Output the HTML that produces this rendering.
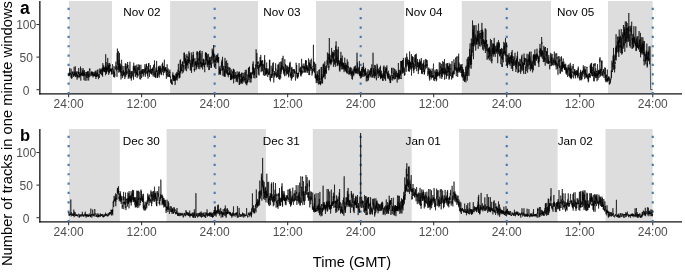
<!DOCTYPE html>
<html><head><meta charset="utf-8"><style>html,body{margin:0;padding:0;background:#fff;width:685px;height:273px;overflow:hidden}svg{display:block;will-change:transform}</style></head>
<body><svg width="685" height="273" viewBox="0 0 685 273" font-family="'Liberation Sans', sans-serif"><rect width="685" height="273" fill="#fff"/><rect x="69" y="1" width="43.00" height="92.7" fill="#dddddd"/>
<rect x="170.1" y="1" width="87.90" height="92.7" fill="#dddddd"/>
<rect x="316" y="1" width="88.20" height="92.7" fill="#dddddd"/>
<rect x="461.8" y="1" width="89.20" height="92.7" fill="#dddddd"/>
<rect x="608" y="1" width="44.70" height="92.7" fill="#dddddd"/>
<text x="123.35" y="16.2" font-size="11.73" fill="#000">Nov 02</text>
<text x="263.35" y="16.2" font-size="11.73" fill="#000">Nov 03</text>
<text x="405.35" y="16.2" font-size="11.73" fill="#000">Nov 04</text>
<text x="557.1" y="16.2" font-size="11.73" fill="#000">Nov 05</text>
<line x1="39.85" y1="1" x2="39.85" y2="94.6" stroke="#111" stroke-width="1.3"/>
<line x1="39.2" y1="93.9" x2="682" y2="93.9" stroke="#111" stroke-width="1.4"/>
<line x1="36.4" y1="89.7" x2="39.6" y2="89.7" stroke="#333" stroke-width="1.07"/>
<text x="26.15" y="94.60000000000001" font-size="12" fill="#4d4d4d" text-anchor="middle">0</text>
<line x1="36.4" y1="57.1" x2="39.6" y2="57.1" stroke="#333" stroke-width="1.07"/>
<text x="26.15" y="62.0" font-size="12" fill="#4d4d4d" text-anchor="middle">50</text>
<line x1="36.4" y1="24.5" x2="39.6" y2="24.5" stroke="#333" stroke-width="1.07"/>
<text x="26.15" y="29.4" font-size="12" fill="#4d4d4d" text-anchor="middle">100</text>
<line x1="68.60" y1="93.7" x2="68.60" y2="97.2" stroke="#333" stroke-width="1.07"/>
<text x="68.60" y="108" font-size="12" fill="#4d4d4d" text-anchor="middle">24:00</text>
<line x1="141.62" y1="93.7" x2="141.62" y2="97.2" stroke="#333" stroke-width="1.07"/>
<text x="141.62" y="108" font-size="12" fill="#4d4d4d" text-anchor="middle">12:00</text>
<line x1="214.64" y1="93.7" x2="214.64" y2="97.2" stroke="#333" stroke-width="1.07"/>
<text x="214.64" y="108" font-size="12" fill="#4d4d4d" text-anchor="middle">24:00</text>
<line x1="287.66" y1="93.7" x2="287.66" y2="97.2" stroke="#333" stroke-width="1.07"/>
<text x="287.66" y="108" font-size="12" fill="#4d4d4d" text-anchor="middle">12:00</text>
<line x1="360.68" y1="93.7" x2="360.68" y2="97.2" stroke="#333" stroke-width="1.07"/>
<text x="360.68" y="108" font-size="12" fill="#4d4d4d" text-anchor="middle">24:00</text>
<line x1="433.70" y1="93.7" x2="433.70" y2="97.2" stroke="#333" stroke-width="1.07"/>
<text x="433.70" y="108" font-size="12" fill="#4d4d4d" text-anchor="middle">12:00</text>
<line x1="506.72" y1="93.7" x2="506.72" y2="97.2" stroke="#333" stroke-width="1.07"/>
<text x="506.72" y="108" font-size="12" fill="#4d4d4d" text-anchor="middle">24:00</text>
<line x1="579.74" y1="93.7" x2="579.74" y2="97.2" stroke="#333" stroke-width="1.07"/>
<text x="579.74" y="108" font-size="12" fill="#4d4d4d" text-anchor="middle">12:00</text>
<line x1="652.76" y1="93.7" x2="652.76" y2="97.2" stroke="#333" stroke-width="1.07"/>
<text x="652.76" y="108" font-size="12" fill="#4d4d4d" text-anchor="middle">24:00</text>
<line x1="68.60" y1="94.1" x2="68.60" y2="1" stroke="#4579b0" stroke-width="2.1" stroke-dasharray="2.2 7.15"/>
<line x1="214.64" y1="94.1" x2="214.64" y2="1" stroke="#4579b0" stroke-width="2.1" stroke-dasharray="2.2 7.15"/>
<line x1="360.68" y1="94.1" x2="360.68" y2="1" stroke="#4579b0" stroke-width="2.1" stroke-dasharray="2.2 7.15"/>
<line x1="506.72" y1="94.1" x2="506.72" y2="1" stroke="#4579b0" stroke-width="2.1" stroke-dasharray="2.2 7.15"/>
<line x1="652.76" y1="94.1" x2="652.76" y2="1" stroke="#4579b0" stroke-width="2.1" stroke-dasharray="2.2 7.15"/>
<polyline fill="none" stroke="#000" stroke-width="0.6" stroke-linejoin="round" points="68.6,74.9 68.7,76.2 68.8,76.0 68.9,72.8 69.0,75.2 69.1,75.6 69.2,74.0 69.3,75.3 69.4,75.6 69.5,75.6 69.6,71.0 69.7,68.1 69.8,69.0 69.9,73.7 70.0,73.1 70.1,74.9 70.2,74.7 70.3,74.0 70.4,72.7 70.5,73.0 70.6,73.7 70.7,73.5 70.8,76.5 70.9,77.6 71.0,70.9 71.1,68.8 71.2,71.0 71.3,71.8 71.4,73.4 71.5,74.4 71.6,78.7 71.7,74.6 71.8,73.8 71.9,78.3 72.0,77.9 72.1,77.8 72.2,75.3 72.3,71.7 72.4,73.3 72.5,74.2 72.6,71.9 72.7,71.7 72.8,72.9 72.9,71.8 73.0,72.9 73.1,73.9 73.2,74.3 73.3,73.5 73.4,75.3 73.5,76.9 73.6,76.6 73.7,74.1 73.8,75.9 73.9,74.4 74.0,76.4 74.1,68.0 74.2,66.8 74.3,75.4 74.4,72.6 74.5,72.9 74.6,73.9 74.7,74.9 74.8,72.9 74.9,71.5 75.0,73.4 75.1,73.1 75.2,74.4 75.3,66.4 75.4,67.0 75.5,74.0 75.6,76.9 75.7,75.4 75.8,73.6 75.9,75.7 76.0,75.9 76.1,77.2 76.2,75.5 76.3,72.3 76.4,73.3 76.5,73.2 76.6,75.5 76.7,75.7 76.8,72.2 76.9,71.1 77.0,74.6 77.1,79.7 77.2,74.4 77.3,74.7 77.4,75.7 77.5,76.3 77.6,77.5 77.7,76.9 77.8,75.9 77.9,75.0 78.0,77.1 78.1,71.9 78.2,73.1 78.3,74.1 78.4,71.8 78.5,74.0 78.6,69.5 78.7,68.0 78.8,70.5 78.9,76.5 79.0,78.2 79.1,77.6 79.2,74.9 79.3,72.2 79.4,76.8 79.5,75.9 79.6,74.3 79.7,75.0 79.8,74.7 79.9,76.6 80.0,76.0 80.1,75.7 80.2,74.1 80.3,75.5 80.4,69.4 80.5,66.5 80.6,70.6 80.7,73.9 80.8,80.6 80.9,68.2 81.0,70.3 81.1,75.5 81.2,72.8 81.3,75.1 81.4,73.4 81.5,73.2 81.6,73.4 81.7,75.3 81.8,74.4 81.9,75.4 82.0,74.9 82.1,73.3 82.2,73.5 82.3,72.2 82.4,73.6 82.5,71.9 82.6,71.0 82.7,76.1 82.8,69.7 82.9,75.3 83.0,68.0 83.1,68.8 83.2,74.6 83.3,75.8 83.4,76.2 83.5,73.1 83.6,76.0 83.7,74.3 83.8,72.3 83.9,71.5 84.0,80.1 84.1,77.4 84.2,73.7 84.3,74.8 84.4,70.1 84.5,72.4 84.6,75.7 84.7,75.0 84.8,73.7 84.9,74.9 85.0,76.6 85.1,77.5 85.2,80.9 85.3,78.8 85.4,75.9 85.5,75.3 85.6,75.1 85.7,75.4 85.8,75.3 85.9,75.6 86.0,71.9 86.1,75.2 86.2,74.0 86.3,72.0 86.4,74.8 86.5,77.8 86.6,77.7 86.7,76.9 86.8,74.2 86.9,80.6 87.0,80.0 87.1,75.5 87.2,73.8 87.3,74.6 87.4,71.7 87.5,73.7 87.6,73.4 87.7,76.7 87.8,77.9 87.9,71.4 88.0,73.2 88.1,71.0 88.2,75.0 88.3,75.4 88.4,76.4 88.5,73.8 88.6,77.9 88.7,80.5 88.8,76.1 88.9,76.4 89.0,74.6 89.1,74.8 89.2,72.6 89.3,77.3 89.4,68.9 89.5,69.3 89.6,70.3 89.7,70.5 89.8,68.3 89.9,68.6 90.0,70.8 90.1,72.4 90.2,72.9 90.3,73.6 90.4,73.7 90.5,74.6 90.6,74.4 90.7,76.3 90.8,75.2 90.9,75.0 91.0,73.9 91.1,73.5 91.2,71.9 91.3,74.5 91.4,72.7 91.5,72.4 91.6,74.5 91.7,75.7 91.8,74.8 91.9,71.1 92.0,73.9 92.1,75.1 92.2,72.5 92.3,75.4 92.4,74.0 92.5,72.4 92.6,74.0 92.7,74.3 92.8,75.3 92.9,72.1 93.0,77.4 93.1,75.3 93.2,72.3 93.3,75.0 93.4,74.6 93.5,75.7 93.6,75.0 93.7,75.1 93.8,75.9 93.9,74.2 94.0,76.3 94.1,75.0 94.2,73.5 94.3,74.6 94.4,76.0 94.5,75.4 94.6,73.7 94.7,75.9 94.8,72.1 94.9,71.6 95.0,73.5 95.1,71.7 95.2,73.6 95.3,74.4 95.4,76.8 95.5,74.5 95.6,73.8 95.7,75.3 95.8,70.6 95.9,79.0 96.0,76.2 96.1,74.5 96.2,76.7 96.3,76.2 96.4,72.5 96.5,75.2 96.6,77.0 96.7,75.6 96.8,75.1 96.9,76.3 97.0,74.3 97.1,71.1 97.2,70.1 97.3,72.0 97.4,72.6 97.5,73.6 97.6,73.0 97.7,76.0 97.8,72.0 97.9,69.4 98.0,71.3 98.1,76.8 98.2,74.9 98.3,76.4 98.4,79.2 98.5,77.1 98.6,75.4 98.7,75.3 98.8,74.7 98.9,74.0 99.0,75.0 99.1,74.8 99.2,77.6 99.3,76.7 99.4,76.6 99.5,77.6 99.6,75.9 99.7,69.6 99.8,68.4 99.9,70.3 100.0,73.2 100.1,73.4 100.2,71.0 100.3,72.2 100.4,69.5 100.5,74.1 100.6,73.6 100.7,72.1 100.8,70.6 100.9,70.7 101.0,71.1 101.1,69.4 101.2,68.6 101.3,69.8 101.4,69.6 101.5,72.8 101.6,75.0 101.7,73.5 101.8,73.7 101.9,69.3 102.0,71.7 102.1,71.3 102.2,72.3 102.3,75.7 102.4,67.5 102.5,69.5 102.6,76.7 102.7,70.1 102.8,63.2 102.9,64.5 103.0,68.8 103.1,71.0 103.2,70.7 103.3,68.1 103.4,67.3 103.5,70.7 103.6,70.1 103.7,65.1 103.8,69.3 103.9,70.4 104.0,72.2 104.1,69.8 104.2,71.7 104.3,67.4 104.4,69.5 104.5,67.7 104.6,69.9 104.7,72.1 104.8,68.2 104.9,68.0 105.0,68.1 105.1,71.5 105.2,71.9 105.3,66.5 105.4,68.3 105.5,70.2 105.6,75.3 105.7,54.2 105.8,65.3 105.9,70.1 106.0,64.7 106.1,62.2 106.2,66.1 106.3,69.7 106.4,66.7 106.5,73.9 106.6,68.5 106.7,72.5 106.8,70.3 106.9,72.0 107.0,67.4 107.1,67.1 107.2,67.1 107.3,70.7 107.4,71.1 107.5,67.6 107.6,69.7 107.7,57.9 107.8,69.5 107.9,68.2 108.0,67.6 108.1,63.2 108.2,66.0 108.3,67.7 108.4,65.7 108.5,69.0 108.6,65.0 108.7,74.9 108.8,65.4 108.9,72.2 109.0,66.4 109.1,69.0 109.2,71.4 109.3,71.2 109.4,73.3 109.5,68.7 109.6,62.9 109.7,67.7 109.8,65.2 109.9,66.1 110.0,64.3 110.1,69.2 110.2,71.4 110.3,68.5 110.4,71.1 110.5,70.5 110.6,69.5 110.7,69.4 110.8,68.7 110.9,70.5 111.0,70.7 111.1,69.0 111.2,71.8 111.3,68.9 111.4,69.8 111.5,70.6 111.6,74.0 111.7,70.4 111.8,74.7 111.9,72.7 112.0,70.5 112.1,67.9 112.2,70.1 112.3,69.8 112.4,66.3 112.5,64.2 112.6,64.8 112.7,64.7 112.8,69.9 112.9,73.5 113.0,74.1 113.1,72.9 113.2,69.9 113.3,69.7 113.4,72.1 113.5,77.1 113.6,76.3 113.7,72.1 113.8,70.8 113.9,68.4 114.0,66.1 114.1,66.7 114.2,68.1 114.3,74.1 114.4,71.8 114.5,74.6 114.6,77.5 114.7,73.6 114.8,76.4 114.9,75.1 115.0,70.6 115.1,70.3 115.2,69.3 115.3,67.9 115.4,67.2 115.5,67.9 115.6,69.3 115.7,65.5 115.8,66.4 115.9,61.6 116.0,65.1 116.1,68.3 116.2,68.5 116.3,68.9 116.4,70.3 116.5,66.5 116.6,65.9 116.7,68.2 116.8,71.3 116.9,70.8 117.0,76.9 117.1,59.9 117.2,52.9 117.3,64.7 117.4,48.6 117.5,53.2 117.6,61.9 117.7,64.8 117.8,70.0 117.9,69.7 118.0,69.2 118.1,66.8 118.2,69.2 118.3,55.6 118.4,51.1 118.5,57.7 118.6,61.3 118.7,72.5 118.8,65.0 118.9,62.0 119.0,60.0 119.1,67.8 119.2,64.4 119.3,68.6 119.4,70.6 119.5,52.9 119.6,64.3 119.7,63.7 119.8,72.2 119.9,65.5 120.0,63.5 120.1,65.1 120.2,69.8 120.3,70.2 120.4,72.4 120.5,66.6 120.6,71.3 120.7,72.4 120.8,64.5 120.9,72.6 121.0,79.5 121.1,72.1 121.2,71.0 121.3,75.7 121.4,61.1 121.5,59.8 121.6,59.8 121.7,62.2 121.8,63.6 121.9,68.7 122.0,70.3 122.1,65.8 122.2,69.9 122.3,76.7 122.4,78.0 122.5,78.0 122.6,74.8 122.7,76.3 122.8,70.7 122.9,73.3 123.0,72.1 123.1,75.3 123.2,75.0 123.3,70.1 123.4,71.2 123.5,75.1 123.6,70.3 123.7,69.5 123.8,68.5 123.9,66.1 124.0,71.6 124.1,75.6 124.2,76.3 124.3,75.3 124.4,74.0 124.5,74.1 124.6,71.8 124.7,74.6 124.8,79.1 124.9,77.3 125.0,74.3 125.1,74.0 125.2,64.8 125.3,63.3 125.4,66.5 125.5,70.1 125.6,72.3 125.7,77.1 125.8,76.8 125.9,63.7 126.0,75.2 126.1,69.3 126.2,66.4 126.3,66.1 126.4,68.6 126.5,71.1 126.6,73.4 126.7,72.1 126.8,74.5 126.9,72.8 127.0,70.7 127.1,73.5 127.2,70.5 127.3,64.3 127.4,65.0 127.5,68.3 127.6,62.0 127.7,65.6 127.8,67.7 127.9,66.0 128.0,65.0 128.1,67.1 128.2,78.6 128.3,77.8 128.4,73.6 128.5,69.1 128.6,68.4 128.7,72.0 128.8,76.9 128.9,75.8 129.0,75.1 129.1,78.5 129.2,75.8 129.3,73.6 129.4,69.7 129.5,69.8 129.6,76.4 129.7,71.3 129.8,72.0 129.9,61.7 130.0,64.6 130.1,74.0 130.2,73.0 130.3,74.7 130.4,75.7 130.5,75.6 130.6,78.5 130.7,78.0 130.8,75.1 130.9,72.6 131.0,70.9 131.1,73.1 131.2,72.4 131.3,79.3 131.4,80.6 131.5,77.0 131.6,74.6 131.7,78.0 131.8,71.5 131.9,71.2 132.0,74.4 132.1,71.7 132.2,71.3 132.3,71.4 132.4,73.8 132.5,73.9 132.6,74.5 132.7,75.4 132.8,74.5 132.9,76.6 133.0,73.3 133.1,69.8 133.2,67.1 133.3,65.9 133.4,67.8 133.5,79.6 133.6,73.3 133.7,62.7 133.8,65.0 133.9,70.0 134.0,70.4 134.1,70.3 134.2,68.0 134.3,69.2 134.4,73.4 134.5,67.9 134.6,69.7 134.7,66.0 134.8,69.6 134.9,69.3 135.0,65.8 135.1,69.3 135.2,75.5 135.3,74.7 135.4,76.9 135.5,75.0 135.6,68.8 135.7,72.0 135.8,71.5 135.9,65.5 136.0,67.6 136.1,73.6 136.2,72.2 136.3,74.8 136.4,72.0 136.5,74.2 136.6,71.5 136.7,73.7 136.8,67.0 136.9,65.2 137.0,64.5 137.1,78.1 137.2,73.9 137.3,72.5 137.4,75.1 137.5,67.5 137.6,67.5 137.7,72.8 137.8,74.4 137.9,76.5 138.0,74.4 138.1,75.5 138.2,72.8 138.3,69.7 138.4,67.2 138.5,68.7 138.6,69.6 138.7,69.9 138.8,64.2 138.9,64.3 139.0,66.2 139.1,65.1 139.2,70.4 139.3,69.7 139.4,65.7 139.5,74.4 139.6,71.3 139.7,76.6 139.8,79.2 139.9,77.4 140.0,74.3 140.1,74.3 140.2,71.2 140.3,72.9 140.4,73.2 140.5,74.7 140.6,76.6 140.7,79.5 140.8,75.9 140.9,64.7 141.0,73.7 141.1,71.5 141.2,70.9 141.3,69.7 141.4,73.8 141.5,75.9 141.6,77.9 141.7,75.8 141.8,75.4 141.9,73.1 142.0,70.5 142.1,72.9 142.2,73.8 142.3,71.0 142.4,73.5 142.5,69.3 142.6,70.7 142.7,70.4 142.8,70.5 142.9,69.2 143.0,73.3 143.1,74.6 143.2,76.7 143.3,75.4 143.4,71.3 143.5,71.2 143.6,69.2 143.7,72.0 143.8,75.3 143.9,75.0 144.0,72.6 144.1,71.8 144.2,72.7 144.3,69.2 144.4,71.1 144.5,72.3 144.6,71.1 144.7,70.7 144.8,65.6 144.9,64.2 145.0,69.1 145.1,72.5 145.2,73.0 145.3,76.8 145.4,72.3 145.5,67.8 145.6,72.1 145.7,74.5 145.8,71.5 145.9,68.1 146.0,69.7 146.1,66.3 146.2,67.9 146.3,64.1 146.4,67.0 146.5,63.7 146.6,66.7 146.7,72.8 146.8,71.6 146.9,73.7 147.0,71.2 147.1,69.1 147.2,66.4 147.3,71.5 147.4,71.5 147.5,75.9 147.6,71.0 147.7,70.8 147.8,71.4 147.9,75.3 148.0,78.6 148.1,73.8 148.2,69.9 148.3,66.2 148.4,72.3 148.5,65.1 148.6,63.3 148.7,66.8 148.8,64.4 148.9,63.1 149.0,69.6 149.1,71.7 149.2,72.2 149.3,69.4 149.4,72.1 149.5,76.9 149.6,71.3 149.7,71.7 149.8,70.6 149.9,72.2 150.0,72.2 150.1,71.7 150.2,69.4 150.3,70.6 150.4,65.1 150.5,70.2 150.6,70.8 150.7,73.1 150.8,70.9 150.9,70.4 151.0,74.0 151.1,72.3 151.2,71.3 151.3,73.8 151.4,73.5 151.5,72.8 151.6,72.8 151.7,68.8 151.8,71.2 151.9,74.8 152.0,74.8 152.1,69.0 152.2,70.7 152.3,68.5 152.4,69.1 152.5,70.3 152.6,67.5 152.7,72.5 152.8,71.6 152.9,73.3 153.0,73.8 153.1,75.9 153.2,76.6 153.3,70.2 153.4,70.6 153.5,65.2 153.6,66.6 153.7,70.4 153.8,73.0 153.9,75.4 154.0,72.4 154.1,72.6 154.2,67.0 154.3,64.0 154.4,67.2 154.5,60.4 154.6,64.7 154.7,77.2 154.8,73.6 154.9,74.0 155.0,74.7 155.1,74.6 155.2,71.4 155.3,75.2 155.4,73.6 155.5,76.5 155.6,77.8 155.7,71.7 155.8,77.7 155.9,67.6 156.0,70.0 156.1,70.8 156.2,71.9 156.3,69.7 156.4,71.7 156.5,67.7 156.6,60.9 156.7,63.9 156.8,71.7 156.9,71.4 157.0,71.1 157.1,75.9 157.2,77.3 157.3,77.0 157.4,72.6 157.5,78.0 157.6,76.0 157.7,72.5 157.8,71.2 157.9,70.0 158.0,76.2 158.1,74.6 158.2,73.3 158.3,66.8 158.4,70.7 158.5,68.2 158.6,66.5 158.7,70.3 158.8,68.4 158.9,71.8 159.0,74.5 159.1,68.1 159.2,77.6 159.3,65.7 159.4,67.9 159.5,71.7 159.6,67.6 159.7,74.0 159.8,71.7 159.9,68.0 160.0,68.9 160.1,71.9 160.2,67.5 160.3,68.9 160.4,65.8 160.5,71.3 160.6,71.4 160.7,69.8 160.8,72.9 160.9,68.2 161.0,68.1 161.1,74.3 161.2,72.2 161.3,75.2 161.4,73.6 161.5,70.2 161.6,69.6 161.7,70.1 161.8,69.1 161.9,67.4 162.0,66.5 162.1,64.1 162.2,67.2 162.3,69.7 162.4,72.1 162.5,66.3 162.6,62.5 162.7,70.3 162.8,66.3 162.9,68.4 163.0,71.6 163.1,72.5 163.2,73.6 163.3,74.8 163.4,75.3 163.5,73.0 163.6,66.0 163.7,65.8 163.8,68.9 163.9,68.2 164.0,71.1 164.1,73.0 164.2,63.2 164.3,62.2 164.4,59.7 164.5,65.0 164.6,70.7 164.7,68.4 164.8,70.9 164.9,69.1 165.0,72.2 165.1,68.4 165.2,69.7 165.3,68.0 165.4,68.8 165.5,68.9 165.6,67.1 165.7,70.8 165.8,67.9 165.9,67.2 166.0,71.5 166.1,74.1 166.2,74.7 166.3,74.3 166.4,78.8 166.5,73.0 166.6,70.9 166.7,69.3 166.8,72.9 166.9,73.4 167.0,75.6 167.1,64.3 167.2,66.3 167.3,72.0 167.4,70.4 167.5,76.4 167.6,77.1 167.7,76.7 167.8,74.6 167.9,73.8 168.0,73.1 168.1,72.8 168.2,68.6 168.3,71.0 168.4,71.7 168.5,73.4 168.6,74.3 168.7,76.2 168.8,75.6 168.9,77.0 169.0,71.6 169.1,71.4 169.2,76.7 169.3,74.2 169.4,74.7 169.5,77.0 169.6,75.3 169.7,73.1 169.8,69.6 169.9,72.5 170.0,72.5 170.1,71.9 170.2,74.8 170.3,75.9 170.4,77.9 170.5,76.5 170.6,82.6 170.7,81.1 170.8,80.4 170.9,81.1 171.0,80.3 171.1,79.2 171.2,80.1 171.3,82.3 171.4,83.0 171.5,83.8 171.6,81.4 171.7,79.6 171.8,84.0 171.9,82.1 172.0,82.4 172.1,83.1 172.2,84.8 172.3,80.2 172.4,79.3 172.5,78.9 172.6,79.0 172.7,74.5 172.8,76.9 172.9,72.4 173.0,76.5 173.1,79.4 173.2,76.4 173.3,75.1 173.4,81.1 173.5,78.8 173.6,76.6 173.7,75.9 173.8,75.8 173.9,78.1 174.0,80.9 174.1,75.6 174.2,76.2 174.3,80.0 174.4,80.3 174.5,81.1 174.6,76.5 174.7,80.0 174.8,75.5 174.9,77.4 175.0,81.5 175.1,85.0 175.2,83.4 175.3,83.4 175.4,79.3 175.5,77.2 175.6,80.6 175.7,79.2 175.8,77.9 175.9,73.4 176.0,75.4 176.1,77.9 176.2,74.9 176.3,74.0 176.4,79.8 176.5,78.7 176.6,76.5 176.7,72.5 176.8,71.9 176.9,72.6 177.0,78.2 177.1,74.8 177.2,80.6 177.3,75.0 177.4,73.8 177.5,76.7 177.6,75.0 177.7,72.3 177.8,72.8 177.9,74.7 178.0,69.7 178.1,71.0 178.2,72.0 178.3,65.7 178.4,63.8 178.5,66.7 178.6,71.8 178.7,72.4 178.8,74.5 178.9,73.0 179.0,78.5 179.1,72.3 179.2,75.7 179.3,71.6 179.4,71.1 179.5,72.3 179.6,77.8 179.7,77.4 179.8,73.3 179.9,77.4 180.0,72.9 180.1,60.2 180.2,71.1 180.3,70.9 180.4,73.4 180.5,62.3 180.6,59.5 180.7,64.0 180.8,71.7 180.9,70.3 181.0,67.3 181.1,70.8 181.2,70.2 181.3,70.9 181.4,68.4 181.5,68.1 181.6,64.2 181.7,65.9 181.8,69.2 181.9,68.5 182.0,70.9 182.1,70.1 182.2,73.5 182.3,69.6 182.4,61.9 182.5,65.3 182.6,64.8 182.7,61.4 182.8,65.7 182.9,66.5 183.0,67.6 183.1,65.1 183.2,65.8 183.3,66.3 183.4,72.4 183.5,66.2 183.6,65.4 183.7,66.3 183.8,58.9 183.9,55.3 184.0,52.7 184.1,55.7 184.2,63.5 184.3,56.0 184.4,52.7 184.5,53.9 184.6,54.9 184.7,61.6 184.8,57.3 184.9,57.5 185.0,54.7 185.1,70.5 185.2,65.4 185.3,68.6 185.4,69.0 185.5,65.1 185.6,58.1 185.7,65.3 185.8,59.2 185.9,58.9 186.0,63.3 186.1,66.5 186.2,61.5 186.3,61.5 186.4,60.8 186.5,65.2 186.6,71.2 186.7,61.5 186.8,64.8 186.9,54.1 187.0,57.8 187.1,56.1 187.2,65.5 187.3,64.7 187.4,61.2 187.5,60.1 187.6,59.2 187.7,61.4 187.8,61.4 187.9,64.1 188.0,68.6 188.1,68.3 188.2,61.7 188.3,56.8 188.4,57.0 188.5,63.2 188.6,62.0 188.7,60.2 188.8,62.0 188.9,51.3 189.0,53.0 189.1,61.2 189.2,61.1 189.3,53.0 189.4,54.2 189.5,61.2 189.6,60.0 189.7,60.0 189.8,63.7 189.9,63.9 190.0,59.8 190.1,60.6 190.2,64.2 190.3,70.3 190.4,63.6 190.5,64.9 190.6,63.7 190.7,66.6 190.8,67.0 190.9,70.6 191.0,69.4 191.1,65.1 191.2,62.7 191.3,52.5 191.4,65.5 191.5,72.7 191.6,73.0 191.7,65.5 191.8,65.8 191.9,60.3 192.0,56.2 192.1,55.1 192.2,64.4 192.3,60.5 192.4,67.2 192.5,62.1 192.6,58.7 192.7,62.9 192.8,63.7 192.9,62.9 193.0,62.7 193.1,63.5 193.2,51.8 193.3,62.2 193.4,56.1 193.5,54.6 193.6,60.3 193.7,59.0 193.8,62.4 193.9,66.6 194.0,63.5 194.1,64.0 194.2,70.2 194.3,69.0 194.4,71.6 194.5,71.6 194.6,70.5 194.7,66.4 194.8,61.6 194.9,58.1 195.0,61.5 195.1,63.2 195.2,62.0 195.3,64.8 195.4,61.4 195.5,65.3 195.6,63.8 195.7,62.8 195.8,62.4 195.9,61.8 196.0,70.1 196.1,61.0 196.2,61.9 196.3,66.0 196.4,66.5 196.5,63.4 196.6,68.5 196.7,61.9 196.8,55.1 196.9,52.7 197.0,54.7 197.1,51.0 197.2,58.8 197.3,62.7 197.4,64.8 197.5,61.8 197.6,62.4 197.7,53.8 197.8,51.9 197.9,66.8 198.0,67.0 198.1,58.1 198.2,62.5 198.3,67.2 198.4,68.8 198.5,68.3 198.6,65.4 198.7,62.6 198.8,64.3 198.9,64.4 199.0,64.0 199.1,53.9 199.2,52.2 199.3,61.0 199.4,55.7 199.5,51.1 199.6,57.3 199.7,67.8 199.8,69.3 199.9,68.4 200.0,60.8 200.1,50.4 200.2,67.1 200.3,64.4 200.4,63.4 200.5,61.6 200.6,63.2 200.7,63.7 200.8,61.7 200.9,53.3 201.0,57.1 201.1,61.0 201.2,63.3 201.3,62.2 201.4,63.7 201.5,66.5 201.6,63.0 201.7,67.6 201.8,58.6 201.9,56.0 202.0,55.8 202.1,51.0 202.2,52.5 202.3,61.2 202.4,65.9 202.5,64.7 202.6,69.5 202.7,67.2 202.8,63.4 202.9,63.8 203.0,62.8 203.1,65.2 203.2,59.0 203.3,64.0 203.4,61.8 203.5,65.1 203.6,58.8 203.7,59.2 203.8,61.1 203.9,64.9 204.0,59.8 204.1,66.8 204.2,66.7 204.3,63.2 204.4,67.2 204.5,65.6 204.6,68.3 204.7,72.2 204.8,71.3 204.9,65.6 205.0,62.9 205.1,64.7 205.2,64.7 205.3,57.0 205.4,53.2 205.5,56.7 205.6,52.3 205.7,53.7 205.8,62.5 205.9,61.7 206.0,64.5 206.1,52.6 206.2,55.2 206.3,60.2 206.4,56.6 206.5,53.0 206.6,61.0 206.7,60.8 206.8,59.6 206.9,59.8 207.0,56.5 207.1,59.9 207.2,65.0 207.3,67.2 207.4,59.8 207.5,65.0 207.6,61.1 207.7,55.3 207.8,54.3 207.9,54.5 208.0,57.7 208.1,56.2 208.2,53.9 208.3,56.5 208.4,64.7 208.5,61.0 208.6,62.6 208.7,62.3 208.8,70.1 208.9,60.2 209.0,64.1 209.1,58.8 209.2,58.1 209.3,59.2 209.4,69.9 209.5,63.7 209.6,56.8 209.7,62.8 209.8,59.5 209.9,59.5 210.0,60.2 210.1,61.0 210.2,60.6 210.3,61.7 210.4,62.7 210.5,64.7 210.6,61.8 210.7,59.3 210.8,56.9 210.9,60.7 211.0,67.9 211.1,62.7 211.2,63.7 211.3,67.8 211.4,65.5 211.5,65.9 211.6,60.1 211.7,57.3 211.8,58.1 211.9,55.8 212.0,60.4 212.1,50.8 212.2,48.6 212.3,52.4 212.4,53.0 212.5,55.7 212.6,54.8 212.7,52.4 212.8,50.3 212.9,54.9 213.0,63.7 213.1,60.6 213.2,59.1 213.3,51.8 213.4,52.8 213.5,57.2 213.6,45.0 213.7,48.2 213.8,59.4 213.9,62.6 214.1,53.7 214.2,57.8 214.3,66.4 214.4,67.0 214.5,66.5 214.6,65.8 214.7,67.6 214.8,62.2 214.9,59.6 215.0,62.2 215.1,60.2 215.2,62.1 215.3,56.3 215.4,61.6 215.5,64.9 215.6,64.2 215.7,64.2 215.8,69.0 215.9,62.9 216.0,60.1 216.1,58.0 216.2,59.1 216.3,57.8 216.4,60.5 216.5,59.8 216.6,56.8 216.7,54.9 216.8,63.0 216.9,63.2 217.0,62.9 217.1,57.4 217.2,55.1 217.3,60.6 217.4,56.1 217.5,57.4 217.6,61.7 217.7,59.5 217.8,53.5 217.9,58.5 218.0,62.3 218.1,57.0 218.2,57.9 218.3,58.7 218.4,62.8 218.5,61.1 218.6,60.0 218.7,57.0 218.8,70.2 218.9,74.8 219.0,74.8 219.1,74.9 219.2,69.0 219.3,66.4 219.4,67.1 219.5,73.4 219.6,72.4 219.7,73.6 219.8,69.9 219.9,70.3 220.0,71.0 220.1,67.7 220.2,69.8 220.3,73.4 220.4,69.2 220.5,71.5 220.6,74.8 220.7,71.6 220.8,69.7 220.9,67.8 221.0,65.8 221.1,67.1 221.2,66.1 221.3,65.9 221.4,64.5 221.5,61.3 221.6,61.5 221.7,65.5 221.8,63.1 221.9,63.4 222.0,70.7 222.1,59.5 222.2,61.2 222.3,70.5 222.4,67.6 222.5,56.8 222.6,59.8 222.7,69.2 222.8,73.2 222.9,75.8 223.0,72.7 223.1,68.5 223.2,69.4 223.3,68.3 223.4,68.3 223.5,69.1 223.6,68.9 223.7,65.9 223.8,70.0 223.9,71.9 224.0,74.7 224.1,76.6 224.2,69.2 224.3,73.3 224.4,75.6 224.5,71.2 224.6,73.7 224.7,76.4 224.8,71.7 224.9,60.6 225.0,57.9 225.1,76.9 225.2,74.5 225.3,68.7 225.4,68.5 225.5,66.1 225.6,66.7 225.7,68.5 225.8,61.3 225.9,66.5 226.0,72.6 226.1,71.0 226.2,69.5 226.3,73.4 226.4,68.3 226.5,65.7 226.6,61.5 226.7,60.4 226.8,69.9 226.9,70.3 227.0,72.4 227.1,74.4 227.2,74.6 227.3,71.0 227.4,70.6 227.5,74.7 227.6,65.6 227.7,63.0 227.8,65.3 227.9,70.8 228.0,68.7 228.1,66.9 228.2,76.3 228.3,77.2 228.4,73.5 228.5,73.2 228.6,74.9 228.7,73.3 228.8,74.9 228.9,72.8 229.0,72.3 229.1,72.8 229.2,72.2 229.3,67.2 229.4,70.4 229.5,72.8 229.6,74.6 229.7,72.3 229.8,74.1 229.9,74.9 230.0,70.9 230.1,67.9 230.2,72.2 230.3,71.5 230.4,75.4 230.5,79.9 230.6,76.6 230.7,74.5 230.8,74.9 230.9,80.2 231.0,73.6 231.1,77.1 231.2,71.8 231.3,69.5 231.4,76.0 231.5,77.8 231.6,78.7 231.7,74.7 231.8,79.7 231.9,77.2 232.0,77.3 232.1,75.4 232.2,76.4 232.3,78.7 232.4,75.6 232.5,72.0 232.6,72.7 232.7,71.2 232.8,71.6 232.9,73.2 233.0,74.3 233.1,78.0 233.2,71.0 233.3,68.9 233.4,71.7 233.5,68.9 233.6,83.3 233.7,80.8 233.8,69.3 233.9,78.5 234.0,73.8 234.1,71.9 234.2,70.2 234.3,70.7 234.4,72.7 234.5,77.1 234.6,78.5 234.7,78.7 234.8,76.8 234.9,75.0 235.0,75.9 235.1,76.6 235.2,77.3 235.3,78.0 235.4,77.2 235.5,72.6 235.6,72.0 235.7,72.4 235.8,78.5 235.9,76.9 236.0,78.6 236.1,81.4 236.2,82.1 236.3,78.1 236.4,77.1 236.5,75.0 236.6,76.8 236.7,79.8 236.8,80.1 236.9,80.8 237.0,73.6 237.1,71.3 237.2,79.9 237.3,79.4 237.4,80.4 237.5,82.2 237.6,74.8 237.7,75.1 237.8,76.0 237.9,74.7 238.0,78.2 238.1,78.8 238.2,77.7 238.3,74.4 238.4,73.3 238.5,73.4 238.6,76.8 238.7,74.9 238.8,72.0 238.9,71.8 239.0,73.6 239.1,79.8 239.2,85.0 239.3,73.2 239.4,71.7 239.5,84.0 239.6,84.6 239.7,81.9 239.8,77.7 239.9,77.3 240.0,74.0 240.1,76.9 240.2,73.8 240.3,75.3 240.4,77.0 240.5,78.7 240.6,81.8 240.7,83.8 240.8,83.6 240.9,80.2 241.0,79.1 241.1,82.0 241.2,79.6 241.3,79.5 241.4,83.0 241.5,81.8 241.6,72.7 241.7,75.1 241.8,80.2 241.9,79.6 242.0,72.7 242.1,84.1 242.2,80.8 242.3,79.3 242.4,79.4 242.5,77.0 242.6,79.2 242.7,79.1 242.8,81.2 242.9,79.3 243.0,77.5 243.1,82.6 243.2,72.9 243.3,74.3 243.4,77.2 243.5,77.6 243.6,76.5 243.7,77.8 243.8,77.0 243.9,77.2 244.0,79.0 244.1,80.8 244.2,81.2 244.3,78.7 244.4,79.9 244.5,79.4 244.6,79.1 244.7,73.0 244.8,72.3 244.9,73.6 245.0,82.6 245.1,82.4 245.2,71.3 245.3,69.9 245.4,71.5 245.5,77.4 245.6,79.6 245.7,78.6 245.8,83.4 245.9,81.5 246.0,83.7 246.1,84.4 246.2,80.7 246.3,73.9 246.4,69.8 246.5,73.9 246.6,77.4 246.7,80.5 246.8,85.3 246.9,82.0 247.0,83.4 247.1,80.6 247.2,82.5 247.3,79.8 247.4,82.0 247.5,81.3 247.6,79.2 247.7,79.0 247.8,77.0 247.9,74.4 248.0,82.1 248.1,74.8 248.2,73.3 248.3,70.8 248.4,68.0 248.5,70.4 248.6,76.6 248.7,71.4 248.8,67.4 248.9,79.9 249.0,76.4 249.1,75.5 249.2,75.3 249.3,75.4 249.4,73.9 249.5,66.6 249.6,77.1 249.7,75.0 249.8,77.7 249.9,82.1 250.0,82.5 250.1,74.8 250.2,77.2 250.3,77.7 250.4,78.1 250.5,72.6 250.6,75.8 250.7,72.7 250.8,77.2 250.9,79.0 251.0,82.5 251.1,78.8 251.2,72.9 251.3,76.5 251.4,78.0 251.5,75.4 251.6,78.6 251.7,78.6 251.8,73.1 251.9,72.6 252.0,72.1 252.1,72.6 252.2,73.7 252.3,71.9 252.4,72.2 252.5,74.5 252.6,73.9 252.7,73.0 252.8,63.8 252.9,72.3 253.0,67.1 253.1,70.1 253.2,61.4 253.3,70.4 253.4,66.8 253.5,72.0 253.6,72.7 253.7,68.1 253.8,78.1 253.9,68.5 254.0,75.5 254.1,75.2 254.2,70.7 254.3,71.5 254.4,71.0 254.5,74.9 254.6,74.1 254.7,74.1 254.8,68.4 254.9,71.9 255.0,78.4 255.1,76.7 255.2,73.3 255.3,72.1 255.4,67.2 255.5,68.7 255.6,64.6 255.7,66.5 255.8,65.9 255.9,63.8 256.0,60.5 256.1,49.3 256.2,53.4 256.3,61.0 256.4,71.2 256.5,77.4 256.6,76.4 256.7,77.6 256.8,55.3 256.9,53.0 257.0,55.3 257.1,65.6 257.2,67.0 257.3,65.3 257.4,64.7 257.5,68.7 257.6,67.7 257.7,61.9 257.8,63.6 257.9,62.5 258.0,63.6 258.1,61.3 258.2,68.3 258.3,74.6 258.4,67.3 258.5,69.5 258.6,70.6 258.7,65.2 258.8,66.4 258.9,71.6 259.0,72.4 259.1,75.5 259.2,67.6 259.3,64.7 259.4,66.7 259.5,67.9 259.6,67.4 259.7,65.8 259.8,64.8 259.9,63.5 260.0,66.4 260.1,57.0 260.2,66.7 260.3,64.7 260.4,60.5 260.5,64.9 260.6,60.6 260.7,64.4 260.8,54.9 260.9,66.8 261.0,69.2 261.1,72.2 261.2,67.6 261.3,65.8 261.4,65.7 261.5,60.7 261.6,65.0 261.7,65.7 261.8,60.9 261.9,67.2 262.0,71.2 262.1,63.9 262.2,66.6 262.3,70.4 262.4,71.1 262.5,64.9 262.6,60.0 262.7,61.8 262.8,61.5 262.9,63.0 263.0,63.5 263.1,66.2 263.2,63.9 263.3,64.1 263.4,75.1 263.5,70.8 263.6,71.3 263.7,70.2 263.8,69.4 263.9,65.2 264.0,67.9 264.1,67.5 264.2,70.3 264.3,76.0 264.4,73.0 264.5,63.1 264.6,55.1 264.7,68.6 264.8,59.8 264.9,63.7 265.0,68.5 265.1,69.6 265.2,69.1 265.3,68.8 265.4,68.3 265.5,75.2 265.6,70.6 265.7,69.5 265.8,68.5 265.9,73.4 266.0,71.7 266.1,75.5 266.2,74.3 266.3,73.3 266.4,68.8 266.5,73.7 266.6,65.7 266.7,62.5 266.8,73.3 266.9,71.7 267.0,68.4 267.1,72.8 267.2,73.4 267.3,71.9 267.4,70.3 267.5,71.6 267.6,71.7 267.7,76.8 267.8,77.1 267.9,73.3 268.0,69.7 268.1,70.3 268.2,68.6 268.3,70.6 268.4,72.7 268.5,74.5 268.6,74.9 268.7,73.3 268.8,74.8 268.9,71.2 269.0,71.6 269.1,74.6 269.2,74.6 269.3,69.9 269.4,59.9 269.5,61.9 269.6,74.1 269.7,68.8 269.8,59.8 269.9,77.1 270.0,78.5 270.1,80.1 270.2,75.4 270.3,76.6 270.4,81.5 270.5,79.2 270.6,77.7 270.7,74.7 270.8,74.0 270.9,74.8 271.0,71.4 271.1,65.7 271.2,66.3 271.3,71.2 271.4,72.8 271.5,77.4 271.6,77.8 271.7,74.1 271.8,75.5 271.9,78.0 272.0,76.9 272.1,74.5 272.2,76.2 272.3,74.1 272.4,68.5 272.5,74.8 272.6,70.7 272.7,64.4 272.8,63.2 272.9,71.7 273.0,71.9 273.1,68.8 273.2,64.8 273.3,62.3 273.4,64.6 273.5,77.1 273.6,79.0 273.7,80.7 273.8,82.4 273.9,80.4 274.0,73.4 274.1,74.4 274.2,74.5 274.3,74.7 274.4,72.9 274.5,71.1 274.6,74.8 274.7,77.3 274.8,72.9 274.9,75.1 275.0,74.3 275.1,73.3 275.2,75.6 275.3,74.9 275.4,73.1 275.5,73.8 275.6,63.3 275.7,65.2 275.8,70.5 275.9,68.4 276.0,71.5 276.1,73.4 276.2,72.2 276.3,72.6 276.4,75.1 276.5,77.5 276.6,73.9 276.7,74.9 276.8,77.3 276.9,75.7 277.0,72.9 277.1,71.4 277.2,71.7 277.3,70.0 277.4,77.1 277.5,74.2 277.6,75.0 277.7,75.0 277.8,66.2 277.9,64.7 278.0,66.9 278.1,76.3 278.2,75.0 278.3,68.4 278.4,64.4 278.5,77.6 278.6,77.8 278.7,79.0 278.8,78.7 278.9,76.9 279.0,76.0 279.1,73.0 279.2,63.4 279.3,62.3 279.4,68.6 279.5,77.3 279.6,79.4 279.7,79.5 279.8,75.1 279.9,79.4 280.0,72.0 280.1,69.1 280.2,68.6 280.3,67.8 280.4,70.2 280.5,71.6 280.6,76.9 280.7,77.4 280.8,78.2 280.9,61.7 281.0,74.0 281.1,63.0 281.2,61.6 281.3,62.9 281.4,67.9 281.5,71.5 281.6,66.8 281.7,65.1 281.8,68.4 281.9,66.7 282.0,69.5 282.1,60.5 282.2,58.0 282.3,65.4 282.4,67.4 282.5,66.8 282.6,66.7 282.7,66.5 282.8,68.7 282.9,69.8 283.0,59.5 283.1,55.8 283.2,59.2 283.3,72.4 283.4,73.4 283.5,72.4 283.6,68.0 283.7,66.7 283.8,70.7 283.9,68.4 284.0,72.0 284.1,74.7 284.2,69.6 284.3,71.1 284.4,70.3 284.5,76.0 284.6,76.3 284.7,71.8 284.8,59.1 284.9,61.9 285.0,69.0 285.1,70.2 285.2,70.7 285.3,71.4 285.4,68.4 285.5,64.1 285.6,65.9 285.7,65.5 285.8,65.8 285.9,74.0 286.0,75.8 286.1,73.0 286.2,67.9 286.3,65.5 286.4,68.9 286.5,72.8 286.6,71.1 286.7,71.4 286.8,71.9 286.9,74.5 287.0,67.6 287.1,69.6 287.2,71.4 287.3,74.0 287.4,73.8 287.5,69.6 287.6,68.7 287.7,65.6 287.8,68.7 287.9,70.5 288.0,72.3 288.1,69.2 288.2,67.1 288.3,73.4 288.4,73.1 288.5,77.3 288.6,76.0 288.7,70.0 288.8,73.1 288.9,76.0 289.0,72.9 289.1,67.1 289.2,71.1 289.3,71.1 289.4,72.3 289.5,64.7 289.6,69.3 289.7,62.9 289.8,64.7 289.9,70.5 290.0,66.2 290.1,62.4 290.2,61.8 290.3,73.5 290.4,77.5 290.5,73.4 290.6,75.7 290.7,75.8 290.8,75.0 290.9,74.8 291.0,71.7 291.1,74.2 291.2,76.4 291.3,80.6 291.4,80.3 291.5,69.9 291.6,67.7 291.7,70.8 291.8,78.7 291.9,66.9 292.0,69.1 292.1,69.6 292.2,70.8 292.3,71.3 292.4,74.5 292.5,77.7 292.6,77.4 292.7,72.2 292.8,70.0 292.9,69.4 293.0,70.7 293.1,70.5 293.2,70.5 293.3,69.0 293.4,73.4 293.5,75.5 293.6,77.0 293.7,74.9 293.8,75.3 293.9,71.7 294.0,69.4 294.1,69.5 294.2,72.7 294.3,72.4 294.4,69.5 294.5,71.4 294.6,73.3 294.7,73.7 294.8,71.6 294.9,72.5 295.0,71.6 295.1,71.4 295.2,72.0 295.3,74.6 295.4,79.0 295.5,80.6 295.6,78.9 295.7,75.1 295.8,73.2 295.9,72.2 296.0,67.3 296.1,62.7 296.2,64.3 296.3,65.5 296.4,68.6 296.5,74.0 296.6,70.7 296.7,65.0 296.8,71.8 296.9,76.2 297.0,75.7 297.1,77.6 297.2,72.8 297.3,75.7 297.4,78.7 297.5,77.4 297.6,75.6 297.7,77.4 297.8,78.0 297.9,73.0 298.0,76.1 298.1,76.1 298.2,74.4 298.3,76.7 298.4,76.8 298.5,76.4 298.6,72.6 298.7,74.2 298.8,69.6 298.9,69.8 299.0,65.5 299.1,63.1 299.2,67.8 299.3,68.8 299.4,69.9 299.5,71.8 299.6,72.2 299.7,68.9 299.8,69.8 299.9,69.8 300.0,68.5 300.1,68.9 300.2,68.4 300.3,67.3 300.4,67.6 300.5,69.3 300.6,75.4 300.7,70.6 300.8,71.7 300.9,66.6 301.0,76.5 301.1,70.3 301.2,70.5 301.3,73.8 301.4,74.7 301.5,68.3 301.6,58.9 301.7,69.5 301.8,71.4 301.9,71.1 302.0,72.6 302.1,72.1 302.2,70.7 302.3,73.6 302.4,67.5 302.5,67.3 302.6,65.7 302.7,67.1 302.8,67.1 302.9,67.9 303.0,67.3 303.1,67.1 303.2,63.6 303.3,66.3 303.4,68.7 303.5,67.5 303.6,66.7 303.7,66.2 303.8,72.6 303.9,71.8 304.0,72.0 304.1,70.1 304.2,68.5 304.3,66.6 304.4,72.4 304.5,66.4 304.6,68.7 304.7,69.1 304.8,68.7 304.9,64.7 305.0,63.5 305.1,69.1 305.2,67.4 305.3,71.0 305.4,72.3 305.5,60.1 305.6,61.7 305.7,63.6 305.8,60.3 305.9,63.5 306.0,66.6 306.1,72.7 306.2,65.1 306.3,60.6 306.4,66.8 306.5,69.1 306.6,67.3 306.7,67.7 306.8,65.3 306.9,70.5 307.0,65.3 307.1,68.4 307.2,69.5 307.3,70.6 307.4,66.9 307.5,70.9 307.6,72.8 307.7,71.5 307.8,71.2 307.9,69.6 308.0,71.1 308.1,67.5 308.2,69.6 308.3,70.3 308.4,65.1 308.5,58.5 308.6,62.5 308.7,64.5 308.8,69.8 308.9,75.1 309.0,67.0 309.1,63.1 309.2,64.9 309.3,64.3 309.4,62.3 309.5,64.2 309.6,75.1 309.7,68.6 309.8,64.6 309.9,66.8 310.0,63.4 310.1,59.9 310.2,64.7 310.3,63.9 310.4,68.8 310.5,68.9 310.6,65.2 310.7,66.6 310.8,70.8 310.9,68.2 311.0,63.8 311.1,62.7 311.2,61.7 311.3,60.0 311.4,58.7 311.5,63.8 311.6,69.0 311.7,67.0 311.8,69.8 311.9,71.8 312.0,75.6 312.1,71.4 312.2,68.6 312.3,69.7 312.4,69.2 312.5,69.8 312.6,73.5 312.7,69.7 312.8,69.9 312.9,65.9 313.0,66.6 313.1,65.3 313.2,64.3 313.3,57.3 313.4,44.8 313.5,51.1 313.6,64.4 313.7,61.4 313.8,71.3 313.9,63.5 314.0,67.6 314.1,71.5 314.2,69.3 314.3,69.6 314.4,68.0 314.5,72.8 314.6,62.2 314.7,63.9 314.8,63.9 314.9,64.7 315.0,74.2 315.1,77.7 315.2,78.1 315.3,77.1 315.4,73.4 315.5,77.8 315.6,78.4 315.7,63.9 315.8,66.8 315.9,70.9 316.0,76.3 316.1,79.8 316.2,82.9 316.3,77.4 316.4,75.7 316.5,80.1 316.6,79.1 316.7,80.2 316.8,74.7 316.9,74.5 317.0,75.6 317.1,75.2 317.2,83.2 317.3,71.3 317.4,78.9 317.5,78.8 317.6,74.1 317.7,79.1 317.8,78.9 317.9,80.7 318.0,79.2 318.1,76.7 318.2,75.5 318.3,78.1 318.4,80.8 318.5,81.5 318.6,82.5 318.7,84.6 318.8,83.3 318.9,70.0 319.0,75.8 319.1,84.1 319.2,82.0 319.3,79.8 319.4,69.3 319.5,71.4 319.6,79.9 319.7,79.7 319.8,78.0 319.9,83.0 320.0,84.0 320.1,82.0 320.2,83.5 320.3,80.9 320.4,81.0 320.5,85.1 320.6,85.2 320.7,81.5 320.8,82.1 320.9,83.7 321.0,73.7 321.1,67.3 321.2,73.0 321.3,80.3 321.4,75.6 321.5,77.0 321.6,68.9 321.7,66.9 321.8,83.2 321.9,74.7 322.0,74.4 322.1,79.2 322.2,77.3 322.3,81.0 322.4,80.7 322.5,80.3 322.6,83.5 322.7,79.0 322.8,76.5 322.9,76.7 323.0,69.8 323.1,64.4 323.2,76.9 323.3,76.9 323.4,75.6 323.5,77.1 323.6,68.8 323.7,63.5 323.8,76.7 323.9,77.7 324.0,73.2 324.1,64.6 324.2,74.0 324.3,70.7 324.4,69.6 324.5,70.8 324.6,75.0 324.7,76.1 324.8,61.5 324.9,68.2 325.0,76.7 325.1,79.2 325.2,76.1 325.3,75.1 325.4,74.9 325.5,66.2 325.6,67.6 325.7,70.0 325.8,72.3 325.9,69.9 326.0,72.8 326.1,68.9 326.2,68.1 326.3,74.0 326.4,66.7 326.5,67.0 326.6,66.7 326.7,66.7 326.8,65.0 326.9,68.1 327.0,63.7 327.1,60.2 327.2,64.6 327.3,60.9 327.4,52.5 327.5,56.0 327.6,62.5 327.7,62.3 327.8,63.0 327.9,65.3 328.0,62.4 328.1,62.3 328.2,57.5 328.3,59.1 328.4,53.7 328.5,57.6 328.6,58.1 328.7,68.0 328.8,70.3 328.9,65.9 329.0,67.6 329.1,65.9 329.2,50.8 329.3,38.0 329.4,43.7 329.5,61.7 329.6,53.6 329.7,59.3 329.8,63.5 329.9,59.5 330.0,63.0 330.1,55.1 330.2,56.6 330.3,58.4 330.4,62.2 330.5,62.8 330.6,62.4 330.7,63.5 330.8,59.3 330.9,65.3 331.0,61.5 331.1,63.8 331.2,61.9 331.3,59.9 331.4,62.0 331.5,49.4 331.6,47.9 331.7,53.2 331.8,61.5 331.9,62.4 332.0,61.3 332.1,57.1 332.2,53.6 332.3,57.0 332.4,55.7 332.5,51.7 332.6,54.4 332.7,57.2 332.8,58.3 332.9,53.8 333.0,53.9 333.1,61.5 333.2,57.4 333.3,56.9 333.4,66.9 333.5,64.8 333.6,60.4 333.7,52.3 333.8,56.7 333.9,52.5 334.0,55.6 334.1,54.0 334.2,50.0 334.3,60.8 334.4,59.9 334.5,63.4 334.6,64.7 334.7,59.7 334.8,60.2 334.9,58.7 335.0,63.1 335.1,63.4 335.2,60.6 335.3,66.9 335.4,66.0 335.5,65.3 335.6,49.2 335.7,45.8 335.8,55.5 335.9,59.6 336.0,50.4 336.1,41.4 336.2,46.1 336.3,60.7 336.4,62.2 336.5,61.5 336.6,53.5 336.7,49.2 336.8,50.9 336.9,60.4 337.0,63.1 337.1,56.8 337.2,66.2 337.3,61.5 337.4,63.5 337.5,64.4 337.6,63.7 337.7,65.2 337.8,58.8 337.9,49.7 338.0,60.2 338.1,61.5 338.2,48.7 338.3,46.8 338.4,48.3 338.5,63.4 338.6,60.1 338.7,62.7 338.8,64.0 338.9,63.2 339.0,64.7 339.1,65.9 339.2,62.9 339.3,64.3 339.4,70.5 339.5,63.7 339.6,62.6 339.7,60.5 339.8,68.7 339.9,71.7 340.0,62.8 340.1,66.5 340.2,62.5 340.3,62.8 340.4,61.1 340.5,58.1 340.6,60.7 340.7,64.1 340.8,57.3 340.9,51.9 341.0,54.7 341.1,69.7 341.2,63.6 341.3,66.2 341.4,63.7 341.5,58.3 341.6,59.0 341.7,63.9 341.8,65.5 341.9,62.1 342.0,68.7 342.1,68.6 342.2,57.2 342.3,55.6 342.4,58.6 342.5,65.1 342.6,69.0 342.7,68.7 342.8,69.4 342.9,67.1 343.0,62.3 343.1,65.8 343.2,63.1 343.3,64.4 343.4,65.4 343.5,63.7 343.6,67.7 343.7,63.2 343.8,69.3 343.9,66.6 344.0,69.6 344.1,72.2 344.2,67.6 344.3,65.4 344.4,69.0 344.5,68.9 344.6,62.6 344.7,57.7 344.8,58.6 344.9,65.4 345.0,70.6 345.1,67.5 345.2,65.4 345.3,67.3 345.4,69.1 345.5,70.4 345.6,68.3 345.7,62.9 345.8,69.7 345.9,67.9 346.0,71.9 346.1,64.9 346.2,67.8 346.3,67.0 346.4,64.8 346.5,69.7 346.6,73.3 346.7,69.9 346.8,71.6 346.9,67.6 347.0,66.8 347.1,67.4 347.2,59.4 347.3,61.3 347.4,66.8 347.5,71.2 347.6,73.6 347.7,71.5 347.8,67.5 347.9,61.8 348.0,65.5 348.1,65.7 348.2,68.3 348.3,66.3 348.4,68.4 348.5,69.4 348.6,70.2 348.7,71.5 348.8,72.3 348.9,74.8 349.0,70.9 349.1,73.4 349.2,73.1 349.3,71.1 349.4,68.3 349.5,74.2 349.6,73.8 349.7,71.3 349.8,71.7 349.9,71.8 350.0,70.3 350.1,66.9 350.2,69.6 350.3,70.2 350.4,70.2 350.5,73.9 350.6,69.2 350.7,67.7 350.8,70.2 350.9,73.6 351.0,74.8 351.1,75.8 351.2,67.8 351.3,71.3 351.4,73.0 351.5,74.7 351.6,71.7 351.7,73.6 351.8,76.0 351.9,79.1 352.0,76.9 352.1,71.2 352.2,72.1 352.3,74.2 352.4,75.1 352.5,79.5 352.6,76.0 352.7,71.7 352.8,70.5 352.9,73.5 353.0,71.0 353.1,69.1 353.2,68.6 353.3,74.0 353.4,74.3 353.5,72.9 353.6,75.4 353.7,76.3 353.8,72.1 353.9,74.7 354.0,74.5 354.1,67.9 354.2,66.7 354.3,70.0 354.4,72.4 354.5,71.5 354.6,69.0 354.7,71.1 354.8,66.4 354.9,70.4 355.0,70.6 355.1,71.0 355.2,69.4 355.3,72.6 355.4,65.6 355.5,65.7 355.6,69.8 355.7,68.4 355.8,73.6 355.9,73.6 356.0,70.2 356.1,73.5 356.2,71.9 356.3,72.9 356.4,70.1 356.5,68.5 356.6,71.3 356.7,71.0 356.8,68.5 356.9,61.1 357.0,52.7 357.1,58.6 357.2,70.4 357.3,72.2 357.4,63.2 357.5,62.5 357.6,67.9 357.7,73.4 357.8,72.2 357.9,72.9 358.0,72.5 358.1,74.4 358.2,69.6 358.3,71.8 358.4,70.0 358.5,69.3 358.6,69.9 358.7,69.7 358.8,68.0 358.9,68.5 359.0,66.9 359.1,72.8 359.2,73.8 359.3,71.3 359.4,61.1 359.5,63.4 359.6,75.7 359.7,72.1 359.8,72.3 359.9,73.3 360.0,76.2 360.1,73.4 360.2,70.8 360.3,77.4 360.4,78.4 360.5,76.1 360.6,71.4 360.7,72.8 360.8,75.3 360.9,75.7 361.0,76.1 361.1,74.2 361.2,76.2 361.3,72.6 361.4,78.1 361.5,70.1 361.6,69.2 361.7,75.8 361.8,69.5 361.9,71.4 362.0,69.1 362.1,67.2 362.2,69.8 362.3,66.8 362.4,69.1 362.5,76.7 362.6,74.6 362.7,74.9 362.8,71.7 362.9,73.4 363.0,69.2 363.1,71.4 363.2,71.7 363.3,64.5 363.4,62.8 363.5,66.1 363.6,71.8 363.7,66.6 363.8,73.1 363.9,76.9 364.0,74.3 364.1,75.7 364.2,73.8 364.3,74.7 364.4,75.3 364.5,70.9 364.6,70.2 364.7,74.2 364.8,69.2 364.9,71.3 365.0,71.6 365.1,70.3 365.2,72.0 365.3,73.6 365.4,75.1 365.5,67.9 365.6,74.8 365.7,73.1 365.8,76.1 365.9,74.7 366.0,72.9 366.1,73.1 366.2,81.4 366.3,81.4 366.4,77.4 366.5,76.4 366.6,78.0 366.7,77.6 366.8,76.1 366.9,74.6 367.0,71.5 367.1,74.4 367.2,76.9 367.3,81.2 367.4,76.5 367.5,76.9 367.6,75.4 367.7,77.9 367.8,75.8 367.9,73.2 368.0,69.2 368.1,73.1 368.2,73.8 368.3,76.6 368.4,73.9 368.5,80.4 368.6,75.6 368.7,76.1 368.8,76.1 368.9,77.8 369.0,75.6 369.1,72.5 369.2,70.5 369.3,74.1 369.4,74.2 369.5,74.9 369.6,72.3 369.7,73.3 369.8,74.1 369.9,75.5 370.0,71.0 370.1,70.3 370.2,76.2 370.3,74.1 370.4,73.7 370.5,72.7 370.6,69.4 370.7,68.6 370.8,71.9 370.9,71.0 371.0,77.4 371.1,72.0 371.2,67.8 371.3,69.5 371.4,68.4 371.5,74.3 371.6,73.0 371.7,66.8 371.8,64.4 371.9,65.9 372.0,75.3 372.1,77.7 372.2,76.5 372.3,76.5 372.4,75.7 372.5,77.1 372.6,74.5 372.7,75.5 372.8,73.3 372.9,69.1 373.0,52.7 373.1,57.9 373.2,71.1 373.3,76.0 373.4,71.0 373.5,68.5 373.6,72.4 373.7,70.5 373.8,70.7 373.9,70.8 374.0,77.9 374.1,74.3 374.2,72.2 374.3,71.9 374.4,73.3 374.5,74.7 374.6,64.9 374.7,73.1 374.8,78.3 374.9,71.7 375.0,74.1 375.1,75.9 375.2,75.3 375.3,74.1 375.4,68.0 375.5,66.8 375.6,65.3 375.7,72.7 375.8,76.3 375.9,69.2 376.0,71.1 376.1,73.8 376.2,75.6 376.3,76.3 376.4,80.3 376.5,78.1 376.6,78.7 376.7,78.5 376.8,72.6 376.9,71.2 377.0,63.8 377.1,65.9 377.2,74.5 377.3,70.9 377.4,71.4 377.5,65.7 377.6,69.9 377.7,73.1 377.8,71.5 377.9,71.1 378.0,75.8 378.1,76.2 378.2,76.6 378.3,78.0 378.4,74.9 378.5,73.6 378.6,68.7 378.7,73.0 378.8,73.1 378.9,73.6 379.0,71.2 379.1,74.2 379.2,75.8 379.3,75.6 379.4,71.1 379.5,70.4 379.6,72.2 379.7,68.0 379.8,67.3 379.9,76.5 380.0,73.7 380.1,73.6 380.2,72.3 380.3,75.9 380.4,77.6 380.5,65.7 380.6,79.2 380.7,74.8 380.8,75.8 380.9,74.7 381.0,75.2 381.1,78.1 381.2,75.9 381.3,77.2 381.4,70.8 381.5,75.3 381.6,75.4 381.7,74.6 381.8,73.5 381.9,77.7 382.0,75.2 382.1,78.3 382.2,75.5 382.3,75.4 382.4,76.1 382.5,80.7 382.6,78.8 382.7,77.7 382.8,76.3 382.9,75.0 383.0,73.5 383.1,78.8 383.2,80.9 383.3,70.1 383.4,66.9 383.5,68.0 383.6,76.3 383.7,77.5 383.8,67.8 383.9,65.5 384.0,66.5 384.1,66.4 384.2,68.2 384.3,77.6 384.4,73.0 384.5,72.4 384.6,71.2 384.7,73.3 384.8,78.6 384.9,77.2 385.0,79.4 385.1,77.5 385.2,66.9 385.3,69.3 385.4,78.3 385.5,80.7 385.6,80.9 385.7,76.2 385.8,69.0 385.9,72.2 386.0,70.5 386.1,68.8 386.2,67.8 386.3,69.4 386.4,71.6 386.5,73.3 386.6,67.8 386.7,70.7 386.8,67.6 386.9,65.4 387.0,70.7 387.1,73.0 387.2,75.2 387.3,71.8 387.4,76.6 387.5,73.5 387.6,77.1 387.7,76.2 387.8,78.4 387.9,78.7 388.0,76.5 388.1,77.5 388.2,73.0 388.3,70.7 388.4,72.0 388.5,77.5 388.6,74.7 388.7,73.6 388.8,79.2 388.9,77.8 389.0,77.0 389.1,73.7 389.2,75.0 389.3,77.1 389.4,76.5 389.5,78.4 389.6,78.3 389.7,80.2 389.8,80.6 389.9,78.3 390.0,79.8 390.1,83.0 390.2,80.9 390.3,75.7 390.4,76.5 390.5,76.0 390.6,83.1 390.7,82.1 390.8,76.8 390.9,76.2 391.0,80.3 391.1,75.7 391.2,74.9 391.3,75.8 391.4,75.9 391.5,74.8 391.6,68.0 391.7,69.9 391.8,73.2 391.9,73.4 392.0,67.7 392.1,69.8 392.2,75.8 392.3,75.5 392.4,75.1 392.5,76.8 392.6,79.1 392.7,80.5 392.8,75.8 392.9,76.8 393.0,78.6 393.1,76.9 393.2,77.9 393.3,76.6 393.4,77.4 393.5,72.9 393.6,75.5 393.7,74.5 393.8,67.9 393.9,70.4 394.0,77.2 394.1,79.1 394.2,78.2 394.3,79.4 394.4,76.6 394.5,72.8 394.6,69.0 394.7,71.7 394.8,72.9 394.9,74.1 395.0,74.7 395.1,78.2 395.2,74.3 395.3,72.5 395.4,78.8 395.5,79.1 395.6,76.3 395.7,70.0 395.8,69.7 395.9,70.9 396.0,72.3 396.1,73.8 396.2,73.4 396.3,77.0 396.4,72.4 396.5,72.4 396.6,71.3 396.7,74.7 396.8,74.9 396.9,76.7 397.0,75.7 397.1,82.6 397.2,82.5 397.3,76.6 397.4,75.4 397.5,73.6 397.6,76.0 397.7,77.9 397.8,77.3 397.9,75.3 398.0,72.8 398.1,78.1 398.2,79.6 398.3,64.6 398.4,63.0 398.5,66.2 398.6,70.7 398.7,77.3 398.8,72.5 398.9,70.1 399.0,79.3 399.1,75.6 399.2,74.2 399.3,77.7 399.4,74.5 399.5,74.5 399.6,74.9 399.7,78.7 399.8,71.4 399.9,69.7 400.0,70.9 400.1,74.7 400.2,71.9 400.3,73.7 400.4,71.6 400.5,70.8 400.6,75.4 400.7,65.8 400.8,61.0 400.9,78.5 401.0,79.0 401.1,78.0 401.2,78.9 401.3,61.0 401.4,65.3 401.5,66.7 401.6,66.7 401.7,67.4 401.8,63.4 401.9,61.2 402.0,73.4 402.1,72.4 402.2,66.4 402.3,60.5 402.4,71.8 402.5,67.9 402.6,73.5 402.7,69.3 402.8,62.7 402.9,60.0 403.0,61.3 403.1,67.4 403.2,69.7 403.3,62.1 403.4,57.9 403.5,70.2 403.6,71.0 403.7,72.7 403.8,71.8 403.9,70.8 404.0,68.7 404.1,72.7 404.2,67.4 404.3,73.3 404.4,75.7 404.5,75.5 404.6,73.0 404.7,75.2 404.8,75.1 404.9,74.6 405.0,74.8 405.1,74.6 405.2,72.4 405.3,64.9 405.4,57.6 405.5,62.0 405.6,64.8 405.7,67.3 405.8,67.3 405.9,59.6 406.0,63.3 406.1,67.8 406.2,71.8 406.3,65.5 406.4,62.2 406.5,61.1 406.6,55.5 406.7,53.5 406.8,55.3 406.9,66.4 407.0,62.0 407.1,56.9 407.2,59.4 407.3,60.0 407.4,64.3 407.5,61.9 407.6,62.4 407.7,60.4 407.8,58.9 407.9,62.6 408.0,63.7 408.1,63.8 408.2,65.7 408.3,62.2 408.4,71.4 408.5,64.2 408.6,70.9 408.7,60.0 408.8,60.7 408.9,63.9 409.0,62.2 409.1,63.5 409.2,66.3 409.3,67.1 409.4,60.1 409.5,71.6 409.6,51.4 409.7,59.7 409.8,62.7 409.9,68.3 410.0,67.0 410.1,62.2 410.2,67.2 410.3,61.7 410.4,63.3 410.5,63.5 410.6,67.0 410.7,69.5 410.8,66.2 410.9,63.3 411.0,64.2 411.1,62.8 411.2,67.5 411.3,58.2 411.4,54.1 411.5,75.6 411.6,69.8 411.7,66.0 411.8,67.7 411.9,68.5 412.0,66.2 412.1,60.1 412.2,56.5 412.3,61.8 412.4,64.1 412.5,56.5 412.6,66.1 412.7,67.5 412.8,67.2 412.9,63.2 413.0,64.5 413.1,64.1 413.2,56.9 413.3,70.7 413.4,70.5 413.5,67.5 413.6,63.5 413.7,62.6 413.8,73.1 413.9,71.5 414.0,64.3 414.1,68.4 414.2,69.1 414.3,69.6 414.4,67.5 414.5,66.2 414.6,66.8 414.7,65.6 414.8,56.7 414.9,54.8 415.0,62.2 415.1,58.1 415.2,60.9 415.3,61.8 415.4,66.0 415.5,54.4 415.6,56.3 415.7,59.3 415.8,66.0 415.9,68.8 416.0,63.4 416.1,58.7 416.2,58.9 416.3,53.7 416.4,55.9 416.5,62.7 416.6,67.0 416.7,71.2 416.8,68.4 416.9,67.1 417.0,63.9 417.1,62.3 417.2,64.1 417.3,67.3 417.4,67.3 417.5,59.0 417.6,62.9 417.7,63.4 417.8,61.8 417.9,63.4 418.0,66.9 418.1,66.3 418.2,63.1 418.3,74.0 418.4,68.4 418.5,68.4 418.6,71.1 418.7,65.5 418.8,67.2 418.9,63.5 419.0,63.4 419.1,61.8 419.2,69.5 419.3,63.1 419.4,66.1 419.5,66.1 419.6,59.3 419.7,68.2 419.8,65.4 419.9,64.9 420.0,66.3 420.1,63.3 420.2,62.1 420.3,64.1 420.4,62.3 420.5,64.7 420.6,70.0 420.7,65.2 420.8,60.7 420.9,63.2 421.0,66.4 421.1,69.2 421.2,64.7 421.3,58.0 421.4,65.4 421.5,68.9 421.6,73.6 421.7,67.8 421.8,69.9 421.9,72.6 422.0,64.4 422.1,69.8 422.2,74.1 422.3,73.6 422.4,73.1 422.5,73.6 422.6,70.5 422.7,64.8 422.8,63.5 422.9,65.3 423.0,64.0 423.1,69.6 423.2,67.9 423.3,68.0 423.4,62.5 423.5,66.8 423.6,65.4 423.7,72.0 423.8,60.2 423.9,62.7 424.0,67.2 424.1,66.9 424.2,73.5 424.3,74.7 424.4,69.5 424.5,74.0 424.6,69.8 424.7,72.2 424.8,65.4 424.9,66.2 425.0,66.8 425.1,67.0 425.2,63.1 425.3,60.0 425.4,58.9 425.5,62.6 425.6,69.3 425.7,68.4 425.8,64.3 425.9,66.0 426.0,66.0 426.1,61.3 426.2,60.7 426.3,62.1 426.4,62.5 426.5,59.6 426.6,61.5 426.7,68.0 426.8,68.1 426.9,64.0 427.0,65.9 427.1,62.9 427.2,60.3 427.3,62.5 427.4,64.3 427.5,69.5 427.6,69.3 427.7,71.8 427.8,76.1 427.9,74.4 428.0,74.3 428.1,71.0 428.2,73.9 428.3,73.2 428.4,72.8 428.5,69.0 428.6,67.6 428.7,67.6 428.8,70.1 428.9,74.6 429.0,69.0 429.1,69.6 429.2,70.1 429.3,78.4 429.4,75.4 429.5,72.7 429.6,80.6 429.7,71.0 429.8,73.8 429.9,68.5 430.0,77.1 430.1,75.5 430.2,73.5 430.3,69.7 430.4,71.2 430.5,72.8 430.6,71.3 430.7,76.4 430.8,74.5 430.9,74.9 431.0,75.7 431.1,79.5 431.2,76.3 431.3,76.0 431.4,76.5 431.5,77.7 431.6,70.9 431.7,76.3 431.8,75.3 431.9,73.0 432.0,73.8 432.1,68.5 432.2,69.1 432.3,72.3 432.4,77.6 432.5,76.2 432.6,76.8 432.7,75.1 432.8,77.6 432.9,75.2 433.0,76.5 433.1,74.8 433.2,72.0 433.3,70.3 433.4,65.2 433.5,63.6 433.6,67.4 433.7,79.8 433.8,75.4 433.9,76.7 434.0,77.3 434.1,81.1 434.2,80.4 434.3,80.4 434.4,80.7 434.5,78.2 434.6,77.1 434.7,78.9 434.8,73.0 434.9,71.5 435.0,73.3 435.1,69.7 435.2,76.7 435.3,74.1 435.4,73.2 435.5,74.8 435.6,79.1 435.7,77.0 435.8,73.8 435.9,71.6 436.0,73.7 436.1,72.5 436.2,80.2 436.3,81.3 436.4,69.3 436.5,69.0 436.6,72.6 436.7,80.2 436.8,71.9 436.9,71.8 437.0,76.6 437.1,73.7 437.2,74.3 437.3,73.0 437.4,75.6 437.5,72.0 437.6,73.2 437.7,69.5 437.8,74.6 437.9,76.4 438.0,75.4 438.1,75.1 438.2,74.9 438.3,73.6 438.4,74.5 438.5,75.5 438.6,74.8 438.7,72.9 438.8,72.4 438.9,71.9 439.0,74.4 439.1,74.8 439.2,65.6 439.3,62.3 439.4,76.2 439.5,73.5 439.6,74.2 439.7,72.9 439.8,70.9 439.9,72.9 440.0,78.4 440.1,73.9 440.2,67.0 440.3,62.8 440.4,67.8 440.5,66.5 440.6,70.2 440.7,73.9 440.8,71.6 440.9,70.0 441.0,70.4 441.1,68.6 441.2,72.4 441.3,76.3 441.4,73.7 441.5,71.6 441.6,63.9 441.7,67.3 441.8,78.9 441.9,67.7 442.0,69.9 442.1,68.5 442.2,69.2 442.3,73.7 442.4,77.0 442.5,74.9 442.6,67.0 442.7,61.1 442.8,67.3 442.9,73.1 443.0,68.0 443.1,73.2 443.2,71.3 443.3,73.6 443.4,71.1 443.5,63.9 443.6,62.0 443.7,64.1 443.8,72.3 443.9,74.6 444.0,74.7 444.1,72.7 444.2,73.1 444.3,72.9 444.4,61.6 444.5,59.1 444.6,79.7 444.7,75.2 444.8,73.9 444.9,70.7 445.0,67.7 445.1,73.6 445.2,71.3 445.3,73.2 445.4,69.0 445.5,68.9 445.6,72.3 445.7,74.1 445.8,74.4 445.9,75.1 446.0,66.6 446.1,63.7 446.2,71.0 446.3,79.0 446.4,76.0 446.5,71.6 446.6,70.8 446.7,70.8 446.8,76.3 446.9,65.8 447.0,63.3 447.1,65.1 447.2,72.8 447.3,70.8 447.4,66.2 447.5,63.0 447.6,68.5 447.7,65.5 447.8,72.3 447.9,75.9 448.0,71.1 448.1,71.0 448.2,72.0 448.3,67.8 448.4,66.4 448.5,67.4 448.6,69.8 448.7,72.1 448.8,66.7 448.9,70.3 449.0,79.7 449.1,62.8 449.2,70.5 449.3,74.8 449.4,78.7 449.5,74.7 449.6,73.4 449.7,64.4 449.8,65.8 449.9,73.0 450.0,72.6 450.1,73.8 450.2,72.9 450.3,73.1 450.4,74.9 450.5,76.1 450.6,68.4 450.7,69.5 450.8,63.8 450.9,66.4 451.0,67.2 451.1,67.5 451.2,74.4 451.3,74.4 451.4,76.8 451.5,76.5 451.6,79.6 451.7,75.2 451.8,72.7 451.9,71.8 452.0,61.1 452.1,63.5 452.2,73.0 452.3,76.5 452.4,77.0 452.5,72.6 452.6,77.4 452.7,76.0 452.8,78.2 452.9,76.7 453.0,76.4 453.1,71.3 453.2,75.4 453.3,70.8 453.4,70.7 453.5,74.0 453.6,71.0 453.7,70.9 453.8,70.4 453.9,59.3 454.0,61.3 454.1,66.0 454.2,65.8 454.3,74.2 454.4,65.5 454.5,65.0 454.6,69.5 454.7,63.1 454.8,62.8 454.9,62.8 455.0,70.8 455.1,66.9 455.2,69.9 455.3,67.1 455.4,67.8 455.5,64.2 455.6,57.5 455.7,59.3 455.8,60.3 455.9,63.2 456.0,65.8 456.1,68.3 456.2,73.7 456.3,76.2 456.4,68.5 456.5,65.4 456.6,62.7 456.7,56.5 456.8,67.6 456.9,71.6 457.0,67.4 457.1,70.9 457.2,68.2 457.3,72.7 457.4,69.7 457.5,71.7 457.6,73.7 457.7,76.9 457.8,60.6 457.9,56.3 458.0,57.4 458.1,57.0 458.2,59.4 458.3,63.2 458.4,69.7 458.5,66.6 458.6,59.4 458.7,53.7 458.8,72.6 458.9,68.7 459.0,62.6 459.1,70.9 459.2,68.1 459.3,72.2 459.4,68.8 459.5,70.7 459.6,69.0 459.7,67.5 459.8,67.6 459.9,70.8 460.0,65.8 460.1,64.1 460.2,70.3 460.3,67.7 460.4,69.7 460.5,65.6 460.6,67.4 460.7,72.9 460.8,72.7 460.9,73.0 461.0,71.4 461.1,72.3 461.2,65.5 461.3,65.3 461.4,67.1 461.5,66.3 461.6,73.7 461.7,76.4 461.8,64.5 461.9,65.4 462.0,64.1 462.1,70.0 462.2,72.3 462.3,77.6 462.4,72.0 462.5,67.9 462.6,67.0 462.7,77.1 462.8,71.2 462.9,70.1 463.0,71.3 463.1,75.6 463.2,76.4 463.3,80.5 463.4,69.3 463.5,76.1 463.6,75.7 463.7,75.7 463.8,75.4 463.9,76.1 464.0,73.4 464.1,72.0 464.2,80.7 464.3,77.2 464.4,79.6 464.5,82.0 464.6,79.7 464.7,76.0 464.8,77.3 464.9,76.6 465.0,77.3 465.1,73.6 465.2,80.5 465.3,77.7 465.4,78.2 465.5,75.1 465.6,75.5 465.7,68.2 465.8,67.1 465.9,82.4 466.0,70.9 466.1,67.9 466.2,65.6 466.3,72.9 466.4,71.6 466.5,71.8 466.6,75.9 466.7,76.0 466.8,75.3 466.9,76.0 467.0,62.7 467.1,59.0 467.2,66.8 467.3,80.6 467.4,68.0 467.5,65.3 467.6,64.7 467.7,60.0 467.8,57.3 467.9,61.3 468.0,75.2 468.1,68.9 468.2,62.4 468.3,61.7 468.4,69.6 468.5,64.1 468.6,56.6 468.7,61.5 468.8,69.0 468.9,76.1 469.0,75.8 469.1,75.5 469.2,61.5 469.3,60.1 469.4,59.1 469.5,60.9 469.6,48.9 469.7,51.9 469.8,67.7 469.9,64.8 470.0,49.3 470.1,43.4 470.2,49.0 470.3,64.4 470.4,56.9 470.5,64.7 470.6,61.4 470.7,58.2 470.8,61.0 470.9,54.8 471.0,59.7 471.1,68.8 471.2,65.1 471.3,38.5 471.4,44.6 471.5,62.6 471.6,64.5 471.7,50.0 471.8,56.3 471.9,49.8 472.0,42.9 472.1,45.4 472.2,42.9 472.3,52.5 472.4,33.8 472.5,20.5 472.6,24.5 472.7,39.2 472.8,45.9 472.9,38.5 473.0,36.5 473.1,29.5 473.2,34.6 473.3,32.1 473.4,51.4 473.5,59.2 473.6,25.3 473.7,32.1 473.8,46.7 473.9,41.3 474.0,39.2 474.1,44.1 474.2,41.2 474.3,26.9 474.4,25.4 474.5,34.1 474.6,42.6 474.7,43.6 474.8,43.2 474.9,45.5 475.0,41.6 475.1,37.8 475.2,34.5 475.3,37.6 475.4,38.6 475.5,37.1 475.6,38.8 475.7,50.6 475.8,49.0 475.9,34.9 476.0,25.1 476.1,29.7 476.2,35.0 476.3,43.0 476.4,40.4 476.5,44.2 476.6,38.5 476.7,43.3 476.8,39.6 476.9,43.3 477.0,44.7 477.1,36.4 477.2,38.8 477.3,40.5 477.4,39.1 477.5,30.7 477.6,35.2 477.7,35.0 477.8,41.4 477.9,35.2 478.0,40.5 478.1,39.8 478.2,48.8 478.3,39.9 478.4,25.0 478.5,23.6 478.6,26.1 478.7,40.1 478.8,41.4 478.9,44.0 479.0,34.4 479.1,30.8 479.2,36.3 479.3,33.3 479.4,40.6 479.5,46.2 479.6,41.7 479.7,39.9 479.8,38.9 479.9,37.0 480.0,37.0 480.1,36.1 480.2,38.5 480.3,36.5 480.4,34.6 480.5,34.5 480.6,33.0 480.7,34.5 480.8,38.0 480.9,46.6 481.0,35.2 481.1,30.0 481.2,32.9 481.3,34.9 481.4,35.6 481.5,44.6 481.6,33.3 481.7,34.5 481.8,25.3 481.9,22.9 482.0,27.3 482.1,31.3 482.2,39.1 482.3,35.1 482.4,32.0 482.5,49.5 482.6,29.7 482.7,30.6 482.8,38.4 482.9,31.8 483.0,36.4 483.1,42.0 483.2,40.0 483.3,43.8 483.4,39.1 483.5,41.8 483.6,39.9 483.7,50.6 483.8,45.1 483.9,42.1 484.0,43.8 484.1,40.4 484.2,40.2 484.3,42.7 484.4,46.7 484.5,42.0 484.6,42.6 484.7,42.0 484.8,45.9 484.9,48.7 485.0,48.3 485.1,30.8 485.2,28.3 485.3,45.7 485.4,53.0 485.5,51.8 485.6,41.3 485.7,43.6 485.8,37.5 485.9,32.4 486.0,29.4 486.1,42.3 486.2,40.2 486.3,50.8 486.4,45.3 486.5,46.2 486.6,39.9 486.7,42.5 486.8,44.8 486.9,48.4 487.0,59.6 487.1,59.8 487.2,59.7 487.3,53.0 487.4,49.6 487.5,47.7 487.6,44.0 487.7,49.4 487.8,48.9 487.9,51.5 488.0,49.2 488.1,51.0 488.2,58.7 488.3,56.2 488.4,57.7 488.5,50.1 488.6,49.3 488.7,47.8 488.8,51.3 488.9,52.2 489.0,48.2 489.1,50.9 489.2,51.4 489.3,60.3 489.4,46.8 489.5,54.4 489.6,48.7 489.7,55.2 489.8,56.9 489.9,55.3 490.0,55.9 490.1,50.2 490.2,54.4 490.3,46.6 490.4,40.0 490.5,38.9 490.6,46.0 490.7,58.6 490.8,57.6 490.9,59.8 491.0,61.4 491.1,55.8 491.2,54.7 491.3,56.4 491.4,55.1 491.5,44.3 491.6,40.1 491.7,47.6 491.8,63.3 491.9,59.5 492.0,60.7 492.1,58.4 492.2,55.0 492.3,49.9 492.4,48.1 492.5,50.8 492.6,54.1 492.7,43.4 492.8,45.9 492.9,52.0 493.0,51.7 493.1,46.9 493.2,44.7 493.3,56.6 493.4,47.1 493.5,48.0 493.6,54.2 493.7,43.6 493.8,51.0 493.9,43.9 494.0,52.8 494.1,42.8 494.2,37.9 494.3,42.9 494.4,54.3 494.5,50.5 494.6,53.9 494.7,49.5 494.8,47.8 494.9,45.5 495.0,48.1 495.1,52.2 495.2,56.9 495.3,54.1 495.4,47.5 495.5,46.9 495.6,46.4 495.7,46.7 495.8,51.8 495.9,50.9 496.0,51.6 496.1,51.7 496.2,51.0 496.3,48.6 496.4,53.5 496.5,52.0 496.6,51.1 496.7,45.5 496.8,44.6 496.9,44.7 497.0,50.7 497.1,42.3 497.2,50.3 497.3,51.6 497.4,48.2 497.5,45.7 497.6,51.1 497.7,63.2 497.8,42.7 497.9,43.7 498.0,43.1 498.1,47.0 498.2,46.5 498.3,51.5 498.4,41.2 498.5,40.2 498.6,47.7 498.7,54.2 498.8,51.4 498.9,52.5 499.0,46.7 499.1,42.2 499.2,47.2 499.3,47.4 499.4,43.6 499.5,52.5 499.6,56.3 499.7,56.3 499.8,52.8 499.9,52.5 500.0,50.6 500.1,56.2 500.2,48.9 500.3,52.6 500.4,53.6 500.5,49.0 500.6,54.4 500.7,53.1 500.8,62.3 500.9,64.2 501.0,59.9 501.1,56.0 501.2,52.5 501.3,50.4 501.4,53.9 501.5,47.9 501.6,55.5 501.7,58.5 501.8,56.3 501.9,59.2 502.0,66.8 502.1,63.5 502.2,66.9 502.3,60.6 502.4,55.3 502.5,59.8 502.6,48.7 502.7,56.0 502.8,55.6 502.9,53.0 503.0,54.3 503.1,55.2 503.2,61.1 503.3,62.4 503.4,60.1 503.5,56.7 503.6,51.4 503.7,54.0 503.8,41.8 503.9,52.5 504.0,53.6 504.1,46.0 504.2,52.8 504.3,49.4 504.4,49.6 504.5,43.1 504.6,44.6 504.7,50.1 504.8,51.9 505.0,54.7 505.1,51.1 505.2,55.7 505.3,47.8 505.4,48.1 505.5,38.0 505.6,43.8 505.7,46.2 505.8,49.4 505.9,55.0 506.0,61.8 506.1,53.1 506.2,53.1 506.3,44.8 506.4,47.0 506.5,42.5 506.6,44.7 506.7,43.6 506.8,65.4 506.9,58.4 507.0,61.0 507.1,64.5 507.2,64.7 507.3,60.8 507.4,66.6 507.5,67.9 507.6,64.4 507.7,63.7 507.8,54.9 507.9,59.1 508.0,59.6 508.1,55.2 508.2,61.9 508.3,60.2 508.4,62.0 508.5,62.3 508.6,57.8 508.7,59.3 508.8,64.6 508.9,57.7 509.0,54.2 509.1,53.0 509.2,58.6 509.3,57.2 509.4,59.3 509.5,63.7 509.6,57.7 509.7,64.0 509.8,62.2 509.9,60.4 510.0,65.8 510.1,64.8 510.2,57.7 510.3,58.5 510.4,56.3 510.5,59.0 510.6,57.7 510.7,57.6 510.8,62.3 510.9,55.1 511.0,58.5 511.1,58.4 511.2,60.5 511.3,68.7 511.4,52.1 511.5,54.4 511.6,63.3 511.7,57.5 511.8,54.8 511.9,56.7 512.0,59.7 512.1,51.3 512.2,50.0 512.3,54.2 512.4,68.7 512.5,61.1 512.6,61.6 512.7,71.1 512.8,64.7 512.9,58.6 513.0,56.1 513.1,64.6 513.2,62.5 513.3,59.1 513.4,60.0 513.5,60.5 513.6,64.7 513.7,66.0 513.8,65.4 513.9,65.6 514.0,60.9 514.1,56.7 514.2,60.5 514.3,63.1 514.4,63.2 514.5,63.8 514.6,65.3 514.7,59.7 514.8,59.6 514.9,57.6 515.0,52.8 515.1,59.1 515.2,59.7 515.3,62.5 515.4,64.8 515.5,60.5 515.6,67.0 515.7,66.1 515.8,68.3 515.9,72.0 516.0,66.1 516.1,62.3 516.2,63.2 516.3,67.1 516.4,69.3 516.5,59.3 516.6,66.1 516.7,63.1 516.8,64.8 516.9,59.3 517.0,57.8 517.1,61.5 517.2,55.9 517.3,62.1 517.4,55.0 517.5,51.6 517.6,54.9 517.7,61.5 517.8,67.0 517.9,73.1 518.0,71.3 518.1,61.7 518.2,63.0 518.3,62.5 518.4,66.2 518.5,65.3 518.6,72.1 518.7,70.7 518.8,69.7 518.9,72.0 519.0,61.8 519.1,62.5 519.2,63.8 519.3,65.5 519.4,65.5 519.5,63.9 519.6,64.1 519.7,62.5 519.8,59.9 519.9,58.8 520.0,63.0 520.1,66.0 520.2,64.5 520.3,64.0 520.4,66.0 520.5,64.8 520.6,73.8 520.7,70.8 520.8,66.2 520.9,59.4 521.0,62.4 521.1,71.7 521.2,65.7 521.3,69.4 521.4,60.7 521.5,56.5 521.6,58.2 521.7,61.9 521.8,58.2 521.9,57.9 522.0,54.6 522.1,61.7 522.2,62.4 522.3,63.1 522.4,61.8 522.5,66.3 522.6,62.7 522.7,69.2 522.8,70.8 522.9,65.6 523.0,64.5 523.1,66.6 523.2,70.0 523.3,64.8 523.4,63.0 523.5,72.3 523.6,71.9 523.7,71.7 523.8,74.0 523.9,57.4 524.0,53.5 524.1,54.6 524.2,64.9 524.3,60.7 524.4,64.7 524.5,57.6 524.6,59.0 524.7,61.3 524.8,58.3 524.9,59.1 525.0,58.5 525.1,61.5 525.2,58.3 525.3,60.1 525.4,66.8 525.5,70.7 525.6,74.0 525.7,71.4 525.8,66.7 525.9,66.7 526.0,68.1 526.1,67.4 526.2,71.2 526.3,65.6 526.4,64.2 526.5,58.7 526.6,59.6 526.7,66.1 526.8,65.4 526.9,67.5 527.0,53.8 527.1,61.0 527.2,64.0 527.3,66.0 527.4,67.6 527.5,70.2 527.6,72.6 527.7,66.8 527.8,60.2 527.9,59.5 528.0,66.3 528.1,61.6 528.2,57.5 528.3,55.5 528.4,54.4 528.5,61.3 528.6,59.5 528.7,59.1 528.8,65.4 528.9,68.0 529.0,69.3 529.1,63.9 529.2,57.5 529.3,61.5 529.4,52.3 529.5,65.1 529.6,63.4 529.7,51.7 529.8,63.2 529.9,62.5 530.0,56.5 530.1,59.3 530.2,58.9 530.3,63.2 530.4,71.2 530.5,64.6 530.6,64.6 530.7,62.5 530.8,60.4 530.9,63.3 531.0,68.9 531.1,51.6 531.2,64.2 531.3,65.6 531.4,65.3 531.5,67.3 531.6,63.3 531.7,63.6 531.8,69.4 531.9,66.5 532.0,68.5 532.1,65.9 532.2,64.8 532.3,61.1 532.4,72.4 532.5,72.5 532.6,72.4 532.7,72.3 532.8,64.2 532.9,60.7 533.0,60.9 533.1,55.4 533.2,55.3 533.3,61.6 533.4,70.3 533.5,54.6 533.6,57.7 533.7,59.4 533.8,60.5 533.9,58.4 534.0,63.4 534.1,54.1 534.2,59.1 534.3,54.8 534.4,55.3 534.5,57.8 534.6,65.3 534.7,60.3 534.8,51.1 534.9,49.5 535.0,61.1 535.1,61.1 535.2,63.1 535.3,65.7 535.4,64.0 535.5,55.1 535.6,56.9 535.7,58.6 535.8,55.4 535.9,54.1 536.0,59.1 536.1,60.5 536.2,57.2 536.3,60.4 536.4,60.7 536.5,55.9 536.6,56.7 536.7,53.6 536.8,53.4 536.9,57.2 537.0,48.7 537.1,52.2 537.2,56.7 537.3,54.4 537.4,55.7 537.5,56.4 537.6,57.0 537.7,59.1 537.8,57.6 537.9,55.5 538.0,55.4 538.1,60.7 538.2,62.7 538.3,60.5 538.4,63.5 538.5,63.4 538.6,57.2 538.7,62.5 538.8,67.0 538.9,65.5 539.0,56.0 539.1,61.7 539.2,61.6 539.3,59.0 539.4,50.6 539.5,52.7 539.6,53.1 539.7,53.2 539.8,52.8 539.9,50.3 540.0,43.9 540.1,56.7 540.2,49.0 540.3,48.0 540.4,51.0 540.5,49.3 540.6,51.7 540.7,52.7 540.8,54.1 540.9,52.8 541.0,55.7 541.1,49.6 541.2,49.8 541.3,57.3 541.4,53.8 541.5,50.5 541.6,37.0 541.7,38.5 541.8,44.0 541.9,42.2 542.0,56.0 542.1,50.5 542.2,53.9 542.3,56.6 542.4,58.7 542.5,50.6 542.6,53.7 542.7,54.1 542.8,53.2 542.9,51.9 543.0,54.8 543.1,54.4 543.2,54.3 543.3,62.1 543.4,59.0 543.5,52.7 543.6,50.1 543.7,49.4 543.8,45.8 543.9,54.1 544.0,61.7 544.1,56.4 544.2,59.4 544.3,54.8 544.4,52.6 544.5,47.4 544.6,50.9 544.7,57.8 544.8,61.6 544.9,61.1 545.0,57.8 545.1,61.6 545.2,65.7 545.3,58.6 545.4,52.5 545.5,47.0 545.6,48.8 545.7,51.5 545.8,51.0 545.9,54.2 546.0,56.6 546.1,57.6 546.2,62.3 546.3,57.9 546.4,53.5 546.5,51.5 546.6,56.1 546.7,55.3 546.8,51.2 546.9,57.9 547.0,63.3 547.1,62.1 547.2,63.1 547.3,56.8 547.4,48.1 547.5,50.8 547.6,59.1 547.7,59.0 547.8,58.7 547.9,57.5 548.0,63.7 548.1,59.7 548.2,59.9 548.3,63.9 548.4,59.5 548.5,60.9 548.6,61.0 548.7,63.4 548.8,55.1 548.9,57.4 549.0,57.3 549.1,63.1 549.2,62.8 549.3,61.1 549.4,64.8 549.5,66.0 549.6,68.0 549.7,69.3 549.8,69.1 549.9,65.1 550.0,65.5 550.1,65.7 550.2,66.0 550.3,66.1 550.4,65.3 550.5,63.4 550.6,63.3 550.7,55.6 550.8,52.8 550.9,63.4 551.0,62.5 551.1,54.3 551.2,61.7 551.3,57.4 551.4,58.8 551.5,66.1 551.6,64.6 551.7,61.8 551.8,64.8 551.9,62.6 552.0,60.9 552.1,56.8 552.2,54.0 552.3,59.5 552.4,61.6 552.5,62.4 552.6,65.1 552.7,62.6 552.8,62.9 552.9,60.0 553.0,58.3 553.1,57.8 553.2,63.4 553.3,65.6 553.4,60.9 553.5,60.6 553.6,62.0 553.7,59.5 553.8,63.3 553.9,60.2 554.0,60.1 554.1,60.0 554.2,54.4 554.3,51.6 554.4,53.3 554.5,61.8 554.6,64.3 554.7,65.2 554.8,61.8 554.9,60.6 555.0,61.8 555.1,63.3 555.2,57.7 555.3,53.4 555.4,57.4 555.5,64.8 555.6,62.2 555.7,59.9 555.8,64.5 555.9,62.5 556.0,66.4 556.1,61.8 556.2,69.5 556.3,66.7 556.4,66.0 556.5,56.5 556.6,53.5 556.7,54.2 556.8,53.6 556.9,57.7 557.0,58.7 557.1,57.2 557.2,59.3 557.3,61.3 557.4,67.9 557.5,68.5 557.6,67.0 557.7,63.4 557.8,71.0 557.9,71.4 558.0,74.8 558.1,67.0 558.2,56.2 558.3,59.7 558.4,64.6 558.5,65.6 558.6,66.2 558.7,65.1 558.8,60.7 558.9,62.0 559.0,59.7 559.1,57.1 559.2,56.3 559.3,58.3 559.4,63.6 559.5,68.0 559.6,64.8 559.7,61.2 559.8,59.1 559.9,63.4 560.0,73.6 560.1,68.3 560.2,65.6 560.3,71.1 560.4,71.3 560.5,73.4 560.6,71.5 560.7,71.0 560.8,69.4 560.9,64.8 561.0,58.8 561.1,57.0 561.2,61.2 561.3,58.7 561.4,56.3 561.5,60.6 561.6,63.9 561.7,71.1 561.8,66.8 561.9,69.0 562.0,62.6 562.1,72.0 562.2,61.9 562.3,69.0 562.4,67.1 562.5,61.7 562.6,62.5 562.7,67.4 562.8,66.9 562.9,64.6 563.0,66.4 563.1,60.6 563.2,58.5 563.3,60.4 563.4,68.0 563.5,65.5 563.6,66.7 563.7,66.8 563.8,63.1 563.9,61.7 564.0,67.0 564.1,65.3 564.2,68.4 564.3,69.4 564.4,68.5 564.5,64.2 564.6,69.7 564.7,67.1 564.8,66.8 564.9,67.9 565.0,69.9 565.1,68.4 565.2,67.7 565.3,64.8 565.4,70.3 565.5,69.0 565.6,68.5 565.7,63.7 565.8,65.4 565.9,70.4 566.0,73.8 566.1,69.8 566.2,70.6 566.3,72.7 566.4,68.1 566.5,68.6 566.6,71.8 566.7,74.8 566.8,69.3 566.9,67.2 567.0,72.5 567.1,71.0 567.2,72.3 567.3,68.8 567.4,73.4 567.5,73.8 567.6,76.9 567.7,72.0 567.8,70.4 567.9,67.7 568.0,66.2 568.1,65.0 568.2,68.6 568.3,67.5 568.4,69.4 568.5,68.5 568.6,71.0 568.7,73.7 568.8,75.1 568.9,76.1 569.0,64.4 569.1,64.3 569.2,66.3 569.3,70.2 569.4,67.6 569.5,69.5 569.6,71.4 569.7,76.3 569.8,73.1 569.9,76.8 570.0,70.4 570.1,71.0 570.2,78.0 570.3,62.9 570.4,71.1 570.5,68.9 570.6,76.6 570.7,78.1 570.8,74.1 570.9,72.2 571.0,65.7 571.1,79.2 571.2,74.4 571.3,68.5 571.4,73.3 571.5,74.7 571.6,78.0 571.7,74.2 571.8,74.3 571.9,77.3 572.0,76.6 572.1,76.8 572.2,74.3 572.3,73.2 572.4,71.6 572.5,72.6 572.6,72.9 572.7,72.3 572.8,67.2 572.9,66.2 573.0,69.2 573.1,65.8 573.2,64.0 573.3,70.8 573.4,71.8 573.5,74.9 573.6,78.4 573.7,76.8 573.8,75.2 573.9,72.3 574.0,73.7 574.1,72.8 574.2,73.4 574.3,71.1 574.4,74.8 574.5,73.1 574.6,69.2 574.7,71.0 574.8,69.2 574.9,72.4 575.0,76.1 575.1,76.2 575.2,74.5 575.3,71.8 575.4,71.3 575.5,77.6 575.6,78.4 575.7,73.5 575.8,71.0 575.9,73.0 576.0,73.4 576.1,73.7 576.2,75.2 576.3,71.7 576.4,70.4 576.5,74.4 576.6,74.8 576.7,73.6 576.8,73.3 576.9,75.1 577.0,75.2 577.1,72.7 577.2,70.2 577.3,73.7 577.4,70.6 577.5,77.1 577.6,72.6 577.7,71.5 577.8,75.2 577.9,78.2 578.0,76.3 578.1,68.3 578.2,70.4 578.3,66.6 578.4,68.5 578.5,73.0 578.6,75.3 578.7,75.0 578.8,75.1 578.9,76.1 579.0,74.1 579.1,73.1 579.2,76.5 579.3,76.6 579.4,78.5 579.5,77.5 579.6,76.9 579.7,77.7 579.8,77.9 579.9,80.5 580.0,79.2 580.1,75.7 580.2,80.0 580.3,71.7 580.4,73.5 580.5,72.1 580.6,69.8 580.7,73.5 580.8,77.6 580.9,72.1 581.0,75.6 581.1,75.6 581.2,72.5 581.3,71.7 581.4,72.5 581.5,79.2 581.6,77.7 581.7,80.3 581.8,76.2 581.9,78.2 582.0,78.6 582.1,75.2 582.2,73.5 582.3,75.3 582.4,71.1 582.5,72.7 582.6,70.4 582.7,72.4 582.8,74.6 582.9,76.4 583.0,76.7 583.1,75.4 583.2,68.3 583.3,65.3 583.4,67.8 583.5,72.3 583.6,72.2 583.7,73.9 583.8,72.7 583.9,67.4 584.0,68.1 584.1,72.5 584.2,69.6 584.3,69.8 584.4,71.3 584.5,72.5 584.6,74.1 584.7,79.1 584.8,74.2 584.9,66.0 585.0,66.1 585.1,75.6 585.2,70.1 585.3,71.7 585.4,74.8 585.5,72.5 585.6,70.1 585.7,69.3 585.8,72.4 585.9,73.7 586.0,78.1 586.1,75.7 586.2,77.3 586.3,73.5 586.4,73.8 586.5,76.9 586.6,75.5 586.7,76.6 586.8,66.8 586.9,67.7 587.0,67.1 587.1,68.3 587.2,71.9 587.3,76.7 587.4,75.5 587.5,76.0 587.6,79.1 587.7,77.4 587.8,76.0 587.9,74.5 588.0,77.3 588.1,78.4 588.2,81.6 588.3,82.3 588.4,76.1 588.5,77.4 588.6,81.2 588.7,79.1 588.8,77.6 588.9,73.7 589.0,76.9 589.1,73.5 589.2,74.5 589.3,73.8 589.4,75.3 589.5,74.0 589.6,73.3 589.7,76.3 589.8,75.4 589.9,77.2 590.0,74.4 590.1,78.0 590.2,65.9 590.3,67.3 590.4,64.4 590.5,73.0 590.6,67.2 590.7,73.0 590.8,72.3 590.9,72.1 591.0,64.3 591.1,63.3 591.2,73.0 591.3,75.7 591.4,74.1 591.5,68.5 591.6,62.9 591.7,73.8 591.8,68.8 591.9,66.9 592.0,67.1 592.1,73.8 592.2,72.2 592.3,75.9 592.4,74.3 592.5,76.3 592.6,72.7 592.7,69.8 592.8,71.0 592.9,67.7 593.0,66.8 593.1,71.1 593.2,76.3 593.3,75.5 593.4,67.0 593.5,63.8 593.6,65.9 593.7,72.0 593.8,79.1 593.9,81.4 594.0,77.2 594.1,81.1 594.2,75.1 594.3,71.8 594.4,76.4 594.5,72.2 594.6,71.3 594.7,76.6 594.8,63.6 594.9,66.0 595.0,64.6 595.1,63.1 595.2,65.4 595.3,77.8 595.4,78.1 595.5,73.6 595.6,76.1 595.7,68.4 595.8,69.7 595.9,71.4 596.0,74.9 596.1,78.0 596.2,72.0 596.3,71.0 596.4,71.6 596.5,70.9 596.6,72.9 596.7,74.7 596.8,75.9 596.9,73.5 597.0,81.2 597.1,74.7 597.2,73.2 597.3,77.5 597.4,66.8 597.5,64.2 597.6,66.8 597.7,75.7 597.8,74.6 597.9,77.1 598.0,79.9 598.1,72.7 598.2,71.0 598.3,71.7 598.4,74.8 598.5,69.9 598.6,73.9 598.7,71.1 598.8,74.0 598.9,74.0 599.0,77.8 599.1,72.0 599.2,73.9 599.3,72.1 599.4,69.8 599.5,73.8 599.6,69.8 599.7,64.4 599.8,58.7 599.9,62.1 600.0,57.2 600.1,66.2 600.2,76.8 600.3,71.2 600.4,72.4 600.5,70.9 600.6,68.8 600.7,70.5 600.8,72.6 600.9,74.6 601.0,69.6 601.1,75.9 601.2,72.9 601.3,67.1 601.4,66.5 601.5,64.4 601.6,60.7 601.7,70.4 601.8,68.5 601.9,65.2 602.0,60.6 602.1,64.2 602.2,75.4 602.3,71.5 602.4,71.7 602.5,74.0 602.6,74.7 602.7,74.2 602.8,76.3 602.9,73.6 603.0,73.6 603.1,71.4 603.2,72.4 603.3,70.2 603.4,69.0 603.5,71.4 603.6,70.3 603.7,74.1 603.8,76.8 603.9,77.3 604.0,78.0 604.1,77.9 604.2,73.3 604.3,71.8 604.4,74.2 604.5,72.4 604.6,72.4 604.7,67.4 604.8,69.5 604.9,72.2 605.0,74.0 605.1,76.9 605.2,77.5 605.3,80.4 605.4,69.6 605.5,67.9 605.6,75.2 605.7,82.0 605.8,82.0 605.9,82.0 606.0,75.0 606.1,74.4 606.2,78.2 606.3,75.0 606.4,76.8 606.5,78.4 606.6,80.9 606.7,79.3 606.8,80.6 606.9,79.4 607.0,82.4 607.1,79.1 607.2,77.6 607.3,69.5 607.4,73.3 607.5,81.3 607.6,80.1 607.7,78.1 607.8,80.8 607.9,78.5 608.0,78.3 608.1,78.1 608.2,81.2 608.3,78.6 608.4,77.2 608.5,78.8 608.6,79.4 608.7,76.4 608.8,76.1 608.9,76.5 609.0,78.4 609.1,77.5 609.2,83.3 609.3,82.8 609.4,84.6 609.5,83.7 609.6,83.1 609.7,83.9 609.8,82.0 609.9,77.7 610.0,80.5 610.1,79.4 610.2,83.4 610.3,80.8 610.4,81.7 610.5,82.0 610.6,80.2 610.7,79.2 610.8,78.8 610.9,79.2 611.0,79.4 611.1,78.6 611.2,77.8 611.3,70.5 611.4,76.8 611.5,78.0 611.6,72.2 611.7,70.0 611.8,63.9 611.9,60.7 612.0,61.7 612.1,71.8 612.2,71.6 612.3,71.5 612.4,70.7 612.5,71.9 612.6,69.8 612.7,65.1 612.8,63.0 612.9,67.2 613.0,64.4 613.1,55.6 613.2,61.7 613.3,63.6 613.4,69.8 613.5,47.9 613.6,56.2 613.7,63.4 613.8,58.9 613.9,61.4 614.0,58.8 614.1,54.6 614.2,56.7 614.3,58.7 614.4,61.0 614.5,63.7 614.6,72.4 614.7,65.1 614.8,69.0 614.9,64.1 615.0,61.9 615.1,64.1 615.2,56.4 615.3,56.1 615.4,59.8 615.5,50.3 615.6,47.6 615.7,48.5 615.8,51.2 615.9,56.8 616.0,35.9 616.1,34.2 616.2,60.1 616.3,60.3 616.4,46.1 616.5,50.8 616.6,47.2 616.7,53.4 616.8,52.1 616.9,49.4 617.0,45.1 617.1,46.4 617.2,51.9 617.3,42.1 617.4,41.5 617.5,43.7 617.6,45.1 617.7,44.3 617.8,36.7 617.9,39.4 618.0,36.6 618.1,47.2 618.2,39.5 618.3,49.4 618.4,52.5 618.5,40.2 618.6,43.5 618.7,52.1 618.8,56.9 618.9,52.7 619.0,45.1 619.1,51.6 619.2,29.6 619.3,31.5 619.4,42.9 619.5,36.9 619.6,43.2 619.7,37.7 619.8,37.1 619.9,46.6 620.0,44.9 620.1,47.9 620.2,45.0 620.3,41.8 620.4,38.8 620.5,35.8 620.6,41.3 620.7,44.6 620.8,53.1 620.9,50.1 621.0,45.4 621.1,34.9 621.2,29.1 621.3,31.5 621.4,50.5 621.5,42.4 621.6,37.9 621.7,54.0 621.8,54.6 621.9,46.0 622.0,48.9 622.1,53.2 622.2,51.8 622.3,53.2 622.4,50.0 622.5,49.0 622.6,39.3 622.7,34.5 622.8,38.5 622.9,32.3 623.0,39.8 623.1,39.7 623.2,46.5 623.3,48.6 623.4,25.3 623.5,26.1 623.6,25.2 623.7,31.9 623.8,46.3 623.9,43.4 624.0,44.8 624.1,42.3 624.2,26.9 624.3,35.6 624.4,35.9 624.5,29.4 624.6,37.3 624.7,37.7 624.8,51.8 624.9,35.1 625.0,32.4 625.1,35.3 625.2,27.6 625.3,21.4 625.4,31.6 625.5,43.2 625.6,41.0 625.7,35.9 625.8,37.5 625.9,41.9 626.0,40.4 626.1,28.3 626.2,40.7 626.3,36.5 626.4,29.1 626.5,21.6 626.6,24.4 626.7,37.9 626.8,44.8 626.9,47.6 627.0,39.2 627.1,23.0 627.2,30.6 627.3,27.9 627.4,36.4 627.5,38.0 627.6,35.0 627.7,30.4 627.8,28.3 627.9,38.9 628.0,42.1 628.1,37.8 628.2,38.1 628.3,41.3 628.4,37.4 628.5,26.9 628.6,38.8 628.7,26.3 628.8,13.0 628.9,18.3 629.0,29.0 629.1,26.1 629.2,31.2 629.3,29.3 629.4,34.0 629.5,36.5 629.6,45.8 629.7,39.7 629.8,38.2 629.9,34.2 630.0,40.7 630.1,40.8 630.2,40.4 630.3,47.6 630.4,43.7 630.5,41.5 630.6,32.6 630.7,25.7 630.8,28.0 630.9,32.2 631.0,28.8 631.1,27.6 631.2,35.3 631.3,33.1 631.4,31.9 631.5,32.5 631.6,24.6 631.7,21.7 631.8,31.2 631.9,45.5 632.0,48.8 632.1,34.4 632.2,40.0 632.3,38.2 632.4,44.4 632.5,38.3 632.6,41.9 632.7,48.5 632.8,46.7 632.9,43.5 633.0,40.4 633.1,42.0 633.2,39.6 633.3,33.8 633.4,39.0 633.5,46.8 633.6,45.2 633.7,47.6 633.8,30.7 633.9,26.2 634.0,42.4 634.1,37.4 634.2,39.6 634.3,42.1 634.4,36.8 634.5,36.9 634.6,43.4 634.7,38.9 634.8,43.1 634.9,43.7 635.0,40.9 635.1,45.0 635.2,46.0 635.3,43.5 635.4,42.9 635.5,44.1 635.6,45.3 635.7,45.7 635.8,26.4 635.9,50.7 636.0,49.3 636.1,45.7 636.2,43.4 636.3,49.2 636.4,51.0 636.5,38.6 636.6,40.6 636.7,45.4 636.8,47.0 636.9,37.6 637.0,37.0 637.1,36.4 637.2,42.8 637.3,47.4 637.4,47.7 637.5,46.1 637.6,41.6 637.7,48.0 637.8,36.3 637.9,42.7 638.0,46.7 638.1,47.5 638.2,46.5 638.3,46.8 638.4,49.5 638.5,44.7 638.6,48.7 638.7,47.6 638.8,47.5 638.9,34.5 639.0,31.3 639.1,31.0 639.2,32.5 639.3,46.9 639.4,40.0 639.5,48.9 639.6,52.0 639.7,51.0 639.8,47.2 639.9,42.0 640.0,39.0 640.1,39.7 640.2,43.5 640.3,48.8 640.4,32.9 640.5,36.3 640.6,57.3 640.7,50.3 640.8,47.3 640.9,53.2 641.0,47.7 641.1,53.3 641.2,51.9 641.3,44.6 641.4,49.1 641.5,50.6 641.6,46.7 641.7,37.2 641.8,44.6 641.9,49.4 642.0,54.0 642.1,54.6 642.2,49.8 642.3,42.7 642.4,46.1 642.5,53.1 642.6,52.1 642.7,46.4 642.8,41.1 642.9,37.3 643.0,43.1 643.1,49.5 643.2,40.8 643.3,43.4 643.4,54.4 643.5,43.9 643.6,55.1 643.7,59.9 643.8,61.1 643.9,60.2 644.0,59.8 644.1,60.3 644.2,65.4 644.3,55.3 644.4,46.7 644.5,41.1 644.6,48.4 644.7,56.3 644.8,52.4 644.9,55.7 645.0,56.5 645.1,61.4 645.2,62.1 645.3,61.1 645.4,55.7 645.5,54.1 645.6,58.9 645.7,58.4 645.8,64.4 645.9,57.3 646.0,61.0 646.1,58.1 646.2,59.2 646.3,50.6 646.4,56.3 646.5,52.7 646.6,59.6 646.7,52.5 646.8,43.6 646.9,44.4 647.0,51.6 647.1,67.5 647.2,67.5 647.3,62.5 647.4,66.2 647.5,57.5 647.6,56.5 647.7,58.6 647.8,52.1 647.9,59.6 648.0,61.5 648.1,59.5 648.2,50.7 648.3,51.5 648.4,57.7 648.5,60.6 648.6,56.1 648.7,52.1 648.8,55.1 648.9,47.4 649.0,46.4 649.1,49.2 649.2,58.6 649.3,60.0 649.4,58.4 649.5,62.2 649.6,64.3 649.7,61.1 649.8,58.3 649.9,48.4 650.0,46.4 650.1,51.2 650.2,55.0 650.3,61.9 650.6,89.6 652.7,89.6"/>
<text x="20" y="13.6" font-size="17.5" font-weight="bold" fill="#000">a</text><rect x="69" y="129" width="50.80" height="92.7" fill="#dddddd"/>
<rect x="166.6" y="129" width="99.30" height="92.7" fill="#dddddd"/>
<rect x="312.8" y="129" width="98.90" height="92.7" fill="#dddddd"/>
<rect x="459.1" y="129" width="98.50" height="92.7" fill="#dddddd"/>
<rect x="605.5" y="129" width="47.20" height="92.7" fill="#dddddd"/>
<text x="122.75" y="144.6" font-size="11.73" fill="#000">Dec 30</text>
<text x="262.75" y="144.6" font-size="11.73" fill="#000">Dec 31</text>
<text x="405.55" y="144.6" font-size="11.73" fill="#000">Jan 01</text>
<text x="557.65" y="144.6" font-size="11.73" fill="#000">Jan 02</text>
<line x1="39.85" y1="129" x2="39.85" y2="222.6" stroke="#111" stroke-width="1.3"/>
<line x1="39.2" y1="221.9" x2="682" y2="221.9" stroke="#111" stroke-width="1.4"/>
<line x1="36.4" y1="217.7" x2="39.6" y2="217.7" stroke="#333" stroke-width="1.07"/>
<text x="26.15" y="222.6" font-size="12" fill="#4d4d4d" text-anchor="middle">0</text>
<line x1="36.4" y1="185.1" x2="39.6" y2="185.1" stroke="#333" stroke-width="1.07"/>
<text x="26.15" y="190.0" font-size="12" fill="#4d4d4d" text-anchor="middle">50</text>
<line x1="36.4" y1="152.5" x2="39.6" y2="152.5" stroke="#333" stroke-width="1.07"/>
<text x="26.15" y="157.4" font-size="12" fill="#4d4d4d" text-anchor="middle">100</text>
<line x1="68.60" y1="221.7" x2="68.60" y2="225.2" stroke="#333" stroke-width="1.07"/>
<text x="68.60" y="236" font-size="12" fill="#4d4d4d" text-anchor="middle">24:00</text>
<line x1="141.62" y1="221.7" x2="141.62" y2="225.2" stroke="#333" stroke-width="1.07"/>
<text x="141.62" y="236" font-size="12" fill="#4d4d4d" text-anchor="middle">12:00</text>
<line x1="214.64" y1="221.7" x2="214.64" y2="225.2" stroke="#333" stroke-width="1.07"/>
<text x="214.64" y="236" font-size="12" fill="#4d4d4d" text-anchor="middle">24:00</text>
<line x1="287.66" y1="221.7" x2="287.66" y2="225.2" stroke="#333" stroke-width="1.07"/>
<text x="287.66" y="236" font-size="12" fill="#4d4d4d" text-anchor="middle">12:00</text>
<line x1="360.68" y1="221.7" x2="360.68" y2="225.2" stroke="#333" stroke-width="1.07"/>
<text x="360.68" y="236" font-size="12" fill="#4d4d4d" text-anchor="middle">24:00</text>
<line x1="433.70" y1="221.7" x2="433.70" y2="225.2" stroke="#333" stroke-width="1.07"/>
<text x="433.70" y="236" font-size="12" fill="#4d4d4d" text-anchor="middle">12:00</text>
<line x1="506.72" y1="221.7" x2="506.72" y2="225.2" stroke="#333" stroke-width="1.07"/>
<text x="506.72" y="236" font-size="12" fill="#4d4d4d" text-anchor="middle">24:00</text>
<line x1="579.74" y1="221.7" x2="579.74" y2="225.2" stroke="#333" stroke-width="1.07"/>
<text x="579.74" y="236" font-size="12" fill="#4d4d4d" text-anchor="middle">12:00</text>
<line x1="652.76" y1="221.7" x2="652.76" y2="225.2" stroke="#333" stroke-width="1.07"/>
<text x="652.76" y="236" font-size="12" fill="#4d4d4d" text-anchor="middle">24:00</text>
<line x1="68.60" y1="222.1" x2="68.60" y2="129" stroke="#4579b0" stroke-width="2.1" stroke-dasharray="2.2 7.15"/>
<line x1="214.64" y1="222.1" x2="214.64" y2="129" stroke="#4579b0" stroke-width="2.1" stroke-dasharray="2.2 7.15"/>
<line x1="360.68" y1="222.1" x2="360.68" y2="129" stroke="#4579b0" stroke-width="2.1" stroke-dasharray="2.2 7.15"/>
<line x1="506.72" y1="222.1" x2="506.72" y2="129" stroke="#4579b0" stroke-width="2.1" stroke-dasharray="2.2 7.15"/>
<line x1="652.76" y1="222.1" x2="652.76" y2="129" stroke="#4579b0" stroke-width="2.1" stroke-dasharray="2.2 7.15"/>
<polyline fill="none" stroke="#000" stroke-width="0.6" stroke-linejoin="round" points="68.6,214.7 68.7,214.2 68.8,214.0 68.9,212.1 69.0,214.8 69.1,215.7 69.2,214.9 69.3,215.4 69.4,215.2 69.5,214.4 69.6,215.3 69.7,214.7 69.8,214.3 69.9,213.7 70.0,214.5 70.1,214.4 70.2,214.9 70.3,214.2 70.4,214.4 70.5,213.7 70.6,214.8 70.7,208.7 70.8,199.5 70.9,203.7 71.0,214.0 71.1,214.8 71.2,216.4 71.3,214.1 71.4,212.9 71.5,212.3 71.6,214.0 71.7,214.3 71.8,215.2 71.9,215.5 72.0,215.2 72.1,215.1 72.2,214.6 72.3,215.2 72.4,214.0 72.5,213.8 72.6,214.3 72.7,215.8 72.8,214.6 72.9,213.7 73.0,213.6 73.1,214.8 73.2,214.5 73.3,215.6 73.4,213.7 73.5,215.0 73.6,215.6 73.7,210.2 73.8,209.6 73.9,211.9 74.0,215.2 74.1,215.8 74.2,217.2 74.3,212.7 74.4,211.8 74.5,212.6 74.6,215.2 74.7,214.9 74.8,214.8 74.9,214.8 75.0,215.4 75.1,214.4 75.2,213.5 75.3,212.3 75.4,214.5 75.5,214.8 75.6,216.1 75.7,215.7 75.8,214.9 75.9,215.4 76.0,215.2 76.1,214.3 76.2,214.0 76.3,215.9 76.4,215.9 76.5,216.0 76.6,215.5 76.7,214.9 76.8,215.8 76.9,215.5 77.0,214.9 77.1,215.1 77.2,214.6 77.3,215.1 77.4,216.2 77.5,215.2 77.6,216.4 77.7,215.5 77.8,215.6 77.9,214.9 78.0,215.0 78.1,215.3 78.2,215.1 78.3,214.7 78.4,214.6 78.5,214.4 78.6,213.7 78.7,214.3 78.8,215.2 78.9,216.0 79.0,216.2 79.1,217.7 79.2,217.0 79.3,216.0 79.4,217.2 79.5,215.6 79.6,216.3 79.7,215.2 79.8,215.6 79.9,214.1 80.0,215.4 80.1,215.3 80.2,214.7 80.3,216.3 80.4,216.5 80.5,216.1 80.6,215.3 80.7,215.3 80.8,215.3 80.9,215.9 81.0,216.3 81.1,215.5 81.2,215.1 81.3,214.9 81.4,214.1 81.5,214.3 81.6,214.8 81.7,215.6 81.8,216.5 81.9,215.5 82.0,215.9 82.1,215.4 82.2,214.0 82.3,211.8 82.4,212.9 82.5,215.2 82.6,214.8 82.7,215.2 82.8,215.1 82.9,215.5 83.0,214.4 83.1,215.4 83.2,214.8 83.3,216.4 83.4,215.8 83.5,216.5 83.6,215.0 83.7,215.5 83.8,214.9 83.9,214.8 84.0,215.1 84.1,215.1 84.2,215.5 84.3,216.0 84.4,216.3 84.5,215.9 84.6,214.7 84.7,214.5 84.8,214.8 84.9,213.5 85.0,215.0 85.1,215.0 85.2,215.1 85.3,211.7 85.4,213.1 85.5,216.1 85.6,215.1 85.7,215.5 85.8,215.8 85.9,215.0 86.0,216.0 86.1,217.7 86.2,214.4 86.3,215.0 86.4,214.3 86.5,215.7 86.6,216.2 86.7,215.1 86.8,214.6 86.9,215.1 87.0,215.1 87.1,216.4 87.2,216.6 87.3,215.9 87.4,216.1 87.5,214.3 87.6,215.1 87.7,215.9 87.8,215.6 87.9,215.0 88.0,215.7 88.1,217.0 88.2,216.5 88.3,215.2 88.4,216.4 88.5,214.6 88.6,215.4 88.7,215.0 88.8,215.9 88.9,215.1 89.0,216.3 89.1,216.1 89.2,214.6 89.3,213.5 89.4,214.2 89.5,215.7 89.6,215.7 89.7,215.7 89.8,215.4 89.9,216.0 90.0,216.1 90.1,216.0 90.2,215.1 90.3,216.1 90.4,216.9 90.5,215.3 90.6,217.1 90.7,211.7 90.8,208.6 90.9,209.7 91.0,215.3 91.1,215.8 91.2,215.2 91.3,214.0 91.4,215.5 91.5,215.1 91.6,214.9 91.7,217.3 91.8,217.7 91.9,217.6 92.0,216.3 92.1,216.4 92.2,214.3 92.3,214.9 92.4,214.6 92.5,214.1 92.6,213.5 92.7,209.5 92.8,215.2 92.9,215.4 93.0,216.1 93.1,215.2 93.2,214.4 93.3,213.6 93.4,214.2 93.5,215.3 93.6,215.3 93.7,215.9 93.8,214.8 93.9,214.8 94.0,214.5 94.1,214.0 94.2,216.1 94.3,216.5 94.4,215.5 94.5,214.9 94.6,215.1 94.7,214.2 94.8,209.0 94.9,214.3 95.0,214.6 95.1,214.2 95.2,214.4 95.3,213.9 95.4,213.4 95.5,213.6 95.6,214.0 95.7,214.4 95.8,215.0 95.9,216.3 96.0,216.6 96.1,215.9 96.2,216.3 96.3,215.4 96.4,216.5 96.5,216.5 96.6,215.0 96.7,215.8 96.8,216.3 96.9,213.9 97.0,214.0 97.1,214.3 97.2,213.4 97.3,213.5 97.4,213.7 97.5,214.9 97.6,215.4 97.7,217.4 97.8,216.2 97.9,216.8 98.0,216.2 98.1,216.1 98.2,214.9 98.3,213.7 98.4,217.1 98.5,215.2 98.6,216.5 98.7,216.5 98.8,216.4 98.9,215.3 99.0,216.6 99.1,217.1 99.2,215.9 99.3,215.7 99.4,214.8 99.5,216.2 99.6,216.2 99.7,215.8 99.8,215.9 99.9,216.1 100.0,215.5 100.1,214.5 100.2,213.9 100.3,213.3 100.4,214.6 100.5,216.7 100.6,214.8 100.7,215.2 100.8,215.6 100.9,214.8 101.0,215.2 101.1,214.5 101.2,215.8 101.3,215.2 101.4,215.4 101.5,215.9 101.6,215.4 101.7,214.0 101.8,214.2 101.9,215.4 102.0,215.3 102.1,215.5 102.2,214.6 102.3,215.1 102.4,215.8 102.5,215.7 102.6,217.1 102.7,216.2 102.8,215.0 102.9,213.9 103.0,215.5 103.1,215.4 103.2,216.2 103.3,216.2 103.4,217.1 103.5,217.4 103.6,216.2 103.7,216.0 103.8,216.6 103.9,215.1 104.0,216.4 104.1,216.9 104.2,217.0 104.3,216.1 104.4,216.0 104.5,214.8 104.6,215.0 104.7,214.7 104.8,215.0 104.9,214.7 105.0,215.2 105.1,216.1 105.2,214.6 105.3,215.6 105.4,213.8 105.5,212.7 105.6,213.7 105.7,214.3 105.8,215.0 105.9,213.7 106.0,214.3 106.1,214.7 106.2,215.8 106.3,215.4 106.4,215.6 106.5,214.5 106.6,214.6 106.7,214.4 106.8,215.2 106.9,214.2 107.0,213.9 107.1,214.8 107.2,216.2 107.3,215.9 107.4,215.6 107.5,215.0 107.6,215.7 107.7,215.7 107.8,216.6 107.9,216.0 108.0,214.7 108.1,214.2 108.2,213.6 108.3,213.1 108.4,214.8 108.5,215.3 108.6,214.0 108.7,215.7 108.8,215.4 108.9,214.2 109.0,214.7 109.1,214.5 109.2,213.9 109.3,212.6 109.4,213.5 109.5,214.1 109.6,212.2 109.7,213.6 109.8,214.4 109.9,213.9 110.0,213.9 110.1,213.5 110.2,212.7 110.3,212.6 110.4,214.3 110.5,212.1 110.6,212.6 110.7,212.9 110.8,211.8 110.9,211.4 111.0,209.8 111.1,209.5 111.2,210.5 111.3,211.5 111.4,210.0 111.5,215.5 111.6,212.6 111.7,212.1 111.8,211.1 111.9,210.1 112.0,212.6 112.1,210.7 112.2,213.0 112.3,213.9 112.4,209.9 112.5,211.9 112.6,209.4 112.7,215.3 112.8,211.4 112.9,207.8 113.0,203.3 113.1,202.0 113.2,202.7 113.3,201.9 113.4,200.6 113.5,201.0 113.6,202.3 113.7,207.1 113.8,201.3 113.9,197.4 114.0,196.2 114.1,196.3 114.2,195.8 114.3,196.1 114.4,200.6 114.5,200.3 114.6,199.0 114.7,201.5 114.8,201.7 114.9,200.1 115.0,200.9 115.1,197.3 115.2,199.8 115.3,200.5 115.4,197.8 115.5,193.5 115.6,200.1 115.7,199.0 115.8,206.2 115.9,200.7 116.0,201.5 116.1,197.5 116.2,197.5 116.3,199.4 116.4,194.6 116.5,194.3 116.6,195.0 116.7,195.0 116.8,196.7 116.9,199.2 117.0,199.7 117.1,197.8 117.2,194.3 117.3,189.3 117.4,187.9 117.5,188.3 117.6,193.3 117.7,192.1 117.8,188.3 117.9,193.3 118.0,190.8 118.1,189.7 118.2,191.3 118.3,194.8 118.4,186.2 118.5,186.4 118.6,191.3 118.7,192.2 118.8,191.0 118.9,191.6 119.0,198.9 119.1,196.4 119.2,199.3 119.3,201.3 119.4,198.1 119.5,199.6 119.6,197.4 119.7,195.8 119.8,193.3 119.9,198.8 120.0,197.6 120.1,196.6 120.2,194.2 120.3,195.5 120.4,191.4 120.5,201.7 120.6,198.8 120.7,194.5 120.8,198.2 120.9,200.2 121.0,196.0 121.1,201.9 121.2,204.0 121.3,199.7 121.4,198.7 121.5,198.7 121.6,200.5 121.7,200.7 121.8,196.3 121.9,203.4 122.0,203.9 122.1,207.0 122.2,208.8 122.3,205.4 122.4,205.3 122.5,206.4 122.6,207.2 122.7,205.0 122.8,202.5 122.9,203.1 123.0,201.1 123.1,200.8 123.2,196.4 123.3,200.0 123.4,198.9 123.5,193.6 123.6,191.9 123.7,203.5 123.8,209.2 123.9,207.5 124.0,202.0 124.1,203.4 124.2,202.1 124.3,204.1 124.4,202.1 124.5,201.0 124.6,200.9 124.7,200.4 124.8,196.8 124.9,198.1 125.0,200.5 125.1,205.3 125.2,203.7 125.3,202.6 125.4,204.5 125.5,192.5 125.6,194.6 125.7,208.0 125.8,205.7 125.9,208.2 126.0,210.1 126.1,205.6 126.2,204.8 126.3,199.3 126.4,199.9 126.5,198.8 126.6,200.0 126.7,199.8 126.8,200.6 126.9,201.2 127.0,203.0 127.1,203.3 127.2,201.4 127.3,198.3 127.4,203.3 127.5,206.5 127.6,203.3 127.7,197.3 127.8,192.5 127.9,194.1 128.0,198.1 128.1,203.5 128.2,200.0 128.3,198.5 128.4,204.0 128.5,198.0 128.6,201.2 128.7,195.3 128.8,193.3 128.9,201.7 129.0,208.4 129.1,191.1 129.2,194.9 129.3,200.1 129.4,198.5 129.5,195.8 129.6,202.3 129.7,202.1 129.8,196.5 129.9,196.3 130.0,199.2 130.1,200.8 130.2,196.4 130.3,197.8 130.4,199.5 130.5,200.8 130.6,201.5 130.7,195.5 130.8,202.7 130.9,201.9 131.0,196.3 131.1,191.2 131.2,205.6 131.3,199.1 131.4,201.7 131.5,200.0 131.6,198.2 131.7,195.5 131.8,202.1 131.9,199.3 132.0,194.8 132.1,195.1 132.2,193.1 132.3,196.0 132.4,192.5 132.5,189.8 132.6,191.4 132.7,196.2 132.8,199.6 132.9,191.0 133.0,200.2 133.1,197.7 133.2,199.0 133.3,201.8 133.4,200.7 133.5,191.4 133.6,190.2 133.7,195.4 133.8,202.2 133.9,199.0 134.0,197.9 134.1,199.0 134.2,197.5 134.3,199.1 134.4,201.2 134.5,200.7 134.6,198.8 134.7,197.3 134.8,204.0 134.9,205.1 135.0,199.8 135.1,197.8 135.2,204.7 135.3,207.5 135.4,205.0 135.5,206.7 135.6,199.9 135.7,200.6 135.8,203.1 135.9,197.0 136.0,196.9 136.1,201.3 136.2,204.8 136.3,201.8 136.4,202.7 136.5,207.0 136.6,203.7 136.7,199.3 136.8,190.6 136.9,200.0 137.0,204.6 137.1,203.9 137.2,200.7 137.3,208.1 137.4,196.7 137.5,191.1 137.6,192.7 137.7,205.9 137.8,204.5 137.9,204.9 138.0,203.2 138.1,198.3 138.2,199.1 138.3,199.6 138.4,199.9 138.5,190.7 138.6,194.7 138.7,204.1 138.8,207.5 138.9,198.2 139.0,199.6 139.1,198.2 139.2,191.7 139.3,197.1 139.4,197.0 139.5,197.7 139.6,197.2 139.7,202.2 139.8,205.4 139.9,204.2 140.0,204.8 140.1,202.7 140.2,202.2 140.3,199.3 140.4,200.0 140.5,198.1 140.6,200.4 140.7,203.0 140.8,195.4 140.9,189.6 141.0,198.5 141.1,200.4 141.2,200.8 141.3,193.2 141.4,190.8 141.5,191.8 141.6,198.9 141.7,199.5 141.8,198.9 141.9,199.7 142.0,199.2 142.1,194.2 142.2,201.0 142.3,201.0 142.4,199.3 142.5,201.9 142.6,200.7 142.7,196.2 142.8,201.9 142.9,198.3 143.0,200.3 143.1,202.3 143.2,206.6 143.3,208.5 143.4,199.1 143.5,193.8 143.6,197.9 143.7,206.7 143.8,210.2 143.9,209.2 144.0,206.0 144.1,208.1 144.2,206.1 144.3,205.1 144.4,204.8 144.5,206.7 144.6,207.1 144.7,209.0 144.8,210.6 144.9,209.9 145.0,203.6 145.1,201.6 145.2,204.1 145.3,205.0 145.4,210.1 145.5,208.3 145.6,206.9 145.7,208.5 145.8,209.6 145.9,207.3 146.0,207.5 146.1,204.1 146.2,202.5 146.3,206.4 146.4,202.7 146.5,205.7 146.6,206.8 146.7,207.6 146.8,208.3 146.9,207.9 147.0,201.3 147.1,200.3 147.2,200.5 147.3,204.2 147.4,201.3 147.5,200.7 147.6,201.1 147.7,196.1 147.8,193.5 147.9,198.7 148.0,202.1 148.1,196.1 148.2,195.5 148.3,200.4 148.4,197.5 148.5,198.6 148.6,197.8 148.7,200.2 148.8,201.9 148.9,205.7 149.0,203.9 149.1,203.2 149.2,196.3 149.3,194.6 149.4,199.0 149.5,197.6 149.6,200.8 149.7,199.3 149.8,200.0 149.9,201.0 150.0,203.0 150.1,202.3 150.2,200.1 150.3,200.8 150.4,200.2 150.5,199.2 150.6,199.8 150.7,201.9 150.8,200.9 150.9,190.4 151.0,191.4 151.1,196.5 151.2,191.8 151.3,196.7 151.4,194.4 151.5,199.7 151.6,206.2 151.7,201.8 151.8,203.7 151.9,201.9 152.0,197.9 152.1,194.7 152.2,197.2 152.3,201.1 152.4,200.0 152.5,193.6 152.6,191.6 152.7,193.1 152.8,198.8 152.9,198.6 153.0,198.7 153.1,201.5 153.2,198.6 153.3,197.4 153.4,196.5 153.5,191.0 153.6,195.0 153.7,197.0 153.8,199.9 153.9,194.8 154.0,193.1 154.1,197.7 154.2,198.3 154.3,201.9 154.4,188.9 154.5,186.7 154.6,187.7 154.7,196.9 154.8,195.4 154.9,197.8 155.0,200.8 155.1,201.2 155.2,193.7 155.3,198.1 155.4,199.1 155.5,194.9 155.6,193.1 155.7,195.0 155.8,197.8 155.9,196.1 156.0,191.5 156.1,195.0 156.2,196.6 156.3,204.6 156.4,197.3 156.5,205.3 156.6,206.2 156.7,203.7 156.8,206.0 156.9,202.4 157.0,203.1 157.1,198.3 157.2,198.1 157.3,194.6 157.4,191.1 157.5,193.1 157.6,193.0 157.7,196.7 157.8,200.8 157.9,198.7 158.0,198.3 158.1,198.4 158.2,193.0 158.3,195.7 158.4,196.5 158.5,196.7 158.6,193.8 158.7,189.7 158.8,188.8 158.9,186.4 159.0,192.9 159.1,202.1 159.2,204.0 159.3,202.0 159.4,203.1 159.5,199.9 159.6,200.5 159.7,201.6 159.8,205.4 159.9,203.3 160.0,197.1 160.1,200.9 160.2,197.2 160.3,197.1 160.4,196.4 160.5,194.4 160.6,199.2 160.7,191.8 160.8,179.6 160.9,181.1 161.0,187.6 161.1,189.7 161.2,197.4 161.3,195.8 161.4,195.2 161.5,195.5 161.6,197.7 161.7,195.8 161.8,196.9 161.9,199.0 162.0,205.2 162.1,204.8 162.2,194.6 162.3,195.5 162.4,196.4 162.5,198.8 162.6,203.4 162.7,203.9 162.8,196.3 162.9,198.9 163.0,199.9 163.1,201.3 163.2,204.6 163.3,200.2 163.4,203.4 163.5,198.2 163.6,199.7 163.7,201.5 163.8,207.5 163.9,203.1 164.0,198.3 164.1,201.8 164.2,200.4 164.3,205.4 164.4,202.4 164.5,200.4 164.6,204.8 164.7,204.3 164.8,206.5 164.9,201.6 165.0,206.8 165.1,204.1 165.2,206.2 165.3,202.9 165.4,199.9 165.5,201.5 165.6,203.5 165.7,208.1 165.8,207.7 165.9,208.4 166.0,208.8 166.1,213.0 166.2,209.0 166.3,210.8 166.4,208.5 166.5,208.3 166.6,206.3 166.7,209.4 166.8,205.4 166.9,203.2 167.0,199.7 167.1,203.3 167.2,206.9 167.3,209.3 167.4,206.9 167.5,209.1 167.6,207.1 167.7,207.4 167.8,207.8 167.9,212.0 168.0,210.3 168.1,207.5 168.2,201.2 168.3,209.7 168.4,205.8 168.5,206.2 168.6,206.6 168.7,202.7 168.8,204.7 168.9,208.7 169.0,209.3 169.1,207.6 169.2,209.7 169.3,210.6 169.4,213.9 169.5,210.6 169.6,209.5 169.7,209.7 169.8,209.5 169.9,209.9 170.0,209.8 170.1,208.7 170.2,206.7 170.3,207.4 170.4,206.4 170.5,206.5 170.6,207.5 170.7,209.8 170.8,211.6 170.9,209.6 171.0,210.7 171.1,212.1 171.2,211.5 171.3,208.8 171.4,206.5 171.5,209.8 171.6,211.8 171.7,211.9 171.8,210.0 171.9,212.8 172.0,213.9 172.1,212.7 172.2,211.7 172.3,208.7 172.4,211.0 172.5,208.9 172.6,211.1 172.7,212.3 172.8,208.4 172.9,207.9 173.0,209.4 173.1,213.0 173.2,213.6 173.3,213.1 173.4,211.9 173.5,213.6 173.6,213.4 173.7,212.5 173.8,212.0 173.9,208.9 174.0,207.0 174.1,210.2 174.2,212.8 174.3,211.1 174.4,209.9 174.5,208.4 174.6,210.5 174.7,211.3 174.8,210.4 174.9,209.4 175.0,210.3 175.1,210.6 175.2,209.7 175.3,211.4 175.4,212.1 175.5,212.3 175.6,213.5 175.7,212.3 175.8,214.3 175.9,212.4 176.0,213.3 176.1,213.9 176.2,213.2 176.3,213.6 176.4,211.9 176.5,210.7 176.6,211.7 176.7,211.6 176.8,213.1 176.9,213.3 177.0,208.0 177.1,209.7 177.2,214.2 177.3,214.1 177.4,213.5 177.5,213.2 177.6,215.7 177.7,213.0 177.8,213.3 177.9,214.7 178.0,214.9 178.1,216.0 178.2,215.7 178.3,213.8 178.4,213.7 178.5,212.7 178.6,214.4 178.7,215.9 178.8,214.9 178.9,215.3 179.0,214.6 179.1,213.4 179.2,213.6 179.3,212.8 179.4,213.3 179.5,214.2 179.6,215.2 179.7,216.2 179.8,215.4 179.9,215.4 180.0,215.6 180.1,215.8 180.2,212.9 180.3,213.1 180.4,214.7 180.5,213.8 180.6,214.5 180.7,215.5 180.8,213.5 180.9,214.0 181.0,214.6 181.1,214.8 181.2,213.4 181.3,214.4 181.4,214.1 181.5,215.3 181.6,215.5 181.7,214.7 181.8,215.0 181.9,214.3 182.0,213.9 182.1,212.8 182.2,213.5 182.3,214.9 182.4,215.0 182.5,214.9 182.6,214.3 182.7,214.0 182.8,215.2 182.9,213.5 183.0,216.2 183.1,215.5 183.2,217.5 183.3,217.5 183.4,215.9 183.5,216.2 183.6,215.8 183.7,215.9 183.8,216.2 183.9,215.0 184.0,214.3 184.1,214.0 184.2,212.9 184.3,213.5 184.4,214.3 184.5,214.8 184.6,215.0 184.7,214.5 184.8,215.5 184.9,212.9 185.0,213.3 185.1,213.6 185.2,215.1 185.3,215.7 185.4,216.1 185.5,215.5 185.6,216.2 185.7,214.4 185.8,214.6 185.9,210.8 186.0,210.0 186.1,212.6 186.2,215.2 186.3,214.0 186.4,212.0 186.5,211.5 186.6,213.1 186.7,213.6 186.8,212.4 186.9,212.9 187.0,213.0 187.1,214.3 187.2,215.2 187.3,214.7 187.4,214.8 187.5,214.8 187.6,212.4 187.7,213.6 187.8,214.0 187.9,215.2 188.0,212.9 188.1,214.6 188.2,213.9 188.3,214.6 188.4,216.0 188.5,213.7 188.6,212.7 188.7,214.7 188.8,213.4 188.9,212.9 189.0,214.4 189.1,214.3 189.2,215.4 189.3,215.4 189.4,215.1 189.5,216.0 189.6,212.3 189.7,210.6 189.8,217.3 189.9,217.4 190.0,216.3 190.1,216.1 190.2,214.4 190.3,213.9 190.4,214.6 190.5,214.6 190.6,216.1 190.7,214.0 190.8,214.0 190.9,213.6 191.0,213.9 191.1,215.6 191.2,213.8 191.3,215.2 191.4,214.3 191.5,214.1 191.6,215.5 191.7,214.8 191.8,215.5 191.9,215.3 192.0,214.8 192.1,214.4 192.2,212.6 192.3,212.7 192.4,213.8 192.5,214.5 192.6,217.4 192.7,214.9 192.8,215.4 192.9,213.7 193.0,213.0 193.1,214.3 193.2,212.6 193.3,212.7 193.4,213.6 193.5,214.0 193.6,217.7 193.7,214.9 193.8,214.0 193.9,217.7 194.0,216.5 194.1,214.2 194.2,213.9 194.3,209.3 194.4,210.2 194.5,215.6 194.6,215.3 194.7,215.9 194.8,212.5 194.9,214.8 195.0,216.1 195.1,217.6 195.2,216.2 195.3,215.9 195.4,216.4 195.5,217.7 195.6,216.5 195.7,214.6 195.8,206.1 195.9,193.2 196.0,198.5 196.1,213.0 196.2,213.0 196.3,215.1 196.4,215.9 196.5,214.4 196.6,215.9 196.7,213.5 196.8,213.4 196.9,213.9 197.0,215.6 197.1,216.1 197.2,216.0 197.3,217.0 197.4,216.8 197.5,217.5 197.6,215.4 197.7,213.3 197.8,213.5 197.9,215.1 198.0,215.3 198.1,216.1 198.2,216.3 198.3,216.3 198.4,216.6 198.5,215.0 198.6,216.2 198.7,214.5 198.8,214.5 198.9,213.1 199.0,214.5 199.1,212.9 199.2,215.4 199.3,213.7 199.4,214.5 199.5,214.5 199.6,213.7 199.7,215.6 199.8,214.8 199.9,216.5 200.0,214.6 200.1,213.8 200.2,212.1 200.3,214.0 200.4,215.4 200.5,215.4 200.6,215.0 200.7,213.9 200.8,217.0 200.9,216.9 201.0,213.9 201.1,214.0 201.2,211.5 201.3,214.8 201.4,217.0 201.5,217.7 201.6,216.4 201.7,215.1 201.8,213.4 201.9,214.7 202.0,213.9 202.1,214.0 202.2,213.7 202.3,213.9 202.4,215.3 202.5,217.0 202.6,216.2 202.7,215.7 202.8,214.1 202.9,213.1 203.0,212.7 203.1,214.7 203.2,215.1 203.3,216.1 203.4,216.0 203.5,215.1 203.6,213.6 203.7,213.8 203.8,212.7 203.9,215.9 204.0,215.8 204.1,215.0 204.2,217.2 204.3,215.7 204.4,216.0 204.5,215.3 204.6,215.6 204.7,214.9 204.8,215.4 204.9,216.8 205.0,214.6 205.1,212.2 205.2,215.0 205.3,215.1 205.4,216.0 205.5,217.7 205.6,216.8 205.7,217.7 205.8,215.3 205.9,215.9 206.0,214.8 206.1,213.0 206.2,213.5 206.3,214.8 206.4,213.3 206.5,212.6 206.6,215.0 206.7,215.0 206.8,215.4 206.9,213.9 207.0,210.4 207.1,209.4 207.2,211.8 207.3,215.0 207.4,216.7 207.5,216.1 207.6,213.8 207.7,213.3 207.8,213.9 207.9,215.8 208.0,214.6 208.1,214.2 208.2,214.5 208.3,213.8 208.4,213.3 208.5,213.7 208.6,215.3 208.7,215.6 208.8,214.9 208.9,215.3 209.0,213.6 209.1,215.2 209.2,215.9 209.3,215.7 209.4,213.4 209.5,216.3 209.6,212.3 209.7,212.3 209.8,212.3 209.9,214.2 210.0,212.8 210.1,213.9 210.2,214.1 210.3,214.1 210.4,215.3 210.5,216.7 210.6,216.2 210.7,215.3 210.8,212.5 210.9,215.1 211.0,214.6 211.1,212.6 211.2,213.7 211.3,215.8 211.4,215.2 211.5,213.7 211.6,216.7 211.7,216.5 211.8,216.1 211.9,216.7 212.0,213.4 212.1,213.9 212.2,214.1 212.3,217.0 212.4,215.3 212.5,214.5 212.6,217.7 212.7,212.8 212.8,213.3 212.9,214.1 213.0,214.0 213.1,216.6 213.2,216.2 213.3,216.1 213.4,217.0 213.5,216.5 213.6,214.6 213.7,212.2 213.8,213.4 213.9,212.3 214.0,214.8 214.1,213.1 214.2,210.0 214.3,211.5 214.4,213.9 214.5,213.3 214.6,213.5 214.7,213.6 214.8,216.0 214.9,210.0 215.0,206.8 215.1,212.4 215.2,206.4 215.3,213.4 215.4,215.0 215.5,212.2 215.6,213.3 215.7,213.4 215.8,212.2 215.9,211.6 216.0,213.2 216.1,216.6 216.2,210.3 216.3,211.0 216.4,211.5 216.5,211.4 216.6,212.1 216.7,213.1 216.8,211.0 216.9,211.7 217.0,210.9 217.1,214.2 217.2,210.7 217.3,210.9 217.4,212.8 217.5,207.2 217.6,205.2 217.7,206.5 217.8,212.0 217.9,209.9 218.0,210.8 218.1,211.2 218.2,209.0 218.3,206.9 218.4,204.6 218.5,208.2 218.6,213.6 218.7,213.6 218.8,210.8 218.9,212.0 219.0,209.2 219.1,209.1 219.2,213.6 219.3,213.0 219.4,215.5 219.5,213.7 219.6,213.1 219.7,210.7 219.8,213.1 219.9,212.4 220.0,213.5 220.1,213.7 220.2,214.1 220.3,213.9 220.4,213.1 220.5,212.8 220.6,211.3 220.7,207.9 220.8,210.8 220.9,215.3 221.0,216.0 221.1,217.7 221.2,216.7 221.3,213.0 221.4,211.0 221.5,213.0 221.6,213.4 221.7,212.7 221.8,213.9 221.9,211.7 222.0,213.0 222.1,212.3 222.2,212.7 222.3,214.8 222.4,213.5 222.5,215.6 222.6,216.7 222.7,213.4 222.8,217.3 222.9,212.9 223.0,212.6 223.1,213.9 223.2,209.1 223.3,212.6 223.4,214.7 223.5,213.5 223.6,213.6 223.7,213.5 223.8,212.7 223.9,214.6 224.0,213.0 224.1,212.8 224.2,213.4 224.3,214.6 224.4,215.7 224.5,211.6 224.6,208.3 224.7,210.0 224.8,211.1 224.9,209.8 225.0,211.6 225.1,213.2 225.2,213.6 225.3,205.5 225.4,207.2 225.5,212.7 225.6,216.2 225.7,215.8 225.8,212.3 225.9,212.8 226.0,214.9 226.1,217.7 226.2,216.6 226.3,216.9 226.4,212.9 226.5,212.3 226.6,214.6 226.7,211.9 226.8,212.1 226.9,208.9 227.0,213.3 227.1,209.6 227.2,208.1 227.3,208.4 227.4,209.1 227.5,214.0 227.6,212.8 227.7,211.9 227.8,213.2 227.9,214.1 228.0,210.2 228.1,209.8 228.2,211.4 228.3,212.2 228.4,213.2 228.5,212.5 228.6,212.4 228.7,213.2 228.8,212.2 228.9,211.4 229.0,211.5 229.1,212.5 229.2,212.8 229.3,212.4 229.4,212.6 229.5,213.1 229.6,213.9 229.7,214.4 229.8,212.3 229.9,214.5 230.0,212.0 230.1,213.7 230.2,212.9 230.3,214.3 230.4,215.7 230.5,212.5 230.6,214.2 230.7,214.6 230.8,213.9 230.9,214.7 231.0,214.0 231.1,214.4 231.2,213.2 231.3,214.8 231.4,215.5 231.5,216.0 231.6,214.6 231.7,216.9 231.8,217.7 231.9,216.6 232.0,215.2 232.1,214.5 232.2,215.5 232.3,216.3 232.4,214.8 232.5,212.5 232.6,214.0 232.7,214.3 232.8,214.8 232.9,215.4 233.0,213.9 233.1,214.4 233.2,214.3 233.3,215.0 233.4,211.0 233.5,206.4 233.6,214.4 233.7,216.0 233.8,216.3 233.9,215.5 234.0,213.3 234.1,213.1 234.2,214.1 234.3,215.1 234.4,214.5 234.5,215.2 234.6,214.4 234.7,214.2 234.8,215.1 234.9,214.8 235.0,215.1 235.1,216.0 235.2,216.7 235.3,215.4 235.4,215.0 235.5,213.7 235.6,213.0 235.7,214.2 235.8,214.1 235.9,212.7 236.0,214.3 236.1,213.9 236.2,214.1 236.3,215.0 236.4,215.5 236.5,215.3 236.6,213.3 236.7,214.7 236.8,214.4 236.9,213.4 237.0,212.1 237.1,214.8 237.2,215.1 237.3,217.7 237.4,206.1 237.5,209.3 237.6,214.1 237.7,215.3 237.8,216.2 237.9,216.3 238.0,217.3 238.1,217.7 238.2,216.2 238.3,215.4 238.4,216.2 238.5,216.0 238.6,215.9 238.7,216.5 238.8,216.7 238.9,215.7 239.0,215.6 239.1,207.9 239.2,214.9 239.3,214.1 239.4,212.9 239.5,213.5 239.6,213.8 239.7,215.3 239.8,216.8 239.9,216.2 240.0,216.2 240.1,215.3 240.2,214.5 240.3,214.6 240.4,214.7 240.5,215.3 240.6,215.4 240.7,216.9 240.8,216.0 240.9,214.2 241.0,214.9 241.1,214.5 241.2,215.1 241.3,216.2 241.4,215.3 241.5,215.3 241.6,215.8 241.7,214.7 241.8,215.2 241.9,215.8 242.0,216.4 242.1,216.9 242.2,216.8 242.3,216.5 242.4,214.7 242.5,212.6 242.6,213.0 242.7,215.4 242.8,215.5 242.9,213.4 243.0,213.9 243.1,214.9 243.2,213.4 243.3,214.9 243.4,214.1 243.5,215.6 243.6,215.6 243.7,217.7 243.8,215.8 243.9,215.9 244.0,214.3 244.1,215.9 244.2,215.8 244.3,216.5 244.4,216.1 244.5,214.7 244.6,214.4 244.7,213.8 244.8,213.6 244.9,214.5 245.0,215.9 245.1,216.4 245.2,216.4 245.3,215.4 245.4,215.9 245.5,214.9 245.6,215.3 245.7,216.0 245.8,215.6 245.9,215.1 246.0,214.8 246.1,215.6 246.2,215.2 246.3,214.0 246.4,214.3 246.5,213.8 246.6,208.1 246.7,211.4 246.8,214.2 246.9,214.9 247.0,215.7 247.1,215.8 247.2,215.3 247.3,215.4 247.4,215.5 247.5,216.2 247.6,216.1 247.7,217.5 247.8,216.3 247.9,217.0 248.0,216.2 248.1,214.4 248.2,213.8 248.3,213.0 248.4,212.6 248.5,214.6 248.6,214.2 248.7,215.0 248.8,214.1 248.9,214.4 249.0,213.5 249.1,214.8 249.2,214.4 249.3,214.0 249.4,214.0 249.5,216.4 249.6,215.9 249.7,216.1 249.8,213.8 249.9,213.2 250.0,213.9 250.1,211.7 250.2,214.2 250.3,214.3 250.4,214.0 250.5,213.6 250.6,213.3 250.7,212.7 250.8,214.9 250.9,215.1 251.0,216.0 251.1,214.3 251.2,212.6 251.3,214.7 251.4,217.3 251.5,208.5 251.6,210.2 251.7,214.7 251.8,211.8 251.9,211.7 252.0,212.1 252.1,212.1 252.2,210.8 252.3,204.9 252.4,193.4 252.5,198.2 252.6,207.7 252.7,209.4 252.8,206.9 252.9,210.3 253.0,211.8 253.1,210.7 253.2,208.1 253.3,205.2 253.4,211.1 253.5,211.9 253.6,211.2 253.7,210.1 253.8,208.7 253.9,213.3 254.0,212.5 254.1,211.6 254.2,212.7 254.3,210.8 254.4,209.6 254.5,211.4 254.6,213.3 254.7,213.4 254.8,208.2 254.9,209.0 255.0,209.2 255.1,210.5 255.2,207.8 255.3,205.7 255.4,207.0 255.5,205.5 255.6,204.2 255.7,206.1 255.8,209.9 255.9,209.8 256.0,212.4 256.1,207.8 256.2,201.9 256.3,189.5 256.4,193.9 256.5,205.2 256.6,203.2 256.7,203.9 256.8,202.5 256.9,208.1 257.0,205.7 257.1,200.5 257.2,201.6 257.3,204.2 257.4,202.9 257.5,206.3 257.6,201.6 257.7,198.9 257.8,206.7 257.9,204.7 258.0,205.5 258.1,205.7 258.2,205.9 258.3,203.8 258.4,201.4 258.5,205.4 258.6,200.7 258.7,200.5 258.8,202.8 258.9,199.1 259.0,191.7 259.1,196.4 259.2,201.8 259.3,200.8 259.4,190.9 259.5,196.2 259.6,205.4 259.7,193.3 259.8,180.6 259.9,185.5 260.0,189.7 260.1,195.4 260.2,198.6 260.3,196.5 260.4,197.5 260.5,196.8 260.6,195.1 260.7,193.0 260.8,191.2 260.9,194.6 261.0,194.8 261.1,190.1 261.2,195.8 261.3,178.4 261.4,173.7 261.5,180.3 261.6,177.2 261.7,180.3 261.8,189.0 261.9,200.6 262.0,185.0 262.1,182.5 262.2,179.9 262.3,183.2 262.4,186.0 262.5,170.9 262.6,157.9 262.7,162.4 262.8,178.4 262.9,186.7 263.0,187.8 263.1,180.6 263.2,186.8 263.3,190.2 263.4,190.5 263.5,185.7 263.6,194.8 263.7,199.1 263.8,187.6 263.9,192.0 264.0,193.3 264.1,181.9 264.2,189.6 264.3,194.4 264.4,197.4 264.5,196.7 264.6,192.9 264.7,191.6 264.8,195.2 264.9,200.0 265.0,195.9 265.1,194.6 265.2,197.9 265.3,188.6 265.4,193.8 265.5,194.1 265.6,186.9 265.7,194.3 265.8,192.2 265.9,197.3 266.0,202.3 266.1,195.7 266.2,192.5 266.3,195.0 266.4,190.5 266.5,196.6 266.6,198.1 266.7,190.4 266.8,173.7 266.9,178.0 267.0,184.9 267.1,193.0 267.2,198.3 267.3,193.9 267.4,196.4 267.5,193.0 267.6,187.2 267.7,182.0 267.8,185.7 267.9,199.8 268.0,203.1 268.1,199.3 268.2,198.8 268.3,201.0 268.4,200.9 268.5,204.5 268.6,189.1 268.7,181.8 268.8,187.6 268.9,204.3 269.0,198.6 269.1,201.0 269.2,205.0 269.3,206.1 269.4,199.9 269.5,198.2 269.6,200.1 269.7,196.0 269.8,198.3 269.9,199.5 270.0,196.9 270.1,195.3 270.2,193.1 270.3,195.8 270.4,200.3 270.5,199.7 270.6,205.2 270.7,197.7 270.8,195.4 270.9,198.2 271.0,194.0 271.1,196.5 271.2,186.4 271.3,183.8 271.4,197.5 271.5,200.4 271.6,190.9 271.7,182.4 271.8,189.6 271.9,197.5 272.0,194.1 272.1,194.5 272.2,196.5 272.3,196.5 272.4,200.2 272.5,200.0 272.6,202.2 272.7,200.7 272.8,197.3 272.9,200.4 273.0,201.0 273.1,197.1 273.2,196.4 273.3,206.3 273.4,183.8 273.5,182.3 273.6,198.7 273.7,198.5 273.8,197.6 273.9,196.5 274.0,205.2 274.1,200.9 274.2,199.0 274.3,201.6 274.4,201.7 274.5,199.9 274.6,198.6 274.7,194.5 274.8,200.1 274.9,196.3 275.0,189.7 275.1,197.4 275.2,200.7 275.3,201.2 275.4,188.3 275.5,183.1 275.6,186.3 275.7,191.4 275.8,195.6 275.9,200.0 276.0,201.9 276.1,207.7 276.2,206.8 276.3,202.9 276.4,200.9 276.5,203.3 276.6,201.6 276.7,200.4 276.8,194.4 276.9,195.9 277.0,193.6 277.1,197.3 277.2,199.0 277.3,201.9 277.4,207.0 277.5,203.4 277.6,206.8 277.7,200.2 277.8,200.8 277.9,203.8 278.0,208.8 278.1,201.5 278.2,200.3 278.3,200.9 278.4,200.5 278.5,197.5 278.6,193.7 278.7,192.9 278.8,196.3 278.9,194.0 279.0,203.0 279.1,206.2 279.2,197.7 279.3,197.6 279.4,203.6 279.5,188.0 279.6,195.0 279.7,200.5 279.8,199.7 279.9,204.7 280.0,203.6 280.1,201.1 280.2,202.8 280.3,205.4 280.4,203.9 280.5,203.5 280.6,205.9 280.7,201.9 280.8,198.4 280.9,202.1 281.0,197.6 281.1,200.7 281.2,198.3 281.3,202.1 281.4,197.5 281.5,192.1 281.6,186.5 281.7,200.6 281.8,197.7 281.9,198.4 282.0,188.0 282.1,183.3 282.2,191.7 282.3,202.2 282.4,205.3 282.5,198.5 282.6,206.8 282.7,190.7 282.8,197.0 282.9,200.9 283.0,194.2 283.1,200.0 283.2,198.4 283.3,195.0 283.4,196.7 283.5,199.8 283.6,198.9 283.7,198.5 283.8,196.0 283.9,192.8 284.0,194.4 284.1,191.1 284.2,196.6 284.3,194.9 284.4,201.0 284.5,194.8 284.6,201.2 284.7,197.2 284.8,194.9 284.9,197.5 285.0,201.0 285.1,199.8 285.2,198.1 285.3,204.7 285.4,203.6 285.5,197.5 285.6,197.2 285.7,203.1 285.8,202.0 285.9,203.0 286.0,205.2 286.1,201.5 286.2,201.3 286.3,198.1 286.4,198.4 286.5,200.0 286.6,195.7 286.7,197.4 286.8,198.4 286.9,201.3 287.0,198.5 287.1,195.2 287.2,197.8 287.3,195.3 287.4,197.3 287.5,199.3 287.6,196.8 287.7,197.4 287.8,195.4 287.9,190.2 288.0,190.6 288.1,189.5 288.2,193.7 288.3,193.5 288.4,195.5 288.5,196.8 288.6,199.9 288.7,198.6 288.8,197.7 288.9,199.2 289.0,202.2 289.1,200.4 289.2,200.3 289.3,192.6 289.4,189.4 289.5,195.0 289.6,196.8 289.7,197.4 289.8,197.9 289.9,204.1 290.0,190.9 290.1,188.5 290.2,200.4 290.3,204.0 290.4,201.6 290.5,206.6 290.6,203.1 290.7,204.2 290.8,191.2 290.9,196.6 291.0,204.1 291.1,202.6 291.2,199.3 291.3,197.8 291.4,199.9 291.5,205.3 291.6,201.6 291.7,202.6 291.8,199.1 291.9,200.3 292.0,196.4 292.1,195.7 292.2,197.7 292.3,196.5 292.4,197.3 292.5,201.5 292.6,200.5 292.7,188.8 292.8,187.6 292.9,191.5 293.0,201.0 293.1,200.3 293.2,199.6 293.3,201.9 293.4,203.4 293.5,204.7 293.6,201.4 293.7,198.0 293.8,193.8 293.9,194.4 294.0,195.7 294.1,199.6 294.2,200.5 294.3,198.4 294.4,201.5 294.5,196.9 294.6,195.0 294.7,193.5 294.8,192.9 294.9,195.1 295.0,191.9 295.1,190.2 295.2,200.6 295.3,195.7 295.4,194.2 295.5,195.7 295.6,198.5 295.7,200.1 295.8,198.7 295.9,197.5 296.0,197.2 296.1,190.3 296.2,185.2 296.3,189.6 296.4,194.0 296.5,191.9 296.6,194.4 296.7,200.5 296.8,199.5 296.9,204.9 297.0,196.1 297.1,197.5 297.2,198.7 297.3,200.9 297.4,196.5 297.5,197.3 297.6,197.5 297.7,197.4 297.8,192.0 297.9,187.6 298.0,187.3 298.1,185.2 298.2,188.2 298.3,198.5 298.4,201.5 298.5,194.4 298.6,198.1 298.7,202.8 298.8,203.6 298.9,202.3 299.0,202.0 299.1,193.1 299.2,192.0 299.3,197.6 299.4,202.5 299.5,201.0 299.6,188.8 299.7,182.6 299.8,186.6 299.9,205.4 300.0,203.9 300.1,197.3 300.2,198.7 300.3,198.6 300.4,205.3 300.5,204.0 300.6,199.6 300.7,188.5 300.8,176.3 300.9,179.2 301.0,187.9 301.1,186.9 301.2,191.0 301.3,192.8 301.4,197.6 301.5,202.8 301.6,199.5 301.7,196.2 301.8,187.0 301.9,191.9 302.0,195.9 302.1,191.7 302.2,191.2 302.3,189.5 302.4,177.2 302.5,178.1 302.6,176.6 302.7,183.6 302.8,205.1 302.9,196.6 303.0,191.2 303.1,193.5 303.2,191.5 303.3,200.6 303.4,196.1 303.5,181.3 303.6,183.9 303.7,201.3 303.8,194.7 303.9,192.6 304.0,192.0 304.1,192.5 304.2,200.5 304.3,203.0 304.4,203.6 304.5,204.8 304.6,200.3 304.7,201.3 304.8,198.0 304.9,193.5 305.0,200.7 305.1,190.9 305.2,192.7 305.3,191.3 305.4,186.2 305.5,188.6 305.6,191.6 305.7,194.9 305.8,191.6 305.9,187.6 306.0,175.0 306.1,181.3 306.2,189.7 306.3,190.3 306.4,190.1 306.5,194.6 306.6,192.0 306.7,191.5 306.8,188.7 306.9,187.1 307.0,187.2 307.1,177.1 307.2,190.9 307.3,183.5 307.4,190.1 307.5,190.9 307.6,195.2 307.7,197.6 307.8,195.6 307.9,194.1 308.0,192.8 308.1,194.3 308.2,192.1 308.3,194.7 308.4,200.8 308.5,196.2 308.6,193.8 308.7,192.5 308.8,196.7 308.9,199.3 309.0,191.9 309.1,181.8 309.2,179.9 309.3,186.8 309.4,181.5 309.5,186.3 309.6,198.1 309.7,205.8 309.8,207.4 309.9,199.7 310.0,196.5 310.1,200.6 310.2,191.6 310.3,191.3 310.4,196.1 310.5,199.9 310.6,200.3 310.7,204.3 310.8,201.3 310.9,201.1 311.0,200.1 311.1,196.5 311.2,198.7 311.3,197.9 311.4,199.8 311.5,191.8 311.6,196.8 311.7,197.5 311.8,197.7 311.9,200.2 312.0,200.0 312.1,204.5 312.2,208.1 312.3,208.9 312.4,209.8 312.5,208.4 312.6,206.8 312.7,192.6 312.8,194.4 312.9,207.4 313.0,208.9 313.1,206.1 313.2,206.5 313.3,209.5 313.4,207.8 313.5,211.9 313.6,207.7 313.7,209.8 313.8,210.7 313.9,210.0 314.0,209.9 314.1,210.5 314.2,203.5 314.3,206.8 314.4,210.4 314.5,194.5 314.6,212.4 314.7,207.6 314.8,202.0 314.9,198.3 315.0,200.9 315.1,211.3 315.2,211.3 315.3,208.8 315.4,210.8 315.5,211.9 315.6,209.5 315.7,210.7 315.8,197.6 315.9,195.6 316.0,193.3 316.1,195.2 316.2,211.8 316.3,210.5 316.4,210.8 316.5,210.9 316.6,209.5 316.7,208.0 316.8,208.9 316.9,207.8 317.0,207.4 317.1,205.7 317.2,206.8 317.3,210.5 317.4,210.6 317.5,210.4 317.6,209.4 317.7,208.6 317.8,205.8 317.9,211.4 318.0,198.8 318.1,193.1 318.2,208.6 318.3,209.7 318.4,208.5 318.5,205.6 318.6,204.2 318.7,210.3 318.8,209.7 318.9,208.1 319.0,213.1 319.1,210.2 319.2,207.7 319.3,200.5 319.4,198.9 319.5,215.2 319.6,208.0 319.7,209.3 319.8,205.2 319.9,191.9 320.0,207.1 320.1,206.9 320.2,206.1 320.3,209.5 320.4,213.2 320.5,211.2 320.6,209.6 320.7,208.1 320.8,209.8 320.9,206.9 321.0,216.4 321.1,212.5 321.2,215.1 321.3,212.6 321.4,207.5 321.5,204.2 321.6,205.2 321.7,205.0 321.8,206.0 321.9,204.3 322.0,212.1 322.1,215.8 322.2,208.0 322.3,209.4 322.4,212.0 322.5,209.5 322.6,208.4 322.7,211.1 322.8,211.2 322.9,206.8 323.0,193.5 323.1,185.7 323.2,192.3 323.3,208.3 323.4,202.3 323.5,205.1 323.6,209.6 323.7,210.2 323.8,209.6 323.9,206.4 324.0,209.5 324.1,203.9 324.2,207.7 324.3,204.5 324.4,204.4 324.5,202.4 324.6,202.3 324.7,208.6 324.8,205.1 324.9,206.7 325.0,205.0 325.1,208.8 325.2,204.7 325.3,205.9 325.4,213.6 325.5,214.0 325.6,208.0 325.7,205.5 325.8,206.2 325.9,210.4 326.0,206.4 326.1,208.8 326.2,206.5 326.3,204.3 326.4,201.6 326.5,204.5 326.6,208.1 326.7,207.4 326.8,202.1 326.9,202.9 327.0,207.1 327.1,189.0 327.2,193.0 327.3,211.6 327.4,206.4 327.5,203.7 327.6,210.8 327.7,210.7 327.8,208.5 327.9,206.6 328.0,200.7 328.1,205.4 328.2,201.2 328.3,199.2 328.4,191.5 328.5,189.3 328.6,196.1 328.7,207.2 328.8,205.8 328.9,206.9 329.0,202.5 329.1,209.3 329.2,205.4 329.3,207.0 329.4,201.2 329.5,207.8 329.6,198.4 329.7,191.5 329.8,194.1 329.9,209.4 330.0,207.1 330.1,206.1 330.2,209.3 330.3,204.9 330.4,207.0 330.5,211.7 330.6,213.6 330.7,212.8 330.8,210.2 330.9,204.9 331.0,209.0 331.1,205.0 331.2,208.4 331.3,189.6 331.4,192.1 331.5,204.7 331.6,206.3 331.7,203.9 331.8,204.5 331.9,202.6 332.0,204.8 332.1,205.3 332.2,205.9 332.3,202.1 332.4,203.8 332.5,203.8 332.6,205.7 332.7,204.9 332.8,201.0 332.9,204.5 333.0,201.7 333.1,203.4 333.2,196.3 333.3,201.2 333.4,192.7 333.5,200.7 333.6,203.9 333.7,202.3 333.8,207.5 333.9,207.9 334.0,201.3 334.1,201.4 334.2,195.9 334.3,197.9 334.4,193.2 334.5,184.6 334.6,191.1 334.7,202.6 334.8,203.3 334.9,200.9 335.0,203.0 335.1,207.0 335.2,205.9 335.3,207.7 335.4,202.6 335.5,200.9 335.6,203.0 335.7,210.5 335.8,210.8 335.9,213.0 336.0,208.9 336.1,210.9 336.2,200.8 336.3,203.7 336.4,195.3 336.5,203.3 336.6,204.9 336.7,208.4 336.8,207.4 336.9,212.0 337.0,200.2 337.1,202.0 337.2,208.2 337.3,208.2 337.4,203.5 337.5,200.9 337.6,198.9 337.7,199.9 337.8,201.0 337.9,200.2 338.0,201.7 338.1,196.5 338.2,205.6 338.3,205.7 338.4,210.5 338.5,208.7 338.6,205.9 338.7,205.5 338.8,205.8 338.9,203.0 339.0,202.5 339.1,210.2 339.2,196.7 339.3,192.6 339.4,207.8 339.5,204.0 339.6,189.0 339.7,204.4 339.8,208.0 339.9,207.2 340.0,206.8 340.1,204.0 340.2,204.3 340.3,203.0 340.4,202.1 340.5,205.6 340.6,213.7 340.7,209.7 340.8,211.4 340.9,209.5 341.0,206.6 341.1,210.8 341.2,211.2 341.3,212.8 341.4,210.9 341.5,210.0 341.6,206.9 341.7,206.6 341.8,211.7 341.9,203.5 342.0,206.4 342.1,211.1 342.2,211.8 342.3,212.5 342.4,209.4 342.5,211.9 342.6,213.4 342.7,210.4 342.8,214.2 342.9,209.4 343.0,200.1 343.1,203.0 343.2,204.2 343.3,202.3 343.4,202.5 343.5,202.3 343.6,197.6 343.7,205.8 343.8,205.9 343.9,215.7 344.0,195.9 344.1,181.7 344.2,176.3 344.3,184.5 344.4,202.7 344.5,205.9 344.6,209.1 344.7,210.2 344.8,204.8 344.9,201.9 345.0,206.1 345.1,209.9 345.2,212.9 345.3,209.1 345.4,206.6 345.5,212.3 345.6,206.5 345.7,208.3 345.8,205.2 345.9,199.5 346.0,197.4 346.1,201.9 346.2,203.5 346.3,205.3 346.4,203.2 346.5,201.5 346.6,203.4 346.7,202.8 346.8,197.3 346.9,198.5 347.0,206.9 347.1,202.6 347.2,205.0 347.3,195.0 347.4,191.1 347.5,202.0 347.6,198.2 347.7,202.2 347.8,200.3 347.9,201.7 348.0,193.2 348.1,188.0 348.2,195.0 348.3,205.2 348.4,201.1 348.5,196.8 348.6,197.0 348.7,196.5 348.8,193.9 348.9,206.7 349.0,204.0 349.1,200.3 349.2,205.8 349.3,205.5 349.4,206.5 349.5,202.0 349.6,200.5 349.7,204.1 349.8,206.4 349.9,201.9 350.0,203.7 350.1,199.8 350.2,205.7 350.3,207.1 350.4,213.0 350.5,213.0 350.6,207.2 350.7,206.3 350.8,203.6 350.9,204.2 351.0,206.6 351.1,205.4 351.2,192.9 351.3,191.0 351.4,192.5 351.5,197.5 351.6,192.9 351.7,194.8 351.8,197.4 351.9,207.7 352.0,204.1 352.1,207.2 352.2,205.8 352.3,203.2 352.4,203.0 352.5,199.0 352.6,195.8 352.7,194.8 352.8,195.8 352.9,203.0 353.0,201.7 353.1,202.4 353.2,196.5 353.3,193.5 353.4,211.5 353.5,207.1 353.6,209.6 353.7,206.8 353.8,205.7 353.9,203.9 354.0,202.8 354.1,204.3 354.2,213.1 354.3,201.8 354.4,201.8 354.5,204.2 354.6,201.5 354.7,204.6 354.8,200.5 354.9,201.6 355.0,198.0 355.1,202.3 355.2,201.2 355.3,205.3 355.4,204.5 355.5,201.9 355.6,196.8 355.7,204.3 355.8,204.9 355.9,195.8 356.0,204.0 356.1,204.9 356.2,208.1 356.3,205.3 356.4,207.1 356.5,202.4 356.6,207.1 356.7,207.9 356.8,206.0 356.9,200.6 357.0,197.2 357.1,203.3 357.2,203.9 357.3,200.5 357.4,201.7 357.5,195.0 357.6,196.8 357.7,207.3 357.8,205.1 357.9,208.3 358.0,207.3 358.1,209.6 358.2,215.1 358.3,204.8 358.4,203.8 358.5,205.0 358.6,203.2 358.7,207.8 358.8,206.0 358.9,211.4 359.0,211.4 359.1,210.4 359.2,208.5 359.3,210.1 359.4,209.9 359.5,212.8 359.6,211.2 359.7,212.2 359.8,200.4 359.9,196.6 360.0,203.4 360.1,204.7 360.2,206.6 360.3,198.4 360.4,198.8 360.5,174.4 360.6,133.0 360.8,150.1 360.9,197.0 361.0,201.5 361.1,206.3 361.2,207.0 361.3,208.0 361.4,205.2 361.5,198.5 361.6,197.4 361.7,197.4 361.8,196.8 361.9,200.1 362.0,204.4 362.1,207.7 362.2,206.2 362.3,202.1 362.4,200.8 362.5,200.5 362.6,204.6 362.7,203.8 362.8,203.6 362.9,201.0 363.0,203.3 363.1,200.8 363.2,201.2 363.3,205.1 363.4,207.4 363.5,205.2 363.6,205.4 363.7,207.1 363.8,206.6 363.9,209.8 364.0,212.0 364.1,209.1 364.2,204.2 364.3,204.6 364.4,196.8 364.5,195.1 364.6,201.7 364.7,212.8 364.8,208.4 364.9,208.3 365.0,210.5 365.1,209.5 365.2,210.6 365.3,206.0 365.4,202.8 365.5,210.2 365.6,202.8 365.7,196.0 365.8,199.7 365.9,214.9 366.0,214.9 366.1,207.5 366.2,196.6 366.3,210.6 366.4,203.7 366.5,200.3 366.6,202.9 366.7,210.0 366.8,211.3 366.9,215.1 367.0,212.5 367.1,213.1 367.2,214.7 367.3,212.6 367.4,210.2 367.5,209.3 367.6,198.5 367.7,203.4 367.8,197.7 367.9,198.2 368.0,206.1 368.1,207.8 368.2,198.6 368.3,197.2 368.4,202.7 368.5,208.9 368.6,197.1 368.7,197.0 368.8,200.3 368.9,205.7 369.0,205.9 369.1,203.6 369.2,205.4 369.3,204.4 369.4,205.8 369.5,204.5 369.6,208.8 369.7,214.3 369.8,209.9 369.9,209.2 370.0,208.8 370.1,209.6 370.2,208.5 370.3,202.4 370.4,205.9 370.5,214.4 370.6,197.2 370.7,199.2 370.8,205.4 370.9,207.2 371.0,206.8 371.1,206.7 371.2,207.6 371.3,208.5 371.4,208.4 371.5,211.4 371.6,210.6 371.7,207.5 371.8,212.4 371.9,210.9 372.0,213.8 372.1,208.6 372.2,209.9 372.3,213.7 372.4,214.7 372.5,212.1 372.6,208.9 372.7,207.1 372.8,199.1 372.9,202.1 373.0,204.7 373.1,203.8 373.2,198.7 373.3,206.3 373.4,202.7 373.5,205.7 373.6,208.8 373.7,206.2 373.8,204.9 373.9,206.6 374.0,207.4 374.1,210.5 374.2,204.4 374.3,198.5 374.4,201.9 374.5,210.2 374.6,214.2 374.7,216.6 374.8,212.1 374.9,214.6 375.0,213.3 375.1,211.3 375.2,209.5 375.3,208.6 375.4,206.4 375.5,207.1 375.6,210.4 375.7,213.0 375.8,200.2 375.9,198.3 376.0,211.4 376.1,204.2 376.2,208.2 376.3,205.4 376.4,204.1 376.5,201.1 376.6,204.0 376.7,208.5 376.8,206.5 376.9,205.2 377.0,200.5 377.1,206.1 377.2,205.3 377.3,202.7 377.4,210.1 377.5,208.3 377.6,206.6 377.7,209.9 377.8,208.5 377.9,211.5 378.0,212.3 378.1,213.3 378.2,210.2 378.3,211.2 378.4,206.0 378.5,203.6 378.6,206.0 378.7,206.4 378.8,210.9 378.9,209.1 379.0,204.2 379.1,206.3 379.2,206.5 379.3,207.9 379.4,205.1 379.5,204.6 379.6,206.5 379.7,209.3 379.8,209.9 379.9,211.2 380.0,206.1 380.1,206.5 380.2,207.9 380.3,210.6 380.4,210.2 380.5,208.7 380.6,208.2 380.7,207.9 380.8,204.3 380.9,206.1 381.0,209.1 381.1,210.5 381.2,204.5 381.3,206.1 381.4,203.0 381.5,208.1 381.6,209.5 381.7,210.7 381.8,207.7 381.9,202.7 382.0,202.3 382.1,203.9 382.2,201.7 382.3,201.8 382.4,209.2 382.5,205.1 382.6,207.8 382.7,202.8 382.8,205.7 382.9,208.9 383.0,209.6 383.1,212.0 383.2,214.9 383.3,208.0 383.4,208.6 383.5,209.6 383.6,209.9 383.7,213.3 383.8,211.5 383.9,213.1 384.0,213.9 384.1,211.5 384.2,211.4 384.3,207.6 384.4,208.6 384.5,208.7 384.6,207.9 384.7,206.5 384.8,209.8 384.9,208.6 385.0,214.6 385.1,215.2 385.2,214.0 385.3,209.6 385.4,211.3 385.5,210.1 385.6,209.3 385.7,205.5 385.8,208.2 385.9,208.7 386.0,206.9 386.1,205.4 386.2,202.4 386.3,199.5 386.4,203.4 386.5,209.3 386.6,206.7 386.7,213.9 386.8,207.2 386.9,210.6 387.0,212.5 387.1,213.7 387.2,212.7 387.3,205.7 387.4,209.9 387.5,212.0 387.6,210.2 387.7,202.0 387.8,207.7 387.9,204.9 388.0,205.3 388.1,210.0 388.2,212.8 388.3,211.6 388.4,208.1 388.5,212.9 388.6,214.0 388.7,210.6 388.8,206.2 388.9,207.6 389.0,203.4 389.1,210.6 389.2,195.7 389.3,201.1 389.4,209.1 389.5,203.1 389.6,204.8 389.7,204.0 389.8,200.6 389.9,201.6 390.0,205.3 390.1,201.7 390.2,203.6 390.3,200.7 390.4,204.3 390.5,200.0 390.6,205.6 390.7,208.5 390.8,210.6 390.9,214.9 391.0,212.1 391.1,210.3 391.2,210.9 391.3,207.7 391.4,198.0 391.5,198.9 391.6,199.2 391.7,203.4 391.8,203.0 391.9,203.6 392.0,207.1 392.1,207.8 392.2,214.2 392.3,210.9 392.4,206.1 392.5,210.9 392.6,207.8 392.7,207.3 392.8,210.7 392.9,209.7 393.0,211.0 393.1,207.2 393.2,206.2 393.3,197.7 393.4,206.4 393.5,205.5 393.6,206.2 393.7,212.3 393.8,215.2 393.9,212.6 394.0,210.6 394.1,206.8 394.2,211.8 394.3,211.4 394.4,213.0 394.5,205.7 394.6,209.4 394.7,215.5 394.8,211.3 394.9,213.4 395.0,210.9 395.1,208.2 395.2,210.6 395.3,205.0 395.4,211.4 395.5,211.1 395.6,205.6 395.7,211.3 395.8,213.2 395.9,216.2 396.0,216.0 396.1,214.1 396.2,211.2 396.3,206.0 396.4,209.5 396.5,210.9 396.6,208.1 396.7,210.1 396.8,206.0 396.9,210.5 397.0,209.8 397.1,209.8 397.2,206.4 397.3,210.3 397.4,198.3 397.5,195.5 397.6,198.4 397.7,207.5 397.8,211.1 397.9,204.4 398.0,201.9 398.1,211.3 398.2,207.9 398.3,209.4 398.4,207.2 398.5,208.0 398.6,203.2 398.7,195.7 398.8,198.1 398.9,208.1 399.0,207.8 399.1,205.0 399.2,202.9 399.3,195.9 399.4,210.2 399.5,205.3 399.6,206.4 399.7,203.1 399.8,213.8 399.9,212.3 400.0,205.3 400.1,209.2 400.2,210.5 400.3,210.4 400.4,209.9 400.5,207.4 400.6,206.9 400.7,201.4 400.8,207.6 400.9,213.1 401.0,211.7 401.1,211.2 401.2,204.8 401.3,203.9 401.4,200.2 401.5,198.3 401.6,203.1 401.7,208.6 401.8,206.7 401.9,213.6 402.0,212.6 402.1,200.9 402.2,200.7 402.3,206.7 402.4,205.8 402.5,208.4 402.6,199.6 402.7,205.8 402.8,199.7 402.9,202.1 403.0,210.4 403.1,206.8 403.2,203.5 403.3,205.6 403.4,200.1 403.5,196.4 403.6,202.3 403.7,195.0 403.8,191.8 403.9,203.1 404.0,195.9 404.1,199.4 404.2,204.3 404.3,201.4 404.4,194.9 404.5,199.8 404.6,194.1 404.7,180.4 404.8,177.4 404.9,185.6 405.0,199.8 405.1,194.1 405.2,195.6 405.3,193.4 405.4,188.6 405.5,192.5 405.6,184.6 405.7,188.9 405.8,189.0 405.9,185.9 406.0,191.7 406.1,190.7 406.2,188.1 406.3,168.8 406.4,177.3 406.5,190.9 406.6,187.6 406.7,169.4 406.8,163.2 406.9,165.0 407.0,170.8 407.1,176.1 407.2,174.0 407.3,175.4 407.4,185.8 407.5,179.3 407.6,185.7 407.7,184.8 407.8,190.7 407.9,192.1 408.0,189.0 408.1,191.9 408.2,189.6 408.3,182.1 408.4,185.4 408.5,187.2 408.6,166.8 408.7,173.7 408.8,183.1 408.9,185.0 409.0,173.2 409.1,166.4 409.2,178.5 409.3,188.1 409.4,189.8 409.5,193.8 409.6,189.3 409.7,185.2 409.8,180.3 409.9,183.1 410.0,188.5 410.1,190.7 410.2,191.6 410.3,187.0 410.4,187.2 410.5,183.8 410.6,188.6 410.7,190.4 410.8,186.6 410.9,187.7 411.0,179.2 411.1,179.4 411.2,175.1 411.3,185.1 411.4,189.3 411.5,191.9 411.6,188.6 411.7,195.0 411.8,199.2 411.9,199.4 412.0,199.6 412.1,196.7 412.2,198.9 412.3,192.7 412.4,188.5 412.5,190.5 412.6,191.9 412.7,189.0 412.8,196.1 412.9,189.5 413.0,184.0 413.1,186.4 413.2,194.2 413.3,195.7 413.4,195.3 413.5,194.4 413.6,195.3 413.7,195.1 413.8,194.3 413.9,193.2 414.0,188.0 414.1,193.2 414.2,191.8 414.3,193.5 414.4,194.9 414.5,197.3 414.6,193.1 414.7,195.7 414.8,197.3 414.9,195.3 415.0,194.4 415.1,194.5 415.2,191.1 415.3,191.0 415.4,188.9 415.5,194.7 415.6,192.1 415.7,189.9 415.8,192.3 415.9,194.8 416.0,193.5 416.1,201.2 416.2,193.9 416.3,196.8 416.4,191.0 416.5,190.5 416.6,187.1 416.7,189.6 416.8,193.3 416.9,193.4 417.0,196.5 417.1,200.5 417.2,203.9 417.3,204.1 417.4,202.9 417.5,195.6 417.6,194.5 417.7,195.6 417.8,193.9 417.9,196.8 418.0,195.8 418.1,201.8 418.2,198.9 418.3,193.8 418.4,193.4 418.5,192.6 418.6,196.9 418.7,201.5 418.8,202.9 418.9,203.7 419.0,198.6 419.1,194.4 419.2,193.1 419.3,195.3 419.4,195.2 419.5,197.4 419.6,201.1 419.7,200.0 419.8,205.1 419.9,199.4 420.0,187.8 420.1,189.7 420.2,202.8 420.3,200.9 420.4,198.1 420.5,198.0 420.6,205.8 420.7,193.2 420.8,198.7 420.9,196.8 421.0,202.3 421.1,208.8 421.2,204.0 421.3,205.2 421.4,202.5 421.5,191.9 421.6,189.9 421.7,189.4 421.8,190.7 421.9,197.8 422.0,198.0 422.1,193.7 422.2,197.5 422.3,198.0 422.4,200.8 422.5,200.5 422.6,195.3 422.7,197.8 422.8,200.9 422.9,192.0 423.0,196.1 423.1,189.7 423.2,190.7 423.3,198.9 423.4,192.5 423.5,191.5 423.6,194.9 423.7,193.9 423.8,193.9 423.9,200.3 424.0,196.6 424.1,202.0 424.2,207.0 424.3,208.4 424.4,201.0 424.5,195.6 424.6,197.7 424.7,205.5 424.8,202.4 424.9,199.5 425.0,199.4 425.1,206.9 425.2,192.1 425.3,202.7 425.4,201.1 425.5,202.3 425.6,201.4 425.7,199.6 425.8,194.5 425.9,197.5 426.0,196.9 426.1,197.7 426.2,198.0 426.3,196.4 426.4,199.9 426.5,203.3 426.6,203.6 426.7,200.2 426.8,195.1 426.9,191.6 427.0,194.6 427.1,203.1 427.2,197.7 427.3,198.3 427.4,203.6 427.5,205.3 427.6,202.8 427.7,202.2 427.8,208.0 427.9,208.0 428.0,202.6 428.1,202.7 428.2,200.4 428.3,198.8 428.4,195.9 428.5,200.3 428.6,207.4 428.7,189.0 428.8,200.3 428.9,202.2 429.0,197.1 429.1,199.5 429.2,203.4 429.3,206.9 429.4,204.6 429.5,204.0 429.6,202.7 429.7,201.4 429.8,206.2 429.9,200.9 430.0,207.7 430.1,189.1 430.2,209.8 430.3,200.8 430.4,204.0 430.5,205.3 430.6,202.1 430.7,198.6 430.8,200.3 430.9,199.6 431.0,203.0 431.1,200.2 431.2,204.5 431.3,201.0 431.4,196.5 431.5,190.4 431.6,208.2 431.7,203.8 431.8,202.0 431.9,201.4 432.0,205.2 432.1,201.3 432.2,198.7 432.3,199.1 432.4,201.2 432.5,201.0 432.6,200.9 432.7,196.6 432.8,196.6 432.9,195.1 433.0,201.3 433.1,201.1 433.2,203.4 433.3,197.9 433.4,199.2 433.5,201.3 433.6,197.6 433.7,197.0 433.8,197.1 433.9,199.3 434.0,188.1 434.1,189.0 434.2,188.8 434.3,193.6 434.4,201.9 434.5,198.5 434.6,199.3 434.7,204.5 434.8,206.8 434.9,202.0 435.0,207.1 435.1,202.8 435.2,198.8 435.3,203.6 435.4,203.5 435.5,210.3 435.6,205.2 435.7,203.7 435.8,205.0 435.9,204.0 436.0,201.1 436.1,201.0 436.2,200.8 436.3,200.7 436.4,200.6 436.5,195.2 436.6,188.7 436.7,191.6 436.8,198.6 436.9,196.7 437.0,197.7 437.1,202.5 437.2,206.2 437.3,204.9 437.4,203.5 437.5,200.4 437.6,194.5 437.7,190.5 437.8,194.3 437.9,196.9 438.0,190.2 438.1,192.6 438.2,205.3 438.3,204.3 438.4,200.7 438.5,202.3 438.6,199.0 438.7,198.9 438.8,204.9 438.9,207.4 439.0,200.3 439.1,196.7 439.2,196.8 439.3,206.0 439.4,203.8 439.5,203.2 439.6,200.4 439.7,204.9 439.8,206.1 439.9,198.0 440.0,193.5 440.1,190.7 440.2,191.5 440.3,190.6 440.4,189.2 440.5,194.1 440.6,199.3 440.7,203.5 440.8,202.5 440.9,204.0 441.0,198.2 441.1,203.9 441.2,209.4 441.3,207.2 441.4,204.8 441.5,204.0 441.6,189.3 441.7,201.1 441.8,202.4 441.9,196.7 442.0,197.2 442.1,202.2 442.2,203.2 442.3,198.0 442.4,197.5 442.5,196.9 442.6,192.7 442.7,190.6 442.8,199.2 442.9,199.3 443.0,195.5 443.1,199.1 443.2,200.6 443.3,198.6 443.4,201.8 443.5,208.3 443.6,200.1 443.7,201.1 443.8,203.5 443.9,202.4 444.0,199.9 444.1,207.1 444.2,202.7 444.3,201.5 444.4,199.2 444.5,203.7 444.6,195.8 444.7,195.3 444.8,196.4 444.9,199.4 445.0,201.2 445.1,189.9 445.2,191.8 445.3,199.4 445.4,199.9 445.5,197.7 445.6,197.5 445.7,197.6 445.8,200.1 445.9,203.2 446.0,198.7 446.1,197.9 446.2,199.3 446.3,200.1 446.4,199.8 446.5,202.2 446.6,201.0 446.7,195.5 446.8,202.3 446.9,197.8 447.0,204.6 447.1,195.4 447.2,191.7 447.3,193.5 447.4,200.3 447.5,200.0 447.6,190.0 447.7,192.3 447.8,203.6 447.9,206.2 448.0,200.0 448.1,198.0 448.2,203.6 448.3,204.0 448.4,205.0 448.5,201.5 448.6,202.2 448.7,203.9 448.8,207.3 448.9,197.7 449.0,199.7 449.1,204.0 449.2,201.2 449.3,202.7 449.4,199.3 449.5,196.5 449.6,199.9 449.7,197.3 449.8,198.7 449.9,197.9 450.0,200.2 450.1,196.8 450.2,194.4 450.3,192.9 450.4,195.3 450.5,194.4 450.6,189.8 450.7,191.9 450.8,200.2 450.9,203.4 451.0,201.2 451.1,203.4 451.2,205.6 451.3,204.8 451.4,203.3 451.5,202.5 451.6,200.5 451.7,200.5 451.8,196.6 451.9,194.4 452.0,190.5 452.1,185.8 452.2,187.6 452.3,199.9 452.4,203.9 452.5,202.8 452.6,195.9 452.7,203.9 452.8,205.1 452.9,206.4 453.0,201.4 453.1,201.2 453.2,198.4 453.3,197.1 453.4,192.7 453.5,191.8 453.6,192.3 453.7,194.8 453.8,199.7 453.9,193.1 454.0,181.6 454.1,186.2 454.2,192.5 454.3,196.7 454.4,196.6 454.5,197.5 454.6,196.1 454.7,193.3 454.8,201.4 454.9,191.4 455.0,191.6 455.1,199.5 455.2,199.2 455.3,199.1 455.4,196.3 455.5,193.9 455.6,198.3 455.7,198.3 455.8,200.0 455.9,202.3 456.0,195.8 456.1,194.5 456.2,195.0 456.3,198.1 456.4,201.2 456.5,197.8 456.6,198.4 456.7,199.2 456.8,199.8 456.9,204.9 457.0,201.3 457.1,202.0 457.2,195.7 457.3,198.4 457.4,200.6 457.5,203.4 457.6,201.9 457.7,201.1 457.8,199.1 457.9,200.0 458.0,197.3 458.1,195.6 458.2,196.3 458.3,201.8 458.4,201.0 458.5,205.6 458.6,202.2 458.7,207.2 458.8,205.6 458.9,202.3 459.0,199.6 459.1,200.9 459.2,202.3 459.3,205.0 459.4,203.4 459.5,210.8 459.6,210.7 459.7,208.8 459.8,207.1 459.9,204.8 460.0,201.6 460.1,203.8 460.2,211.5 460.3,208.3 460.4,209.3 460.5,208.0 460.6,210.6 460.7,212.2 460.8,211.6 460.9,202.5 461.0,204.0 461.1,212.5 461.2,213.5 461.3,212.8 461.4,213.8 461.5,212.0 461.6,209.2 461.7,211.0 461.8,209.1 461.9,208.8 462.0,210.7 462.1,208.3 462.2,209.4 462.3,209.6 462.4,208.5 462.5,207.9 462.6,209.1 462.7,209.7 462.8,210.7 462.9,209.1 463.0,210.4 463.1,209.4 463.2,209.5 463.3,211.9 463.4,211.0 463.5,210.7 463.6,210.2 463.7,210.9 463.8,212.4 463.9,211.7 464.0,212.6 464.1,210.6 464.2,211.8 464.3,211.7 464.4,211.8 464.5,210.6 464.6,206.2 464.7,203.6 464.8,210.1 464.9,211.9 465.0,211.3 465.1,212.1 465.2,210.5 465.3,209.0 465.4,211.1 465.5,212.3 465.6,212.1 465.7,212.8 465.8,212.4 465.9,213.0 466.0,212.7 466.1,211.0 466.2,212.9 466.3,211.1 466.4,214.4 466.5,215.3 466.6,206.7 466.7,205.3 466.8,207.1 466.9,211.9 467.0,212.6 467.1,211.5 467.2,209.0 467.3,209.2 467.4,211.0 467.5,212.8 467.6,209.8 467.7,205.4 467.8,203.1 467.9,204.8 468.0,213.4 468.1,211.7 468.2,211.6 468.3,211.1 468.4,213.8 468.5,214.1 468.6,213.3 468.7,212.1 468.8,209.7 468.9,210.2 469.0,210.0 469.1,210.6 469.2,208.4 469.3,211.5 469.4,212.8 469.5,214.4 469.6,212.3 469.7,206.2 469.8,202.3 469.9,205.3 470.0,211.2 470.1,213.6 470.2,213.6 470.3,213.6 470.4,213.3 470.5,210.2 470.6,211.6 470.7,209.0 470.8,210.4 470.9,211.5 471.0,209.5 471.1,209.2 471.2,209.7 471.3,210.6 471.4,211.1 471.5,214.7 471.6,209.6 471.7,210.5 471.8,214.3 471.9,211.8 472.0,213.7 472.1,210.4 472.2,209.5 472.3,212.0 472.4,212.6 472.5,214.1 472.6,213.4 472.7,211.0 472.8,210.8 472.9,209.8 473.0,211.6 473.1,211.9 473.2,204.1 473.3,202.1 473.4,209.9 473.5,209.3 473.6,209.0 473.7,209.1 473.8,211.6 473.9,211.0 474.0,212.4 474.1,211.6 474.2,207.7 474.3,206.2 474.4,207.4 474.5,210.4 474.6,210.0 474.7,207.2 474.8,208.4 474.9,208.4 475.0,209.9 475.1,211.1 475.2,210.8 475.3,208.9 475.4,207.2 475.5,207.4 475.6,208.0 475.7,209.2 475.8,208.3 475.9,207.4 476.0,209.0 476.1,210.5 476.2,210.3 476.3,207.7 476.4,207.6 476.5,212.2 476.6,208.6 476.7,207.9 476.8,210.0 476.9,207.5 477.0,207.3 477.1,210.4 477.2,211.5 477.3,206.5 477.4,208.5 477.5,207.8 477.6,205.2 477.7,208.7 477.8,207.4 477.9,207.7 478.0,206.1 478.1,201.7 478.2,205.8 478.3,196.9 478.4,201.4 478.5,213.0 478.6,210.1 478.7,194.8 478.8,210.0 478.9,210.7 479.0,204.4 479.1,207.9 479.2,212.4 479.3,212.4 479.4,209.1 479.5,213.4 479.6,212.8 479.7,214.4 479.8,214.4 479.9,211.0 480.0,213.3 480.1,207.4 480.2,209.1 480.3,207.9 480.4,205.1 480.5,208.5 480.6,206.8 480.7,210.8 480.8,208.5 480.9,209.4 481.0,208.3 481.1,192.9 481.2,201.1 481.3,204.6 481.4,204.8 481.5,205.2 481.6,205.3 481.7,206.5 481.8,210.0 481.9,206.9 482.0,208.8 482.1,207.7 482.2,206.4 482.3,203.9 482.4,204.1 482.5,203.5 482.6,206.7 482.7,210.8 482.8,210.9 482.9,211.4 483.0,208.1 483.1,209.7 483.2,207.1 483.3,205.5 483.4,207.3 483.5,206.2 483.6,208.5 483.7,208.7 483.8,207.8 483.9,206.6 484.0,207.8 484.1,208.5 484.2,208.5 484.3,210.9 484.4,208.4 484.5,205.1 484.6,203.5 484.7,203.4 484.8,197.4 484.9,198.2 485.0,210.3 485.1,207.0 485.2,205.6 485.3,205.5 485.4,204.5 485.5,204.4 485.6,207.7 485.7,210.8 485.8,208.0 485.9,207.9 486.0,210.1 486.1,209.9 486.2,208.7 486.3,209.2 486.4,208.5 486.5,206.8 486.6,208.5 486.7,206.9 486.8,206.3 486.9,207.8 487.0,205.4 487.1,194.1 487.2,195.7 487.3,205.3 487.4,207.9 487.5,209.5 487.6,211.1 487.7,212.8 487.8,208.7 487.9,208.1 488.0,206.1 488.1,205.7 488.2,208.8 488.3,209.4 488.4,209.6 488.5,199.3 488.6,197.1 488.7,211.3 488.8,208.2 488.9,209.9 489.0,208.3 489.1,206.8 489.2,211.7 489.3,209.8 489.4,210.8 489.5,208.6 489.6,207.4 489.7,210.5 489.8,210.7 489.9,210.2 490.0,210.7 490.1,211.2 490.2,203.2 490.3,197.2 490.4,199.1 490.5,211.4 490.6,210.9 490.7,212.3 490.8,207.3 490.9,209.8 491.0,209.9 491.1,210.2 491.2,209.6 491.3,208.5 491.4,210.2 491.5,208.1 491.6,203.7 491.7,201.8 491.8,202.8 491.9,210.6 492.0,210.3 492.1,208.0 492.2,209.1 492.3,210.9 492.4,208.8 492.5,209.5 492.6,210.1 492.7,211.1 492.8,212.3 492.9,214.5 493.0,212.5 493.1,211.5 493.2,209.9 493.3,211.6 493.4,211.0 493.5,211.4 493.6,201.6 493.7,204.5 493.8,210.5 493.9,210.7 494.0,210.8 494.1,201.9 494.2,200.3 494.3,203.2 494.4,212.4 494.5,210.6 494.6,210.7 494.7,210.7 494.8,212.4 494.9,210.8 495.0,210.4 495.1,209.7 495.2,211.5 495.3,212.2 495.4,212.2 495.5,211.8 495.6,214.9 495.7,203.3 495.8,205.6 495.9,207.8 496.0,207.1 496.1,208.1 496.2,207.1 496.3,208.9 496.4,207.6 496.5,209.1 496.6,209.0 496.7,210.7 496.8,206.7 496.9,206.1 497.0,213.1 497.1,210.5 497.2,210.0 497.3,208.4 497.4,211.2 497.5,212.7 497.6,211.9 497.7,207.8 497.8,210.6 497.9,213.7 498.0,211.2 498.1,215.4 498.2,213.1 498.3,212.3 498.4,205.6 498.5,201.4 498.6,209.9 498.7,211.4 498.8,208.8 498.9,210.7 499.0,211.1 499.1,209.0 499.2,214.7 499.3,210.7 499.4,207.0 499.5,204.4 499.6,216.8 499.7,214.7 499.8,211.5 499.9,211.5 500.0,210.5 500.1,207.5 500.2,210.8 500.3,209.8 500.4,209.3 500.5,212.8 500.6,211.4 500.7,210.3 500.8,212.0 500.9,214.4 501.0,210.6 501.1,209.5 501.2,209.6 501.3,211.6 501.4,212.0 501.5,213.4 501.6,210.6 501.7,211.0 501.8,213.3 501.9,210.1 502.0,212.3 502.1,210.9 502.2,211.7 502.3,210.3 502.4,211.8 502.5,212.8 502.6,212.2 502.7,214.2 502.8,211.8 502.9,213.1 503.0,211.0 503.1,212.7 503.2,213.4 503.3,211.8 503.4,214.0 503.5,213.0 503.6,210.7 503.7,210.8 503.8,212.6 503.9,206.7 504.0,213.5 504.1,214.8 504.2,214.7 504.3,214.3 504.4,213.6 504.5,213.6 504.6,215.0 504.7,212.9 504.8,212.3 504.9,213.4 505.0,211.4 505.1,213.2 505.2,212.8 505.3,213.3 505.4,215.8 505.5,211.8 505.6,213.8 505.7,211.5 505.8,213.4 505.9,207.4 506.0,206.1 506.1,207.1 506.2,209.5 506.3,211.4 506.4,213.4 506.5,216.3 506.6,212.1 506.7,212.6 506.8,210.2 506.9,211.5 507.0,210.7 507.1,209.1 507.2,213.5 507.3,211.8 507.4,209.8 507.5,208.8 507.6,213.5 507.7,214.7 507.8,214.6 507.9,212.3 508.0,213.1 508.1,213.0 508.2,214.1 508.3,211.3 508.4,213.1 508.5,214.5 508.6,212.6 508.7,211.5 508.8,212.1 508.9,210.9 509.0,211.6 509.1,212.1 509.2,214.5 509.3,212.8 509.4,212.8 509.5,214.8 509.6,212.3 509.7,214.2 509.8,213.6 509.9,214.4 510.0,214.2 510.1,214.8 510.2,211.3 510.3,212.0 510.4,211.0 510.5,212.1 510.6,212.4 510.7,213.3 510.8,215.3 510.9,215.3 511.0,215.2 511.1,215.3 511.2,214.6 511.3,215.9 511.4,215.8 511.5,215.1 511.6,215.9 511.7,214.8 511.8,214.1 511.9,213.3 512.0,212.4 512.1,212.1 512.2,214.2 512.3,213.8 512.4,213.9 512.5,214.7 512.6,214.4 512.7,213.4 512.8,213.0 512.9,213.1 513.0,214.6 513.1,213.9 513.2,213.5 513.3,214.3 513.4,214.3 513.5,214.3 513.6,214.5 513.7,215.9 513.8,214.8 513.9,214.1 514.0,215.8 514.1,214.2 514.2,212.6 514.3,214.1 514.4,209.7 514.5,210.6 514.6,214.1 514.7,213.1 514.8,214.0 514.9,213.0 515.0,214.3 515.1,215.3 515.2,214.1 515.3,215.2 515.4,214.9 515.5,216.3 515.6,215.4 515.7,213.1 515.8,211.9 515.9,213.8 516.0,213.5 516.1,214.2 516.2,213.1 516.3,213.1 516.4,211.5 516.5,213.0 516.6,214.3 516.7,213.5 516.8,214.3 516.9,213.5 517.0,214.2 517.1,213.7 517.2,213.1 517.3,214.0 517.4,212.3 517.5,214.8 517.6,213.0 517.7,211.6 517.8,213.0 517.9,212.5 518.0,213.8 518.1,212.6 518.2,214.7 518.3,215.6 518.4,214.0 518.5,215.9 518.6,214.7 518.7,214.5 518.8,213.8 518.9,214.2 519.0,214.6 519.1,214.3 519.2,214.6 519.3,214.6 519.4,214.9 519.5,213.4 519.6,213.4 519.7,212.8 519.8,213.5 519.9,213.8 520.0,213.9 520.1,213.5 520.2,215.6 520.3,214.2 520.4,214.8 520.5,214.3 520.6,215.7 520.7,216.3 520.8,217.7 520.9,215.9 521.0,214.5 521.1,213.6 521.2,214.8 521.3,214.7 521.4,213.3 521.5,213.7 521.6,212.9 521.7,212.4 521.8,213.4 521.9,214.0 522.0,208.3 522.1,213.9 522.2,213.3 522.3,213.8 522.4,214.1 522.5,214.0 522.6,216.5 522.7,215.5 522.8,215.3 522.9,214.4 523.0,214.5 523.1,214.7 523.2,215.3 523.3,212.4 523.4,214.5 523.5,215.2 523.6,215.3 523.7,214.2 523.8,213.0 523.9,209.2 524.0,208.3 524.1,211.7 524.2,215.2 524.3,215.8 524.4,214.7 524.5,213.9 524.6,215.6 524.7,216.5 524.8,216.6 524.9,217.0 525.0,216.2 525.1,213.7 525.2,214.2 525.3,215.7 525.4,215.3 525.5,216.0 525.6,216.3 525.7,215.0 525.8,215.7 525.9,215.6 526.0,214.2 526.1,215.7 526.2,214.6 526.3,215.4 526.4,215.9 526.5,215.0 526.6,214.3 526.7,215.2 526.8,215.5 526.9,216.6 527.0,211.4 527.1,208.7 527.2,211.0 527.3,216.7 527.4,215.2 527.5,213.6 527.6,214.9 527.7,214.9 527.8,214.6 527.9,216.5 528.0,214.7 528.1,214.8 528.2,215.9 528.3,215.5 528.4,215.1 528.5,215.5 528.6,215.1 528.7,213.7 528.8,210.3 528.9,209.1 529.0,210.6 529.1,214.5 529.2,215.2 529.3,215.9 529.4,216.3 529.5,217.2 529.6,217.3 529.7,216.4 529.8,215.7 529.9,216.2 530.0,214.8 530.1,213.6 530.2,215.2 530.3,216.3 530.4,216.5 530.5,216.3 530.6,214.5 530.7,213.6 530.8,213.9 530.9,216.1 531.0,215.5 531.1,215.7 531.2,214.8 531.3,216.3 531.4,214.2 531.5,216.3 531.6,215.9 531.7,213.3 531.8,214.4 531.9,215.4 532.0,215.9 532.1,216.2 532.2,215.6 532.3,215.3 532.4,215.5 532.5,214.9 532.6,216.7 532.7,215.1 532.8,215.4 532.9,215.2 533.0,214.0 533.1,215.9 533.2,212.2 533.3,213.6 533.4,211.7 533.5,209.2 533.6,212.8 533.7,216.2 533.8,215.1 533.9,215.4 534.0,214.8 534.1,215.5 534.2,215.9 534.3,216.3 534.4,216.2 534.5,215.9 534.6,214.4 534.7,215.0 534.8,216.2 534.9,214.3 535.0,215.6 535.1,214.7 535.2,214.2 535.3,214.0 535.4,215.1 535.5,215.1 535.6,215.2 535.7,214.0 535.8,216.1 535.9,214.5 536.0,216.0 536.1,216.8 536.2,216.7 536.3,214.4 536.4,214.6 536.5,213.7 536.6,215.9 536.7,215.6 536.8,215.6 536.9,215.4 537.0,215.3 537.1,216.1 537.2,217.7 537.3,217.3 537.4,217.5 537.5,216.9 537.6,208.7 537.7,213.9 537.8,208.8 537.9,207.8 538.0,208.5 538.1,210.5 538.2,209.3 538.3,210.8 538.4,212.7 538.5,212.8 538.6,213.2 538.7,214.5 538.8,216.2 538.9,217.4 539.0,216.6 539.1,216.9 539.2,215.0 539.3,213.3 539.4,214.4 539.5,216.3 539.6,216.0 539.7,207.0 539.8,209.7 539.9,216.9 540.0,216.6 540.1,209.9 540.2,207.0 540.3,208.0 540.4,214.8 540.5,213.9 540.6,213.4 540.7,213.2 540.8,213.2 540.9,213.9 541.0,213.1 541.1,213.8 541.2,212.8 541.3,211.9 541.4,209.8 541.5,211.6 541.6,214.4 541.7,214.9 541.8,215.9 541.9,214.1 542.0,212.4 542.1,211.5 542.2,210.4 542.3,212.9 542.4,215.0 542.5,212.9 542.6,213.7 542.7,211.0 542.8,212.4 542.9,213.9 543.0,212.0 543.1,214.4 543.2,212.9 543.3,213.2 543.4,215.8 543.5,211.7 543.6,212.9 543.7,212.3 543.8,214.9 543.9,213.7 544.0,212.8 544.1,213.5 544.2,216.0 544.3,213.3 544.4,211.1 544.5,210.2 544.6,212.8 544.7,209.2 544.8,208.4 544.9,208.8 545.0,208.5 545.1,209.7 545.2,209.3 545.3,204.2 545.4,203.7 545.5,214.3 545.6,203.1 545.7,204.6 545.8,210.0 545.9,207.2 546.0,206.9 546.1,209.2 546.2,210.6 546.3,213.6 546.4,212.5 546.5,210.7 546.6,215.8 546.7,213.1 546.8,202.9 546.9,208.9 547.0,211.5 547.1,209.8 547.2,210.3 547.3,208.4 547.4,211.3 547.5,214.9 547.6,208.4 547.7,206.8 547.8,209.5 547.9,210.0 548.0,209.5 548.1,206.4 548.2,198.5 548.3,199.6 548.4,208.7 548.5,210.8 548.6,215.0 548.7,200.8 548.8,199.0 548.9,202.4 549.0,212.8 549.1,208.7 549.2,211.4 549.3,205.5 549.4,208.8 549.5,205.4 549.6,203.2 549.7,205.5 549.8,204.5 549.9,205.7 550.0,205.3 550.1,203.1 550.2,206.1 550.3,204.8 550.4,202.8 550.5,201.5 550.6,197.3 550.7,196.5 550.8,200.7 550.9,196.8 551.0,188.2 551.1,193.2 551.2,205.4 551.3,204.7 551.4,205.8 551.5,205.9 551.6,208.3 551.7,204.7 551.8,204.6 551.9,204.3 552.0,203.1 552.1,203.3 552.2,206.2 552.3,209.5 552.4,207.1 552.5,205.8 552.6,205.8 552.7,208.2 552.8,208.1 552.9,211.0 553.0,211.7 553.1,211.7 553.2,207.2 553.3,205.0 553.4,203.7 553.5,202.8 553.6,206.3 553.7,203.7 553.8,197.0 553.9,195.0 554.0,201.9 554.1,206.4 554.2,201.8 554.3,206.7 554.4,202.1 554.5,204.6 554.6,205.4 554.7,205.8 554.8,205.1 554.9,203.2 555.0,203.2 555.1,207.5 555.2,208.8 555.3,211.8 555.4,211.8 555.5,210.6 555.6,208.7 555.7,206.7 555.8,209.6 555.9,206.8 556.0,205.4 556.1,203.7 556.2,205.8 556.3,212.1 556.4,209.3 556.5,203.1 556.6,202.2 556.7,205.8 556.8,204.6 556.9,203.6 557.0,206.2 557.1,205.6 557.2,203.2 557.3,205.3 557.4,202.7 557.5,203.6 557.6,209.2 557.7,201.6 557.8,207.5 557.9,201.7 558.0,204.0 558.1,199.1 558.2,201.2 558.3,201.2 558.4,201.5 558.5,201.1 558.6,207.0 558.7,208.9 558.8,203.4 558.9,199.8 559.0,190.1 559.1,195.0 559.2,207.5 559.3,210.2 559.4,209.7 559.5,203.2 559.6,202.3 559.7,206.2 559.8,211.1 559.9,206.1 560.0,205.8 560.1,208.0 560.2,206.5 560.3,205.7 560.4,202.0 560.5,203.0 560.6,201.6 560.7,198.4 560.8,195.6 560.9,199.1 561.0,207.6 561.1,208.0 561.2,202.5 561.3,200.2 561.4,202.6 561.5,203.8 561.6,203.1 561.7,203.1 561.8,200.9 561.9,199.8 562.0,199.0 562.1,199.9 562.2,194.4 562.3,189.0 562.4,200.4 562.5,204.8 562.6,205.0 562.7,201.9 562.8,209.8 562.9,200.5 563.0,193.2 563.1,198.0 563.2,202.8 563.3,200.5 563.4,201.7 563.5,205.5 563.6,207.1 563.7,206.9 563.8,206.1 563.9,205.1 564.0,207.0 564.1,205.9 564.2,205.5 564.3,208.5 564.4,204.8 564.5,205.2 564.6,204.3 564.7,201.5 564.8,206.5 564.9,202.4 565.0,201.8 565.1,195.4 565.2,193.4 565.3,210.1 565.4,209.0 565.5,211.3 565.6,211.7 565.7,210.0 565.8,210.0 565.9,206.4 566.0,202.3 566.1,206.4 566.2,202.9 566.3,205.1 566.4,208.8 566.5,206.5 566.6,209.3 566.7,207.0 566.8,205.4 566.9,206.7 567.0,210.6 567.1,204.2 567.2,204.9 567.3,202.5 567.4,204.0 567.5,205.5 567.6,200.9 567.7,199.4 567.8,204.0 567.9,205.3 568.0,203.0 568.1,203.7 568.2,193.4 568.3,193.7 568.4,200.5 568.5,200.7 568.6,206.8 568.7,204.5 568.8,203.2 568.9,204.0 569.0,205.0 569.1,205.2 569.2,205.7 569.3,202.9 569.4,204.6 569.5,206.5 569.6,205.7 569.7,204.6 569.8,202.6 569.9,203.8 570.0,200.8 570.1,201.1 570.2,202.0 570.3,197.0 570.4,195.5 570.5,193.9 570.6,194.5 570.7,198.6 570.8,199.9 570.9,200.9 571.0,203.5 571.1,200.7 571.2,200.8 571.3,202.9 571.4,201.6 571.5,200.4 571.6,202.2 571.7,204.4 571.8,205.2 571.9,200.8 572.0,202.2 572.1,202.4 572.2,207.2 572.3,205.2 572.4,203.5 572.5,206.9 572.6,203.2 572.7,206.4 572.8,208.2 572.9,196.2 573.0,194.0 573.1,205.9 573.2,210.5 573.3,207.8 573.4,204.7 573.5,205.9 573.6,192.7 573.7,202.2 573.8,202.8 573.9,204.1 574.0,207.1 574.1,207.0 574.2,206.8 574.3,203.7 574.4,206.3 574.5,203.1 574.6,201.1 574.7,200.7 574.8,199.6 574.9,201.4 575.0,204.0 575.1,192.2 575.2,195.5 575.3,203.3 575.4,201.7 575.5,205.0 575.6,208.2 575.7,205.1 575.8,203.3 575.9,205.9 576.0,210.9 576.1,206.7 576.2,208.8 576.3,207.7 576.4,203.1 576.5,203.0 576.6,204.0 576.7,202.3 576.8,208.0 576.9,198.9 577.0,199.1 577.1,199.1 577.2,198.4 577.3,198.2 577.4,200.2 577.5,202.6 577.6,202.7 577.7,204.4 577.8,202.9 577.9,199.6 578.0,198.7 578.1,203.8 578.2,201.4 578.3,200.4 578.4,202.3 578.5,203.9 578.6,202.9 578.7,204.9 578.8,207.8 578.9,210.0 579.0,207.1 579.1,201.0 579.2,198.5 579.3,193.3 579.4,191.9 579.5,193.5 579.6,198.2 579.7,206.4 579.8,210.7 579.9,204.9 580.0,207.6 580.1,196.2 580.2,191.8 580.3,201.2 580.4,200.9 580.5,207.3 580.6,206.4 580.7,198.7 580.8,191.0 580.9,206.8 581.0,206.3 581.1,207.5 581.2,202.7 581.3,204.4 581.4,204.1 581.5,202.9 581.6,203.0 581.7,203.5 581.8,204.3 581.9,201.3 582.0,204.3 582.1,200.1 582.2,194.3 582.3,191.7 582.4,190.8 582.5,201.3 582.6,207.1 582.7,193.0 582.8,194.4 582.9,199.7 583.0,196.4 583.1,192.0 583.2,193.6 583.3,200.5 583.4,197.5 583.5,199.2 583.6,204.2 583.7,205.6 583.8,205.0 583.9,190.4 584.0,208.8 584.1,210.1 584.2,195.1 584.3,196.7 584.4,194.2 584.5,198.0 584.6,199.6 584.7,205.4 584.8,208.4 584.9,205.1 585.0,190.4 585.1,196.7 585.2,201.4 585.3,199.9 585.4,205.6 585.5,201.6 585.6,203.0 585.7,210.2 585.8,206.0 585.9,210.4 586.0,203.4 586.1,200.9 586.2,206.1 586.3,207.1 586.4,205.6 586.5,204.5 586.6,207.2 586.7,211.1 586.8,204.3 586.9,192.7 587.0,206.0 587.1,204.1 587.2,195.5 587.3,193.6 587.4,207.2 587.5,207.9 587.6,210.2 587.7,206.6 587.8,210.1 587.9,204.0 588.0,204.9 588.1,202.0 588.2,200.4 588.3,206.1 588.4,206.5 588.5,206.0 588.6,207.2 588.7,204.2 588.8,207.7 588.9,204.8 589.0,206.3 589.1,205.5 589.2,207.5 589.3,203.3 589.4,205.9 589.5,207.4 589.6,206.2 589.7,197.7 589.8,193.2 589.9,196.0 590.0,203.2 590.1,202.1 590.2,198.1 590.3,202.5 590.4,204.5 590.5,203.0 590.6,199.6 590.7,199.6 590.8,195.1 590.9,193.7 591.0,201.9 591.1,196.8 591.2,199.9 591.3,193.1 591.4,198.4 591.5,201.2 591.6,201.7 591.7,201.4 591.8,196.3 591.9,206.0 592.0,203.9 592.1,205.0 592.2,204.4 592.3,203.4 592.4,203.1 592.5,197.5 592.6,201.2 592.7,200.5 592.8,201.1 592.9,205.4 593.0,204.5 593.1,209.8 593.2,202.4 593.3,194.9 593.4,209.8 593.5,203.0 593.6,209.8 593.7,211.7 593.8,208.0 593.9,206.3 594.0,200.8 594.1,205.7 594.2,205.8 594.3,205.8 594.4,204.1 594.5,194.2 594.6,202.9 594.7,202.1 594.8,201.6 594.9,201.1 595.0,207.5 595.1,211.7 595.2,203.0 595.3,203.2 595.4,201.6 595.5,200.7 595.6,204.0 595.7,194.5 595.8,200.8 595.9,196.5 596.0,200.1 596.1,200.3 596.2,196.3 596.3,194.8 596.4,199.2 596.5,206.1 596.6,200.1 596.7,197.1 596.8,199.4 596.9,201.2 597.0,195.7 597.1,194.4 597.2,197.3 597.3,200.3 597.4,199.6 597.5,200.3 597.6,203.1 597.7,202.4 597.8,201.1 597.9,203.9 598.0,201.2 598.1,202.1 598.2,203.6 598.3,201.8 598.4,205.5 598.5,204.0 598.6,208.6 598.7,205.7 598.8,203.5 598.9,194.7 599.0,197.9 599.1,204.5 599.2,200.2 599.3,196.8 599.4,196.5 599.5,199.7 599.6,201.5 599.7,200.1 599.8,200.6 599.9,201.9 600.0,203.9 600.1,200.9 600.2,197.7 600.3,199.5 600.4,205.9 600.5,198.9 600.6,196.7 600.7,199.4 600.8,200.1 600.9,203.7 601.0,202.1 601.1,198.9 601.2,200.9 601.3,202.2 601.4,205.6 601.5,206.5 601.6,204.7 601.7,206.8 601.8,197.9 601.9,196.6 602.0,199.0 602.1,206.3 602.2,204.2 602.3,205.3 602.4,199.2 602.5,197.9 602.6,206.9 602.7,201.4 602.8,202.0 602.9,203.1 603.0,205.2 603.1,208.0 603.2,209.4 603.3,208.5 603.4,209.3 603.5,206.3 603.6,204.9 603.7,208.3 603.8,199.0 603.9,201.4 604.0,210.2 604.1,210.3 604.2,208.8 604.3,209.9 604.4,209.1 604.5,210.3 604.6,211.4 604.7,209.9 604.8,205.8 604.9,201.4 605.0,206.0 605.1,209.4 605.2,211.1 605.3,208.3 605.4,207.4 605.5,205.9 605.6,207.4 605.7,208.9 605.8,208.8 605.9,213.8 606.0,214.2 606.1,211.1 606.2,211.3 606.3,211.1 606.4,212.0 606.5,212.0 606.6,209.7 606.7,214.1 606.8,215.4 606.9,215.2 607.0,205.3 607.1,208.8 607.2,212.9 607.3,211.0 607.4,212.9 607.5,211.5 607.6,211.6 607.7,210.4 607.8,212.6 607.9,212.3 608.0,213.0 608.1,212.5 608.2,211.1 608.3,217.6 608.4,213.0 608.5,212.0 608.6,213.8 608.7,215.4 608.8,217.1 608.9,216.7 609.0,215.7 609.1,216.2 609.2,214.1 609.3,213.9 609.4,214.1 609.5,211.8 609.6,213.6 609.7,215.1 609.8,214.4 609.9,215.8 610.0,213.9 610.1,215.4 610.2,216.2 610.3,214.8 610.4,214.8 610.5,214.1 610.6,213.0 610.7,212.2 610.8,212.1 610.9,213.7 611.0,212.4 611.1,213.3 611.2,216.7 611.3,216.6 611.4,216.1 611.5,215.1 611.6,212.6 611.7,214.5 611.8,215.7 611.9,215.2 612.0,214.2 612.1,214.5 612.2,213.9 612.3,215.4 612.4,215.1 612.5,215.8 612.6,214.5 612.7,213.2 612.8,209.5 612.9,208.2 613.0,209.5 613.1,215.0 613.2,215.0 613.3,215.0 613.4,213.1 613.5,214.7 613.6,215.5 613.7,216.7 613.8,215.6 613.9,215.6 614.0,215.8 614.1,216.2 614.2,216.6 614.3,216.2 614.4,216.2 614.5,216.5 614.6,217.4 614.7,217.4 614.8,216.8 614.9,215.9 615.0,215.2 615.1,216.0 615.2,214.8 615.3,214.0 615.4,214.6 615.5,214.4 615.6,214.6 615.7,215.3 615.8,215.2 615.9,215.6 616.0,215.8 616.1,215.6 616.2,211.4 616.3,206.3 616.4,199.8 616.5,203.9 616.6,214.3 616.7,214.8 616.8,217.0 616.9,216.3 617.0,216.7 617.1,215.7 617.2,214.8 617.3,216.2 617.4,216.1 617.5,214.7 617.6,216.2 617.7,215.7 617.8,216.6 617.9,217.3 618.0,216.3 618.1,215.1 618.2,216.5 618.3,217.7 618.4,217.1 618.5,214.8 618.6,214.6 618.7,215.5 618.8,213.6 618.9,213.6 619.0,213.5 619.1,213.8 619.2,216.6 619.3,216.2 619.4,217.5 619.5,216.8 619.6,216.2 619.7,217.3 619.8,215.5 619.9,216.9 620.0,217.2 620.1,217.1 620.2,217.3 620.3,215.2 620.4,214.6 620.5,213.4 620.6,213.5 620.7,215.4 620.8,214.3 620.9,213.8 621.0,213.8 621.1,213.1 621.2,214.1 621.3,215.2 621.4,216.5 621.5,216.1 621.6,216.3 621.7,216.9 621.8,215.5 621.9,214.8 622.0,215.3 622.1,215.4 622.2,215.1 622.3,215.1 622.4,214.5 622.5,213.7 622.6,214.6 622.7,214.3 622.8,213.8 622.9,215.1 623.0,215.3 623.1,216.4 623.2,215.2 623.3,216.4 623.4,217.7 623.5,216.1 623.6,215.1 623.7,214.3 623.8,213.9 623.9,214.2 624.0,214.9 624.1,214.4 624.2,215.2 624.3,214.1 624.4,214.2 624.5,215.5 624.6,216.6 624.7,217.7 624.8,217.7 624.9,217.7 625.0,214.9 625.1,214.3 625.2,214.1 625.3,214.4 625.4,215.1 625.5,216.6 625.6,215.4 625.7,212.5 625.8,212.2 625.9,213.8 626.0,215.0 626.1,213.9 626.2,215.3 626.3,215.4 626.4,216.7 626.5,213.3 626.6,214.2 626.7,214.4 626.8,214.8 626.9,214.5 627.0,213.9 627.1,214.1 627.2,213.1 627.3,211.6 627.4,213.7 627.5,213.7 627.6,213.3 627.7,215.4 627.8,214.9 627.9,214.8 628.0,215.5 628.1,214.9 628.2,215.1 628.3,214.2 628.4,215.7 628.5,215.4 628.6,217.0 628.7,216.8 628.8,217.3 628.9,215.8 629.0,214.9 629.1,215.9 629.2,216.4 629.3,215.5 629.4,216.0 629.5,215.3 629.6,215.7 629.7,214.7 629.8,215.6 629.9,214.9 630.0,215.5 630.1,215.0 630.2,215.0 630.3,215.1 630.4,215.3 630.5,216.5 630.6,217.7 630.7,217.0 630.8,214.9 630.9,215.0 631.0,213.9 631.1,215.8 631.2,215.5 631.3,215.1 631.4,215.5 631.5,214.8 631.6,215.6 631.7,215.7 631.8,214.1 631.9,215.3 632.0,214.6 632.1,215.7 632.2,213.3 632.3,215.8 632.4,215.1 632.5,214.7 632.6,216.1 632.7,214.9 632.8,215.9 632.9,213.9 633.0,215.9 633.1,217.1 633.2,217.2 633.3,214.6 633.4,215.3 633.5,215.5 633.6,214.9 633.7,214.1 633.8,214.1 633.9,213.9 634.0,214.4 634.1,215.7 634.2,215.3 634.3,215.8 634.4,215.6 634.5,214.9 634.6,215.2 634.7,215.0 634.8,215.6 634.9,217.2 635.0,211.1 635.1,208.4 635.2,210.4 635.3,213.8 635.4,212.9 635.5,214.4 635.6,216.4 635.7,215.1 635.8,215.4 635.9,214.2 636.0,214.8 636.1,216.3 636.2,214.7 636.3,214.2 636.4,208.0 636.5,214.2 636.6,215.0 636.7,214.5 636.8,215.3 636.9,217.1 637.0,214.5 637.1,214.5 637.2,213.1 637.3,212.3 637.4,217.7 637.5,214.2 637.6,215.5 637.7,215.6 637.8,216.5 637.9,215.7 638.0,214.5 638.1,215.9 638.2,217.7 638.3,214.2 638.4,214.0 638.5,215.2 638.6,216.0 638.7,215.8 638.8,214.4 638.9,214.7 639.0,216.5 639.1,216.5 639.2,217.1 639.3,215.1 639.4,214.6 639.5,215.1 639.6,215.4 639.7,215.0 639.8,213.2 639.9,214.3 640.0,214.8 640.1,214.2 640.2,215.5 640.3,217.7 640.4,216.7 640.5,215.9 640.6,216.5 640.7,217.7 640.8,216.9 640.9,216.0 641.0,215.3 641.1,217.3 641.2,217.3 641.3,217.2 641.4,216.4 641.5,215.3 641.6,214.6 641.7,216.0 641.8,217.4 641.9,215.5 642.0,216.5 642.1,213.9 642.2,211.9 642.3,212.9 642.4,214.2 642.5,215.4 642.6,214.6 642.7,213.7 642.8,215.5 642.9,212.0 643.0,213.8 643.1,214.4 643.2,213.0 643.3,211.1 643.4,210.6 643.5,211.0 643.6,212.2 643.7,211.4 643.8,212.5 643.9,213.3 644.0,213.8 644.1,214.5 644.2,215.2 644.3,215.1 644.4,213.0 644.5,212.4 644.6,214.2 644.7,213.5 644.8,214.6 644.9,215.5 645.0,211.1 645.1,214.8 645.2,211.2 645.3,207.8 645.4,211.1 645.5,215.9 645.6,216.2 645.7,214.2 645.8,213.9 645.9,213.2 646.0,213.1 646.1,213.6 646.2,213.7 646.3,213.2 646.4,212.5 646.5,211.8 646.6,212.1 646.7,211.4 646.8,211.2 646.9,213.1 647.0,214.3 647.1,213.1 647.2,212.1 647.3,209.7 647.4,207.3 647.5,208.1 647.6,211.8 647.7,211.7 647.8,213.6 647.9,214.2 648.0,213.0 648.1,215.4 648.2,216.2 648.3,211.9 648.4,207.7 648.5,214.2 648.6,213.8 648.7,213.6 648.8,212.4 648.9,214.2 649.0,213.1 649.1,210.6 649.2,212.8 649.3,213.2 649.4,214.0 649.5,213.3 649.6,211.0 649.7,214.5 649.8,215.1 649.9,214.6 650.0,214.8 650.1,216.2 650.2,215.8 650.3,215.0 650.4,214.7 650.5,213.0 650.6,214.0 650.7,211.2 650.8,209.5 650.9,210.0 651.0,213.7 651.1,212.1 651.2,212.9 651.3,213.5 651.4,213.5 651.5,215.4 651.6,216.1 651.7,215.6 651.8,214.3 651.9,214.8 652.0,209.7 652.1,213.1 652.2,215.9 652.3,216.3 652.4,214.8 652.5,215.5 652.6,213.9 652.7,214.4"/>
<text x="20" y="140.6" font-size="16.5" font-weight="bold" fill="#000">b</text><text transform="translate(12.2,266.1) rotate(-90)" font-size="14.72" fill="#000">Number of tracks in one minute windows</text><text x="352" y="267.4" font-size="14.67" fill="#000" text-anchor="middle">Time (GMT)</text></svg></body></html>
